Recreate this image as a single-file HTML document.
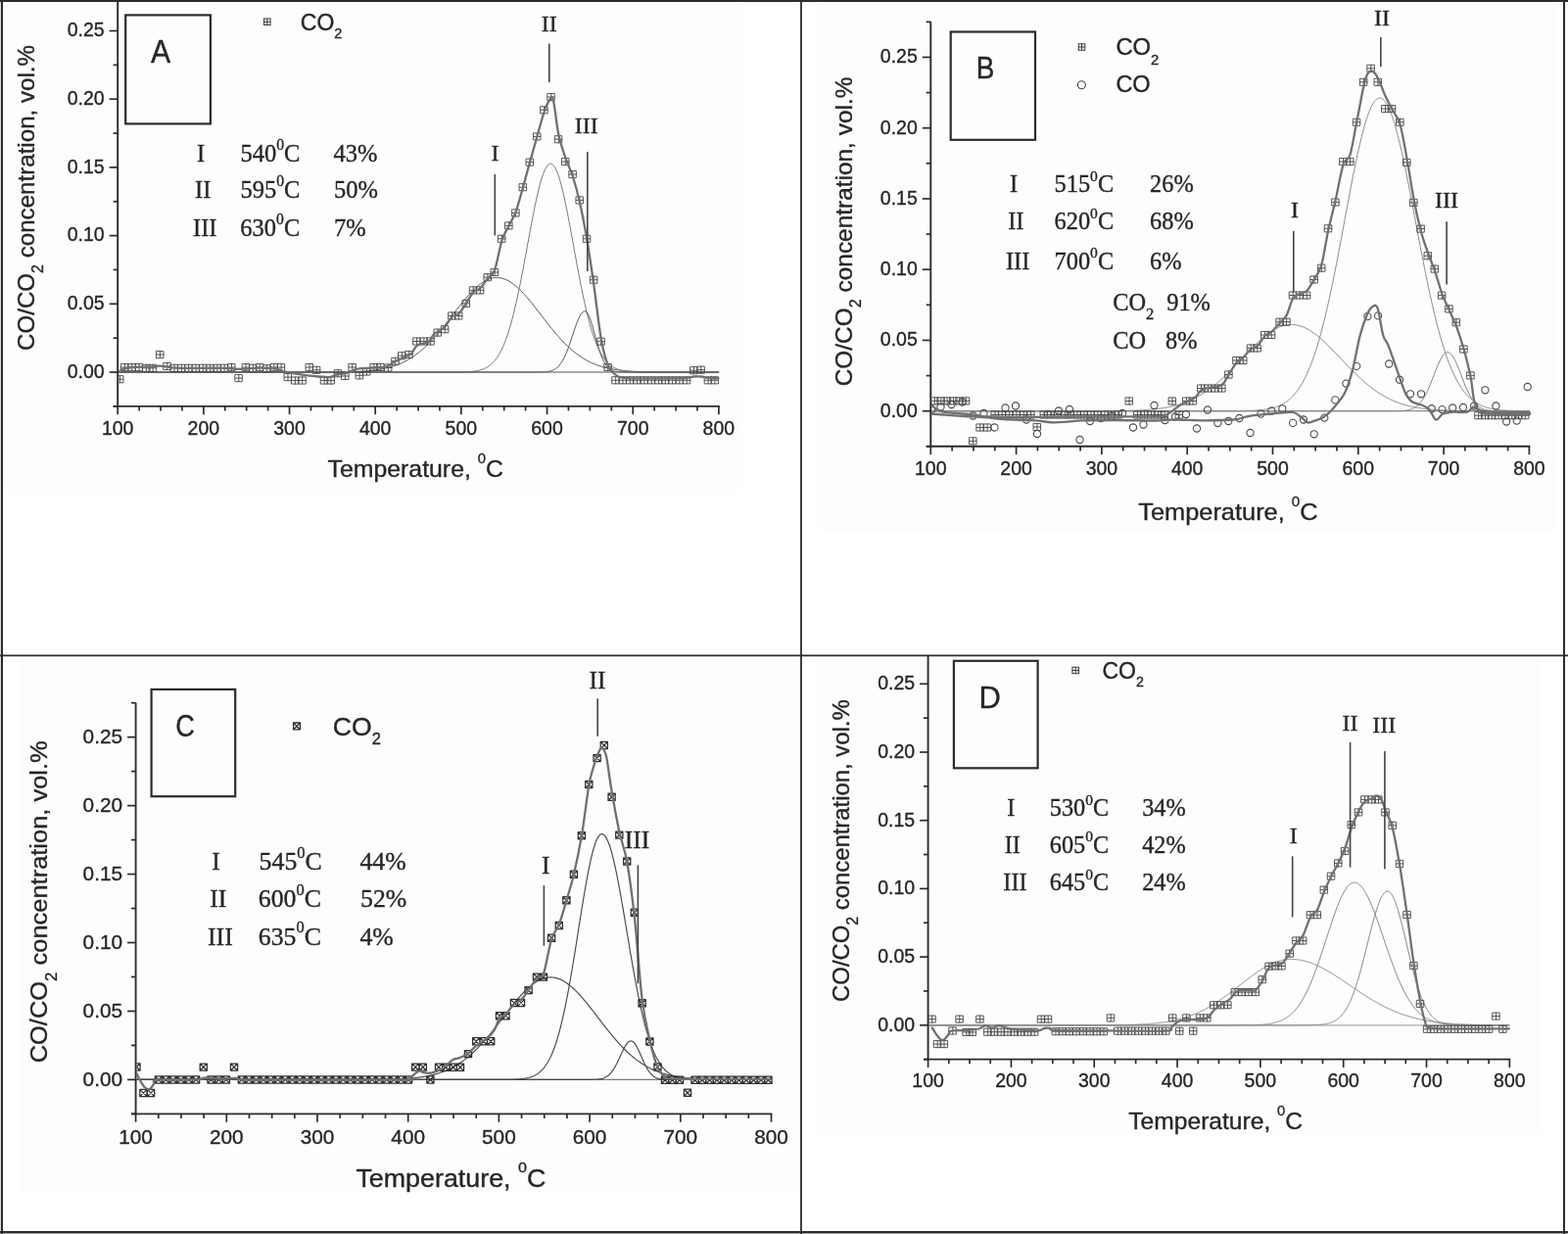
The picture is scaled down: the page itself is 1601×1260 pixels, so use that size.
<!DOCTYPE html>
<html><head><meta charset="utf-8"><title>Figure</title>
<style>html,body{margin:0;padding:0;background:#fff;}svg{display:block;}text{stroke:#262626;stroke-width:0.35px;}</style></head>
<body><svg width="1601" height="1260" viewBox="0 0 1601 1260">
<rect x="0" y="0" width="1601" height="1260" fill="#fff"/>
<rect x="0" y="0" width="1" height="1260" fill="#ddd"/><rect x="0" y="1259" width="1601" height="1" fill="#aaa"/>
<g fill="#fdfdfd"><rect x="3" y="2" width="755" height="499"/><rect x="835" y="2" width="753" height="540"/><rect x="20" y="670" width="790" height="547"/><rect x="835" y="670" width="738" height="488"/></g>
<clipPath id="clipA"><rect x="121.20" y="0.00" width="615.69" height="413.85"/></clipPath>
<g clip-path="url(#clipA)" fill="none" stroke-linejoin="round" stroke-linecap="round">
<line x1="120.20" y1="380.00" x2="733.89" y2="380.00" stroke="#8c8c8c" stroke-width="1.3"/>
<path d="M121.20,380.00 L122.20,380.00 L123.20,380.00 L124.20,380.00 L125.20,380.00 L126.20,380.00 L127.20,380.00 L128.20,380.00 L129.20,380.00 L130.20,380.00 L131.20,380.00 L132.20,380.00 L133.20,380.00 L134.20,380.00 L135.20,380.00 L136.20,380.00 L137.20,380.00 L138.20,380.00 L139.20,380.00 L140.20,380.00 L141.20,380.00 L142.20,380.00 L143.20,380.00 L144.20,380.00 L145.20,380.00 L146.20,380.00 L147.20,380.00 L148.20,380.00 L149.20,380.00 L150.20,380.00 L151.20,380.00 L152.20,380.00 L153.20,380.00 L154.20,380.00 L155.20,380.00 L156.20,380.00 L157.20,380.00 L158.20,380.00 L159.20,380.00 L160.20,380.00 L161.20,380.00 L162.20,380.00 L163.20,380.00 L164.20,380.00 L165.20,380.00 L166.20,380.00 L167.20,380.00 L168.20,380.00 L169.20,380.00 L170.20,380.00 L171.20,380.00 L172.20,380.00 L173.20,380.00 L174.20,380.00 L175.20,380.00 L176.20,380.00 L177.20,380.00 L178.20,380.00 L179.20,380.00 L180.20,380.00 L181.20,380.00 L182.20,380.00 L183.20,380.00 L184.20,380.00 L185.20,380.00 L186.20,380.00 L187.20,380.00 L188.20,380.00 L189.20,380.00 L190.20,380.00 L191.20,380.00 L192.20,380.00 L193.20,380.00 L194.20,380.00 L195.20,380.00 L196.20,380.00 L197.20,380.00 L198.20,380.00 L199.20,380.00 L200.20,380.00 L201.20,380.00 L202.20,380.00 L203.20,380.00 L204.20,380.00 L205.20,380.00 L206.20,380.00 L207.20,380.00 L208.20,380.00 L209.20,380.00 L210.20,380.00 L211.20,380.00 L212.20,380.00 L213.20,380.00 L214.20,380.00 L215.20,380.00 L216.20,380.00 L217.20,380.00 L218.20,380.00 L219.20,380.00 L220.20,380.00 L221.20,380.00 L222.20,380.00 L223.20,380.00 L224.20,380.00 L225.20,380.00 L226.20,380.00 L227.20,380.00 L228.20,380.00 L229.20,380.00 L230.20,380.00 L231.20,380.00 L232.20,380.00 L233.20,380.00 L234.20,380.00 L235.20,380.00 L236.20,380.00 L237.20,380.00 L238.20,380.00 L239.20,380.00 L240.20,380.00 L241.20,380.00 L242.20,380.00 L243.20,380.00 L244.20,380.00 L245.20,380.00 L246.20,380.00 L247.20,380.00 L248.20,380.00 L249.20,380.00 L250.20,380.00 L251.20,380.00 L252.20,380.00 L253.20,380.00 L254.20,380.00 L255.20,380.00 L256.20,380.00 L257.20,380.00 L258.20,380.00 L259.20,380.00 L260.20,380.00 L261.20,380.00 L262.20,380.00 L263.20,380.00 L264.20,380.00 L265.20,380.00 L266.20,380.00 L267.20,380.00 L268.20,380.00 L269.20,380.00 L270.20,380.00 L271.20,380.00 L272.20,380.00 L273.20,380.00 L274.20,380.00 L275.20,380.00 L276.20,380.00 L277.20,380.00 L278.20,380.00 L279.20,380.00 L280.20,380.00 L281.20,380.00 L282.20,380.00 L283.20,380.00 L284.20,380.00 L285.20,380.00 L286.20,380.00 L287.20,380.00 L288.20,380.00 L289.20,380.00 L290.20,380.00 L291.20,380.00 L292.20,380.00 L293.20,380.00 L294.20,380.00 L295.20,380.00 L296.20,380.00 L297.20,380.00 L298.20,380.00 L299.20,380.00 L300.20,380.00 L301.20,380.00 L302.20,380.00 L303.20,380.00 L304.20,380.00 L305.20,380.00 L306.20,380.00 L307.20,380.00 L308.20,379.99 L309.20,379.99 L310.20,379.99 L311.20,379.99 L312.20,379.99 L313.20,379.99 L314.20,379.99 L315.20,379.99 L316.20,379.99 L317.20,379.99 L318.20,379.99 L319.20,379.98 L320.20,379.98 L321.20,379.98 L322.20,379.98 L323.20,379.98 L324.20,379.98 L325.20,379.97 L326.20,379.97 L327.20,379.97 L328.20,379.96 L329.20,379.96 L330.20,379.96 L331.20,379.95 L332.20,379.95 L333.20,379.95 L334.20,379.94 L335.20,379.94 L336.20,379.93 L337.20,379.92 L338.20,379.92 L339.20,379.91 L340.20,379.90 L341.20,379.89 L342.20,379.88 L343.20,379.88 L344.20,379.86 L345.20,379.85 L346.20,379.84 L347.20,379.83 L348.20,379.81 L349.20,379.80 L350.20,379.78 L351.20,379.76 L352.20,379.75 L353.20,379.73 L354.20,379.70 L355.20,379.68 L356.20,379.66 L357.20,379.63 L358.20,379.60 L359.20,379.57 L360.20,379.54 L361.20,379.50 L362.20,379.47 L363.20,379.43 L364.20,379.39 L365.20,379.34 L366.20,379.29 L367.20,379.24 L368.20,379.19 L369.20,379.13 L370.20,379.07 L371.20,379.00 L372.20,378.94 L373.20,378.86 L374.20,378.78 L375.20,378.70 L376.20,378.61 L377.20,378.52 L378.20,378.42 L379.20,378.32 L380.20,378.21 L381.20,378.10 L382.20,377.98 L383.20,377.85 L384.20,377.71 L385.20,377.57 L386.20,377.42 L387.20,377.26 L388.20,377.09 L389.20,376.92 L390.20,376.73 L391.20,376.54 L392.20,376.34 L393.20,376.12 L394.20,375.90 L395.20,375.66 L396.20,375.42 L397.20,375.16 L398.20,374.89 L399.20,374.61 L400.20,374.32 L401.20,374.01 L402.20,373.69 L403.20,373.36 L404.20,373.01 L405.20,372.64 L406.20,372.26 L407.20,371.87 L408.20,371.46 L409.20,371.03 L410.20,370.59 L411.20,370.13 L412.20,369.66 L413.20,369.16 L414.20,368.65 L415.20,368.12 L416.20,367.57 L417.20,367.00 L418.20,366.41 L419.20,365.80 L420.20,365.17 L421.20,364.53 L422.20,363.86 L423.20,363.17 L424.20,362.46 L425.20,361.73 L426.20,360.98 L427.20,360.21 L428.20,359.41 L429.20,358.60 L430.20,357.76 L431.20,356.91 L432.20,356.03 L433.20,355.13 L434.20,354.21 L435.20,353.26 L436.20,352.30 L437.20,351.32 L438.20,350.32 L439.20,349.29 L440.20,348.25 L441.20,347.19 L442.20,346.11 L443.20,345.01 L444.20,343.90 L445.20,342.76 L446.20,341.61 L447.20,340.45 L448.20,339.26 L449.20,338.07 L450.20,336.86 L451.20,335.63 L452.20,334.40 L453.20,333.15 L454.20,331.90 L455.20,330.63 L456.20,329.36 L457.20,328.08 L458.20,326.79 L459.20,325.50 L460.20,324.20 L461.20,322.90 L462.20,321.60 L463.20,320.30 L464.20,319.00 L465.20,317.70 L466.20,316.41 L467.20,315.12 L468.20,313.84 L469.20,312.57 L470.20,311.30 L471.20,310.05 L472.20,308.81 L473.20,307.58 L474.20,306.37 L475.20,305.18 L476.20,304.00 L477.20,302.84 L478.20,301.71 L479.20,300.59 L480.20,299.50 L481.20,298.44 L482.20,297.40 L483.20,296.39 L484.20,295.41 L485.20,294.46 L486.20,293.55 L487.20,292.66 L488.20,291.81 L489.20,291.00 L490.20,290.22 L491.20,289.48 L492.20,288.78 L493.20,288.12 L494.20,287.50 L495.20,286.93 L496.20,286.39 L497.20,285.90 L498.20,285.45 L499.20,285.05 L500.20,284.69 L501.20,284.38 L502.20,284.12 L503.20,283.90 L504.20,283.73 L505.20,283.61 L506.20,283.53 L507.20,283.50 L508.20,283.52 L509.20,283.59 L510.20,283.70 L511.20,283.86 L512.20,284.07 L513.20,284.33 L514.20,284.63 L515.20,284.98 L516.20,285.37 L517.20,285.81 L518.20,286.29 L519.20,286.82 L520.20,287.38 L521.20,288.00 L522.20,288.65 L523.20,289.34 L524.20,290.07 L525.20,290.84 L526.20,291.65 L527.20,292.49 L528.20,293.37 L529.20,294.28 L530.20,295.22 L531.20,296.19 L532.20,297.20 L533.20,298.23 L534.20,299.29 L535.20,300.37 L536.20,301.48 L537.20,302.61 L538.20,303.77 L539.20,304.94 L540.20,306.13 L541.20,307.34 L542.20,308.56 L543.20,309.80 L544.20,311.05 L545.20,312.31 L546.20,313.59 L547.20,314.87 L548.20,316.15 L549.20,317.44 L550.20,318.74 L551.20,320.04 L552.20,321.34 L553.20,322.64 L554.20,323.94 L555.20,325.24 L556.20,326.53 L557.20,327.82 L558.20,329.10 L559.20,330.38 L560.20,331.64 L561.20,332.90 L562.20,334.15 L563.20,335.39 L564.20,336.61 L565.20,337.83 L566.20,339.03 L567.20,340.21 L568.20,341.38 L569.20,342.53 L570.20,343.67 L571.20,344.79 L572.20,345.89 L573.20,346.98 L574.20,348.04 L575.20,349.09 L576.20,350.11 L577.20,351.12 L578.20,352.11 L579.20,353.07 L580.20,354.02 L581.20,354.94 L582.20,355.85 L583.20,356.73 L584.20,357.59 L585.20,358.43 L586.20,359.25 L587.20,360.05 L588.20,360.83 L589.20,361.58 L590.20,362.32 L591.20,363.03 L592.20,363.72 L593.20,364.39 L594.20,365.05 L595.20,365.68 L596.20,366.29 L597.20,366.88 L598.20,367.45 L599.20,368.01 L600.20,368.54 L601.20,369.06 L602.20,369.56 L603.20,370.04 L604.20,370.50 L605.20,370.95 L606.20,371.38 L607.20,371.79 L608.20,372.19 L609.20,372.57 L610.20,372.94 L611.20,373.29 L612.20,373.62 L613.20,373.95 L614.20,374.26 L615.20,374.55 L616.20,374.84 L617.20,375.11 L618.20,375.37 L619.20,375.62 L620.20,375.85 L621.20,376.08 L622.20,376.29 L623.20,376.50 L624.20,376.70 L625.20,376.88 L626.20,377.06 L627.20,377.23 L628.20,377.39 L629.20,377.54 L630.20,377.68 L631.20,377.82 L632.20,377.95 L633.20,378.07 L634.20,378.19 L635.20,378.30 L636.20,378.40 L637.20,378.50 L638.20,378.60 L639.20,378.68 L640.20,378.77 L641.20,378.85 L642.20,378.92 L643.20,378.99 L644.20,379.06 L645.20,379.12 L646.20,379.18 L647.20,379.23 L648.20,379.28 L649.20,379.33 L650.20,379.38 L651.20,379.42 L652.20,379.46 L653.20,379.50 L654.20,379.53 L655.20,379.56 L656.20,379.60 L657.20,379.62 L658.20,379.65 L659.20,379.68 L660.20,379.70 L661.20,379.72 L662.20,379.74 L663.20,379.76 L664.20,379.78 L665.20,379.80 L666.20,379.81 L667.20,379.83 L668.20,379.84 L669.20,379.85 L670.20,379.86 L671.20,379.87 L672.20,379.88 L673.20,379.89 L674.20,379.90 L675.20,379.91 L676.20,379.92 L677.20,379.92 L678.20,379.93 L679.20,379.93 L680.20,379.94 L681.20,379.94 L682.20,379.95 L683.20,379.95 L684.20,379.96 L685.20,379.96 L686.20,379.96 L687.20,379.97 L688.20,379.97 L689.20,379.97 L690.20,379.98 L691.20,379.98 L692.20,379.98 L693.20,379.98 L694.20,379.98 L695.20,379.98 L696.20,379.99 L697.20,379.99 L698.20,379.99 L699.20,379.99 L700.20,379.99 L701.20,379.99 L702.20,379.99 L703.20,379.99 L704.20,379.99 L705.20,379.99 L706.20,379.99 L707.20,379.99 L708.20,380.00 L709.20,380.00 L710.20,380.00 L711.20,380.00 L712.20,380.00 L713.20,380.00 L714.20,380.00 L715.20,380.00 L716.20,380.00 L717.20,380.00 L718.20,380.00 L719.20,380.00 L720.20,380.00 L721.20,380.00 L722.20,380.00 L723.20,380.00 L724.20,380.00 L725.20,380.00 L726.20,380.00 L727.20,380.00 L728.20,380.00 L729.20,380.00 L730.20,380.00 L731.20,380.00 L732.20,380.00 L733.20,380.00" stroke="#505050" stroke-width="1.0"/>
<path d="M121.20,380.00 L122.20,380.00 L123.20,380.00 L124.20,380.00 L125.20,380.00 L126.20,380.00 L127.20,380.00 L128.20,380.00 L129.20,380.00 L130.20,380.00 L131.20,380.00 L132.20,380.00 L133.20,380.00 L134.20,380.00 L135.20,380.00 L136.20,380.00 L137.20,380.00 L138.20,380.00 L139.20,380.00 L140.20,380.00 L141.20,380.00 L142.20,380.00 L143.20,380.00 L144.20,380.00 L145.20,380.00 L146.20,380.00 L147.20,380.00 L148.20,380.00 L149.20,380.00 L150.20,380.00 L151.20,380.00 L152.20,380.00 L153.20,380.00 L154.20,380.00 L155.20,380.00 L156.20,380.00 L157.20,380.00 L158.20,380.00 L159.20,380.00 L160.20,380.00 L161.20,380.00 L162.20,380.00 L163.20,380.00 L164.20,380.00 L165.20,380.00 L166.20,380.00 L167.20,380.00 L168.20,380.00 L169.20,380.00 L170.20,380.00 L171.20,380.00 L172.20,380.00 L173.20,380.00 L174.20,380.00 L175.20,380.00 L176.20,380.00 L177.20,380.00 L178.20,380.00 L179.20,380.00 L180.20,380.00 L181.20,380.00 L182.20,380.00 L183.20,380.00 L184.20,380.00 L185.20,380.00 L186.20,380.00 L187.20,380.00 L188.20,380.00 L189.20,380.00 L190.20,380.00 L191.20,380.00 L192.20,380.00 L193.20,380.00 L194.20,380.00 L195.20,380.00 L196.20,380.00 L197.20,380.00 L198.20,380.00 L199.20,380.00 L200.20,380.00 L201.20,380.00 L202.20,380.00 L203.20,380.00 L204.20,380.00 L205.20,380.00 L206.20,380.00 L207.20,380.00 L208.20,380.00 L209.20,380.00 L210.20,380.00 L211.20,380.00 L212.20,380.00 L213.20,380.00 L214.20,380.00 L215.20,380.00 L216.20,380.00 L217.20,380.00 L218.20,380.00 L219.20,380.00 L220.20,380.00 L221.20,380.00 L222.20,380.00 L223.20,380.00 L224.20,380.00 L225.20,380.00 L226.20,380.00 L227.20,380.00 L228.20,380.00 L229.20,380.00 L230.20,380.00 L231.20,380.00 L232.20,380.00 L233.20,380.00 L234.20,380.00 L235.20,380.00 L236.20,380.00 L237.20,380.00 L238.20,380.00 L239.20,380.00 L240.20,380.00 L241.20,380.00 L242.20,380.00 L243.20,380.00 L244.20,380.00 L245.20,380.00 L246.20,380.00 L247.20,380.00 L248.20,380.00 L249.20,380.00 L250.20,380.00 L251.20,380.00 L252.20,380.00 L253.20,380.00 L254.20,380.00 L255.20,380.00 L256.20,380.00 L257.20,380.00 L258.20,380.00 L259.20,380.00 L260.20,380.00 L261.20,380.00 L262.20,380.00 L263.20,380.00 L264.20,380.00 L265.20,380.00 L266.20,380.00 L267.20,380.00 L268.20,380.00 L269.20,380.00 L270.20,380.00 L271.20,380.00 L272.20,380.00 L273.20,380.00 L274.20,380.00 L275.20,380.00 L276.20,380.00 L277.20,380.00 L278.20,380.00 L279.20,380.00 L280.20,380.00 L281.20,380.00 L282.20,380.00 L283.20,380.00 L284.20,380.00 L285.20,380.00 L286.20,380.00 L287.20,380.00 L288.20,380.00 L289.20,380.00 L290.20,380.00 L291.20,380.00 L292.20,380.00 L293.20,380.00 L294.20,380.00 L295.20,380.00 L296.20,380.00 L297.20,380.00 L298.20,380.00 L299.20,380.00 L300.20,380.00 L301.20,380.00 L302.20,380.00 L303.20,380.00 L304.20,380.00 L305.20,380.00 L306.20,380.00 L307.20,380.00 L308.20,380.00 L309.20,380.00 L310.20,380.00 L311.20,380.00 L312.20,380.00 L313.20,380.00 L314.20,380.00 L315.20,380.00 L316.20,380.00 L317.20,380.00 L318.20,380.00 L319.20,380.00 L320.20,380.00 L321.20,380.00 L322.20,380.00 L323.20,380.00 L324.20,380.00 L325.20,380.00 L326.20,380.00 L327.20,380.00 L328.20,380.00 L329.20,380.00 L330.20,380.00 L331.20,380.00 L332.20,380.00 L333.20,380.00 L334.20,380.00 L335.20,380.00 L336.20,380.00 L337.20,380.00 L338.20,380.00 L339.20,380.00 L340.20,380.00 L341.20,380.00 L342.20,380.00 L343.20,380.00 L344.20,380.00 L345.20,380.00 L346.20,380.00 L347.20,380.00 L348.20,380.00 L349.20,380.00 L350.20,380.00 L351.20,380.00 L352.20,380.00 L353.20,380.00 L354.20,380.00 L355.20,380.00 L356.20,380.00 L357.20,380.00 L358.20,380.00 L359.20,380.00 L360.20,380.00 L361.20,380.00 L362.20,380.00 L363.20,380.00 L364.20,380.00 L365.20,380.00 L366.20,380.00 L367.20,380.00 L368.20,380.00 L369.20,380.00 L370.20,380.00 L371.20,380.00 L372.20,380.00 L373.20,380.00 L374.20,380.00 L375.20,380.00 L376.20,380.00 L377.20,380.00 L378.20,380.00 L379.20,380.00 L380.20,380.00 L381.20,380.00 L382.20,380.00 L383.20,380.00 L384.20,380.00 L385.20,380.00 L386.20,380.00 L387.20,380.00 L388.20,380.00 L389.20,380.00 L390.20,380.00 L391.20,380.00 L392.20,380.00 L393.20,380.00 L394.20,380.00 L395.20,380.00 L396.20,380.00 L397.20,380.00 L398.20,380.00 L399.20,380.00 L400.20,380.00 L401.20,380.00 L402.20,380.00 L403.20,380.00 L404.20,380.00 L405.20,380.00 L406.20,380.00 L407.20,380.00 L408.20,380.00 L409.20,380.00 L410.20,380.00 L411.20,380.00 L412.20,380.00 L413.20,380.00 L414.20,380.00 L415.20,380.00 L416.20,380.00 L417.20,380.00 L418.20,380.00 L419.20,380.00 L420.20,380.00 L421.20,380.00 L422.20,380.00 L423.20,380.00 L424.20,380.00 L425.20,380.00 L426.20,380.00 L427.20,380.00 L428.20,380.00 L429.20,380.00 L430.20,380.00 L431.20,380.00 L432.20,380.00 L433.20,380.00 L434.20,380.00 L435.20,380.00 L436.20,380.00 L437.20,380.00 L438.20,380.00 L439.20,380.00 L440.20,380.00 L441.20,380.00 L442.20,380.00 L443.20,380.00 L444.20,380.00 L445.20,380.00 L446.20,380.00 L447.20,380.00 L448.20,380.00 L449.20,380.00 L450.20,380.00 L451.20,380.00 L452.20,380.00 L453.20,379.99 L454.20,379.99 L455.20,379.99 L456.20,379.99 L457.20,379.99 L458.20,379.99 L459.20,379.98 L460.20,379.98 L461.20,379.98 L462.20,379.97 L463.20,379.97 L464.20,379.96 L465.20,379.95 L466.20,379.94 L467.20,379.93 L468.20,379.92 L469.20,379.90 L470.20,379.89 L471.20,379.87 L472.20,379.84 L473.20,379.82 L474.20,379.78 L475.20,379.75 L476.20,379.71 L477.20,379.66 L478.20,379.60 L479.20,379.54 L480.20,379.46 L481.20,379.38 L482.20,379.29 L483.20,379.18 L484.20,379.05 L485.20,378.91 L486.20,378.75 L487.20,378.58 L488.20,378.37 L489.20,378.15 L490.20,377.89 L491.20,377.60 L492.20,377.28 L493.20,376.93 L494.20,376.53 L495.20,376.08 L496.20,375.59 L497.20,375.05 L498.20,374.45 L499.20,373.78 L500.20,373.05 L501.20,372.24 L502.20,371.36 L503.20,370.40 L504.20,369.34 L505.20,368.19 L506.20,366.94 L507.20,365.59 L508.20,364.12 L509.20,362.53 L510.20,360.82 L511.20,358.98 L512.20,357.00 L513.20,354.88 L514.20,352.62 L515.20,350.20 L516.20,347.63 L517.20,344.90 L518.20,342.01 L519.20,338.95 L520.20,335.72 L521.20,332.32 L522.20,328.76 L523.20,325.03 L524.20,321.13 L525.20,317.06 L526.20,312.83 L527.20,308.45 L528.20,303.92 L529.20,299.24 L530.20,294.43 L531.20,289.50 L532.20,284.45 L533.20,279.30 L534.20,274.05 L535.20,268.74 L536.20,263.36 L537.20,257.95 L538.20,252.50 L539.20,247.06 L540.20,241.62 L541.20,236.22 L542.20,230.88 L543.20,225.61 L544.20,220.44 L545.20,215.39 L546.20,210.49 L547.20,205.74 L548.20,201.19 L549.20,196.84 L550.20,192.71 L551.20,188.84 L552.20,185.23 L553.20,181.91 L554.20,178.89 L555.20,176.19 L556.20,173.81 L557.20,171.79 L558.20,170.11 L559.20,168.80 L560.20,167.86 L561.20,167.29 L562.20,167.10 L563.20,167.29 L564.20,167.88 L565.20,168.84 L566.20,170.19 L567.20,171.91 L568.20,173.98 L569.20,176.42 L570.20,179.19 L571.20,182.28 L572.20,185.68 L573.20,189.37 L574.20,193.33 L575.20,197.55 L576.20,201.99 L577.20,206.64 L578.20,211.48 L579.20,216.48 L580.20,221.63 L581.20,226.89 L582.20,232.24 L583.20,237.67 L584.20,243.15 L585.20,248.66 L586.20,254.18 L587.20,259.69 L588.20,265.16 L589.20,270.59 L590.20,275.95 L591.20,281.22 L592.20,286.40 L593.20,291.47 L594.20,296.42 L595.20,301.24 L596.20,305.91 L597.20,310.44 L598.20,314.80 L599.20,319.01 L600.20,323.05 L601.20,326.91 L602.20,330.61 L603.20,334.13 L604.20,337.48 L605.20,340.65 L606.20,343.66 L607.20,346.49 L608.20,349.17 L609.20,351.68 L610.20,354.03 L611.20,356.23 L612.20,358.29 L613.20,360.20 L614.20,361.98 L615.20,363.62 L616.20,365.15 L617.20,366.56 L618.20,367.85 L619.20,369.04 L620.20,370.13 L621.20,371.13 L622.20,372.05 L623.20,372.88 L624.20,373.64 L625.20,374.32 L626.20,374.94 L627.20,375.51 L628.20,376.01 L629.20,376.47 L630.20,376.88 L631.20,377.25 L632.20,377.57 L633.20,377.87 L634.20,378.13 L635.20,378.36 L636.20,378.57 L637.20,378.75 L638.20,378.91 L639.20,379.05 L640.20,379.18 L641.20,379.29 L642.20,379.38 L643.20,379.47 L644.20,379.54 L645.20,379.61 L646.20,379.66 L647.20,379.71 L648.20,379.75 L649.20,379.79 L650.20,379.82 L651.20,379.85 L652.20,379.87 L653.20,379.89 L654.20,379.91 L655.20,379.92 L656.20,379.93 L657.20,379.94 L658.20,379.95 L659.20,379.96 L660.20,379.97 L661.20,379.97 L662.20,379.98 L663.20,379.98 L664.20,379.98 L665.20,379.99 L666.20,379.99 L667.20,379.99 L668.20,379.99 L669.20,379.99 L670.20,379.99 L671.20,380.00 L672.20,380.00 L673.20,380.00 L674.20,380.00 L675.20,380.00 L676.20,380.00 L677.20,380.00 L678.20,380.00 L679.20,380.00 L680.20,380.00 L681.20,380.00 L682.20,380.00 L683.20,380.00 L684.20,380.00 L685.20,380.00 L686.20,380.00 L687.20,380.00 L688.20,380.00 L689.20,380.00 L690.20,380.00 L691.20,380.00 L692.20,380.00 L693.20,380.00 L694.20,380.00 L695.20,380.00 L696.20,380.00 L697.20,380.00 L698.20,380.00 L699.20,380.00 L700.20,380.00 L701.20,380.00 L702.20,380.00 L703.20,380.00 L704.20,380.00 L705.20,380.00 L706.20,380.00 L707.20,380.00 L708.20,380.00 L709.20,380.00 L710.20,380.00 L711.20,380.00 L712.20,380.00 L713.20,380.00 L714.20,380.00 L715.20,380.00 L716.20,380.00 L717.20,380.00 L718.20,380.00 L719.20,380.00 L720.20,380.00 L721.20,380.00 L722.20,380.00 L723.20,380.00 L724.20,380.00 L725.20,380.00 L726.20,380.00 L727.20,380.00 L728.20,380.00 L729.20,380.00 L730.20,380.00 L731.20,380.00 L732.20,380.00 L733.20,380.00" stroke="#777" stroke-width="1.0"/>
<path d="M121.20,380.00 L122.20,380.00 L123.20,380.00 L124.20,380.00 L125.20,380.00 L126.20,380.00 L127.20,380.00 L128.20,380.00 L129.20,380.00 L130.20,380.00 L131.20,380.00 L132.20,380.00 L133.20,380.00 L134.20,380.00 L135.20,380.00 L136.20,380.00 L137.20,380.00 L138.20,380.00 L139.20,380.00 L140.20,380.00 L141.20,380.00 L142.20,380.00 L143.20,380.00 L144.20,380.00 L145.20,380.00 L146.20,380.00 L147.20,380.00 L148.20,380.00 L149.20,380.00 L150.20,380.00 L151.20,380.00 L152.20,380.00 L153.20,380.00 L154.20,380.00 L155.20,380.00 L156.20,380.00 L157.20,380.00 L158.20,380.00 L159.20,380.00 L160.20,380.00 L161.20,380.00 L162.20,380.00 L163.20,380.00 L164.20,380.00 L165.20,380.00 L166.20,380.00 L167.20,380.00 L168.20,380.00 L169.20,380.00 L170.20,380.00 L171.20,380.00 L172.20,380.00 L173.20,380.00 L174.20,380.00 L175.20,380.00 L176.20,380.00 L177.20,380.00 L178.20,380.00 L179.20,380.00 L180.20,380.00 L181.20,380.00 L182.20,380.00 L183.20,380.00 L184.20,380.00 L185.20,380.00 L186.20,380.00 L187.20,380.00 L188.20,380.00 L189.20,380.00 L190.20,380.00 L191.20,380.00 L192.20,380.00 L193.20,380.00 L194.20,380.00 L195.20,380.00 L196.20,380.00 L197.20,380.00 L198.20,380.00 L199.20,380.00 L200.20,380.00 L201.20,380.00 L202.20,380.00 L203.20,380.00 L204.20,380.00 L205.20,380.00 L206.20,380.00 L207.20,380.00 L208.20,380.00 L209.20,380.00 L210.20,380.00 L211.20,380.00 L212.20,380.00 L213.20,380.00 L214.20,380.00 L215.20,380.00 L216.20,380.00 L217.20,380.00 L218.20,380.00 L219.20,380.00 L220.20,380.00 L221.20,380.00 L222.20,380.00 L223.20,380.00 L224.20,380.00 L225.20,380.00 L226.20,380.00 L227.20,380.00 L228.20,380.00 L229.20,380.00 L230.20,380.00 L231.20,380.00 L232.20,380.00 L233.20,380.00 L234.20,380.00 L235.20,380.00 L236.20,380.00 L237.20,380.00 L238.20,380.00 L239.20,380.00 L240.20,380.00 L241.20,380.00 L242.20,380.00 L243.20,380.00 L244.20,380.00 L245.20,380.00 L246.20,380.00 L247.20,380.00 L248.20,380.00 L249.20,380.00 L250.20,380.00 L251.20,380.00 L252.20,380.00 L253.20,380.00 L254.20,380.00 L255.20,380.00 L256.20,380.00 L257.20,380.00 L258.20,380.00 L259.20,380.00 L260.20,380.00 L261.20,380.00 L262.20,380.00 L263.20,380.00 L264.20,380.00 L265.20,380.00 L266.20,380.00 L267.20,380.00 L268.20,380.00 L269.20,380.00 L270.20,380.00 L271.20,380.00 L272.20,380.00 L273.20,380.00 L274.20,380.00 L275.20,380.00 L276.20,380.00 L277.20,380.00 L278.20,380.00 L279.20,380.00 L280.20,380.00 L281.20,380.00 L282.20,380.00 L283.20,380.00 L284.20,380.00 L285.20,380.00 L286.20,380.00 L287.20,380.00 L288.20,380.00 L289.20,380.00 L290.20,380.00 L291.20,380.00 L292.20,380.00 L293.20,380.00 L294.20,380.00 L295.20,380.00 L296.20,380.00 L297.20,380.00 L298.20,380.00 L299.20,380.00 L300.20,380.00 L301.20,380.00 L302.20,380.00 L303.20,380.00 L304.20,380.00 L305.20,380.00 L306.20,380.00 L307.20,380.00 L308.20,380.00 L309.20,380.00 L310.20,380.00 L311.20,380.00 L312.20,380.00 L313.20,380.00 L314.20,380.00 L315.20,380.00 L316.20,380.00 L317.20,380.00 L318.20,380.00 L319.20,380.00 L320.20,380.00 L321.20,380.00 L322.20,380.00 L323.20,380.00 L324.20,380.00 L325.20,380.00 L326.20,380.00 L327.20,380.00 L328.20,380.00 L329.20,380.00 L330.20,380.00 L331.20,380.00 L332.20,380.00 L333.20,380.00 L334.20,380.00 L335.20,380.00 L336.20,380.00 L337.20,380.00 L338.20,380.00 L339.20,380.00 L340.20,380.00 L341.20,380.00 L342.20,380.00 L343.20,380.00 L344.20,380.00 L345.20,380.00 L346.20,380.00 L347.20,380.00 L348.20,380.00 L349.20,380.00 L350.20,380.00 L351.20,380.00 L352.20,380.00 L353.20,380.00 L354.20,380.00 L355.20,380.00 L356.20,380.00 L357.20,380.00 L358.20,380.00 L359.20,380.00 L360.20,380.00 L361.20,380.00 L362.20,380.00 L363.20,380.00 L364.20,380.00 L365.20,380.00 L366.20,380.00 L367.20,380.00 L368.20,380.00 L369.20,380.00 L370.20,380.00 L371.20,380.00 L372.20,380.00 L373.20,380.00 L374.20,380.00 L375.20,380.00 L376.20,380.00 L377.20,380.00 L378.20,380.00 L379.20,380.00 L380.20,380.00 L381.20,380.00 L382.20,380.00 L383.20,380.00 L384.20,380.00 L385.20,380.00 L386.20,380.00 L387.20,380.00 L388.20,380.00 L389.20,380.00 L390.20,380.00 L391.20,380.00 L392.20,380.00 L393.20,380.00 L394.20,380.00 L395.20,380.00 L396.20,380.00 L397.20,380.00 L398.20,380.00 L399.20,380.00 L400.20,380.00 L401.20,380.00 L402.20,380.00 L403.20,380.00 L404.20,380.00 L405.20,380.00 L406.20,380.00 L407.20,380.00 L408.20,380.00 L409.20,380.00 L410.20,380.00 L411.20,380.00 L412.20,380.00 L413.20,380.00 L414.20,380.00 L415.20,380.00 L416.20,380.00 L417.20,380.00 L418.20,380.00 L419.20,380.00 L420.20,380.00 L421.20,380.00 L422.20,380.00 L423.20,380.00 L424.20,380.00 L425.20,380.00 L426.20,380.00 L427.20,380.00 L428.20,380.00 L429.20,380.00 L430.20,380.00 L431.20,380.00 L432.20,380.00 L433.20,380.00 L434.20,380.00 L435.20,380.00 L436.20,380.00 L437.20,380.00 L438.20,380.00 L439.20,380.00 L440.20,380.00 L441.20,380.00 L442.20,380.00 L443.20,380.00 L444.20,380.00 L445.20,380.00 L446.20,380.00 L447.20,380.00 L448.20,380.00 L449.20,380.00 L450.20,380.00 L451.20,380.00 L452.20,380.00 L453.20,380.00 L454.20,380.00 L455.20,380.00 L456.20,380.00 L457.20,380.00 L458.20,380.00 L459.20,380.00 L460.20,380.00 L461.20,380.00 L462.20,380.00 L463.20,380.00 L464.20,380.00 L465.20,380.00 L466.20,380.00 L467.20,380.00 L468.20,380.00 L469.20,380.00 L470.20,380.00 L471.20,380.00 L472.20,380.00 L473.20,380.00 L474.20,380.00 L475.20,380.00 L476.20,380.00 L477.20,380.00 L478.20,380.00 L479.20,380.00 L480.20,380.00 L481.20,380.00 L482.20,380.00 L483.20,380.00 L484.20,380.00 L485.20,380.00 L486.20,380.00 L487.20,380.00 L488.20,380.00 L489.20,380.00 L490.20,380.00 L491.20,380.00 L492.20,380.00 L493.20,380.00 L494.20,380.00 L495.20,380.00 L496.20,380.00 L497.20,380.00 L498.20,380.00 L499.20,380.00 L500.20,380.00 L501.20,380.00 L502.20,380.00 L503.20,380.00 L504.20,380.00 L505.20,380.00 L506.20,380.00 L507.20,380.00 L508.20,380.00 L509.20,380.00 L510.20,380.00 L511.20,380.00 L512.20,380.00 L513.20,380.00 L514.20,380.00 L515.20,380.00 L516.20,380.00 L517.20,380.00 L518.20,380.00 L519.20,380.00 L520.20,380.00 L521.20,380.00 L522.20,380.00 L523.20,380.00 L524.20,380.00 L525.20,380.00 L526.20,380.00 L527.20,380.00 L528.20,380.00 L529.20,380.00 L530.20,380.00 L531.20,380.00 L532.20,380.00 L533.20,380.00 L534.20,380.00 L535.20,380.00 L536.20,380.00 L537.20,380.00 L538.20,380.00 L539.20,380.00 L540.20,380.00 L541.20,380.00 L542.20,380.00 L543.20,380.00 L544.20,379.99 L545.20,379.99 L546.20,379.99 L547.20,379.98 L548.20,379.97 L549.20,379.96 L550.20,379.95 L551.20,379.93 L552.20,379.91 L553.20,379.88 L554.20,379.84 L555.20,379.79 L556.20,379.73 L557.20,379.65 L558.20,379.55 L559.20,379.42 L560.20,379.26 L561.20,379.06 L562.20,378.82 L563.20,378.52 L564.20,378.16 L565.20,377.73 L566.20,377.21 L567.20,376.60 L568.20,375.89 L569.20,375.05 L570.20,374.09 L571.20,372.98 L572.20,371.72 L573.20,370.29 L574.20,368.70 L575.20,366.92 L576.20,364.97 L577.20,362.84 L578.20,360.53 L579.20,358.06 L580.20,355.43 L581.20,352.66 L582.20,349.78 L583.20,346.82 L584.20,343.79 L585.20,340.75 L586.20,337.73 L587.20,334.78 L588.20,331.92 L589.20,329.22 L590.20,326.72 L591.20,324.46 L592.20,322.47 L593.20,320.80 L594.20,319.48 L595.20,318.53 L596.20,317.96 L597.20,317.80 L598.20,318.15 L599.20,319.06 L600.20,320.50 L601.20,322.45 L602.20,324.85 L603.20,327.63 L604.20,330.73 L605.20,334.07 L606.20,337.58 L607.20,341.19 L608.20,344.81 L609.20,348.39 L610.20,351.86 L611.20,355.19 L612.20,358.32 L613.20,361.23 L614.20,363.90 L615.20,366.32 L616.20,368.48 L617.20,370.39 L618.20,372.06 L619.20,373.50 L620.20,374.72 L621.20,375.76 L622.20,376.62 L623.20,377.33 L624.20,377.91 L625.20,378.38 L626.20,378.76 L627.20,379.06 L628.20,379.29 L629.20,379.47 L630.20,379.61 L631.20,379.71 L632.20,379.79 L633.20,379.85 L634.20,379.89 L635.20,379.92 L636.20,379.95 L637.20,379.96 L638.20,379.97 L639.20,379.98 L640.20,379.99 L641.20,379.99 L642.20,379.99 L643.20,380.00 L644.20,380.00 L645.20,380.00 L646.20,380.00 L647.20,380.00 L648.20,380.00 L649.20,380.00 L650.20,380.00 L651.20,380.00 L652.20,380.00 L653.20,380.00 L654.20,380.00 L655.20,380.00 L656.20,380.00 L657.20,380.00 L658.20,380.00 L659.20,380.00 L660.20,380.00 L661.20,380.00 L662.20,380.00 L663.20,380.00 L664.20,380.00 L665.20,380.00 L666.20,380.00 L667.20,380.00 L668.20,380.00 L669.20,380.00 L670.20,380.00 L671.20,380.00 L672.20,380.00 L673.20,380.00 L674.20,380.00 L675.20,380.00 L676.20,380.00 L677.20,380.00 L678.20,380.00 L679.20,380.00 L680.20,380.00 L681.20,380.00 L682.20,380.00 L683.20,380.00 L684.20,380.00 L685.20,380.00 L686.20,380.00 L687.20,380.00 L688.20,380.00 L689.20,380.00 L690.20,380.00 L691.20,380.00 L692.20,380.00 L693.20,380.00 L694.20,380.00 L695.20,380.00 L696.20,380.00 L697.20,380.00 L698.20,380.00 L699.20,380.00 L700.20,380.00 L701.20,380.00 L702.20,380.00 L703.20,380.00 L704.20,380.00 L705.20,380.00 L706.20,380.00 L707.20,380.00 L708.20,380.00 L709.20,380.00 L710.20,380.00 L711.20,380.00 L712.20,380.00 L713.20,380.00 L714.20,380.00 L715.20,380.00 L716.20,380.00 L717.20,380.00 L718.20,380.00 L719.20,380.00 L720.20,380.00 L721.20,380.00 L722.20,380.00 L723.20,380.00 L724.20,380.00 L725.20,380.00 L726.20,380.00 L727.20,380.00 L728.20,380.00 L729.20,380.00 L730.20,380.00 L731.20,380.00 L732.20,380.00 L733.20,380.00" stroke="#555" stroke-width="1.0"/>
<path d="M118.85,383.65h7.1v7.1h-7.1z M122.40,383.65v7.1 M118.85,387.20h7.1M123.85,371.55h7.1v7.1h-7.1z M127.40,371.55v7.1 M123.85,375.10h7.1M131.15,371.55h7.1v7.1h-7.1z M134.70,371.55v7.1 M131.15,375.10h7.1M138.45,371.55h7.1v7.1h-7.1z M142.00,371.55v7.1 M138.45,375.10h7.1M145.85,372.25h7.1v7.1h-7.1z M149.40,372.25v7.1 M145.85,375.80h7.1M152.55,372.25h7.1v7.1h-7.1z M156.10,372.25v7.1 M152.55,375.80h7.1M159.85,358.55h7.1v7.1h-7.1z M163.40,358.55v7.1 M159.85,362.10h7.1M167.15,370.45h7.1v7.1h-7.1z M170.70,370.45v7.1 M167.15,374.00h7.1M174.45,372.25h7.1v7.1h-7.1z M178.00,372.25v7.1 M174.45,375.80h7.1M181.75,372.25h7.1v7.1h-7.1z M185.30,372.25v7.1 M181.75,375.80h7.1M189.05,372.25h7.1v7.1h-7.1z M192.60,372.25v7.1 M189.05,375.80h7.1M196.45,372.25h7.1v7.1h-7.1z M200.00,372.25v7.1 M196.45,375.80h7.1M203.75,372.25h7.1v7.1h-7.1z M207.30,372.25v7.1 M203.75,375.80h7.1M211.05,372.25h7.1v7.1h-7.1z M214.60,372.25v7.1 M211.05,375.80h7.1M218.35,372.25h7.1v7.1h-7.1z M221.90,372.25v7.1 M218.35,375.80h7.1M225.65,372.25h7.1v7.1h-7.1z M229.20,372.25v7.1 M225.65,375.80h7.1M232.95,371.55h7.1v7.1h-7.1z M236.50,371.55v7.1 M232.95,375.10h7.1M240.25,382.55h7.1v7.1h-7.1z M243.80,382.55v7.1 M240.25,386.10h7.1M247.55,371.55h7.1v7.1h-7.1z M251.10,371.55v7.1 M247.55,375.10h7.1M254.85,372.25h7.1v7.1h-7.1z M258.40,372.25v7.1 M254.85,375.80h7.1M261.65,371.55h7.1v7.1h-7.1z M265.20,371.55v7.1 M261.65,375.10h7.1M268.95,372.65h7.1v7.1h-7.1z M272.50,372.65v7.1 M268.95,376.20h7.1M276.25,371.55h7.1v7.1h-7.1z M279.80,371.55v7.1 M276.25,375.10h7.1M283.55,371.55h7.1v7.1h-7.1z M287.10,371.55v7.1 M283.55,375.10h7.1M290.45,381.55h7.1v7.1h-7.1z M294.00,381.55v7.1 M290.45,385.10h7.1M297.85,384.95h7.1v7.1h-7.1z M301.40,384.95v7.1 M297.85,388.50h7.1M305.15,384.95h7.1v7.1h-7.1z M308.70,384.95v7.1 M305.15,388.50h7.1M312.45,371.45h7.1v7.1h-7.1z M316.00,371.45v7.1 M312.45,375.00h7.1M319.75,374.25h7.1v7.1h-7.1z M323.30,374.25v7.1 M319.75,377.80h7.1M327.65,384.95h7.1v7.1h-7.1z M331.20,384.95v7.1 M327.65,388.50h7.1M334.35,384.95h7.1v7.1h-7.1z M337.90,384.95v7.1 M334.35,388.50h7.1M341.65,377.65h7.1v7.1h-7.1z M345.20,377.65v7.1 M341.65,381.20h7.1M348.95,380.45h7.1v7.1h-7.1z M352.50,380.45v7.1 M348.95,384.00h7.1M356.25,371.45h7.1v7.1h-7.1z M359.80,371.45v7.1 M356.25,375.00h7.1M363.55,379.85h7.1v7.1h-7.1z M367.10,379.85v7.1 M363.55,383.40h7.1M370.85,375.95h7.1v7.1h-7.1z M374.40,375.95v7.1 M370.85,379.50h7.1M378.25,371.45h7.1v7.1h-7.1z M381.80,371.45v7.1 M378.25,375.00h7.1M384.95,371.45h7.1v7.1h-7.1z M388.50,371.45v7.1 M384.95,375.00h7.1M392.85,371.95h7.1v7.1h-7.1z M396.40,371.95v7.1 M392.85,375.50h7.1M400.15,365.25h7.1v7.1h-7.1z M403.70,365.25v7.1 M400.15,368.80h7.1M406.85,359.65h7.1v7.1h-7.1z M410.40,359.65v7.1 M406.85,363.20h7.1M414.15,358.45h7.1v7.1h-7.1z M417.70,358.45v7.1 M414.15,362.00h7.1M422.05,344.95h7.1v7.1h-7.1z M425.60,344.95v7.1 M422.05,348.50h7.1M429.35,344.95h7.1v7.1h-7.1z M432.90,344.95v7.1 M429.35,348.50h7.1M436.15,344.95h7.1v7.1h-7.1z M439.70,344.95v7.1 M436.15,348.50h7.1M443.45,336.05h7.1v7.1h-7.1z M447.00,336.05v7.1 M443.45,339.60h7.1M450.75,332.65h7.1v7.1h-7.1z M454.30,332.65v7.1 M450.75,336.20h7.1M458.05,318.95h7.1v7.1h-7.1z M461.60,318.95v7.1 M458.05,322.50h7.1M464.85,318.95h7.1v7.1h-7.1z M468.40,318.95v7.1 M464.85,322.50h7.1M472.45,306.25h7.1v7.1h-7.1z M476.00,306.25v7.1 M472.45,309.80h7.1M479.65,292.85h7.1v7.1h-7.1z M483.20,292.85v7.1 M479.65,296.40h7.1M486.75,292.85h7.1v7.1h-7.1z M490.30,292.85v7.1 M486.75,296.40h7.1M494.35,279.65h7.1v7.1h-7.1z M497.90,279.65v7.1 M494.35,283.20h7.1M501.45,274.45h7.1v7.1h-7.1z M505.00,274.45v7.1 M501.45,278.00h7.1M508.85,240.25h7.1v7.1h-7.1z M512.40,240.25v7.1 M508.85,243.80h7.1M515.95,226.85h7.1v7.1h-7.1z M519.50,226.85v7.1 M515.95,230.40h7.1M523.05,213.85h7.1v7.1h-7.1z M526.60,213.85v7.1 M523.05,217.40h7.1M530.45,187.65h7.1v7.1h-7.1z M534.00,187.65v7.1 M530.45,191.20h7.1M537.45,162.05h7.1v7.1h-7.1z M541.00,162.05v7.1 M537.45,165.60h7.1M544.85,135.85h7.1v7.1h-7.1z M548.40,135.85v7.1 M544.85,139.40h7.1M552.05,108.75h7.1v7.1h-7.1z M555.60,108.75v7.1 M552.05,112.30h7.1M559.15,95.45h7.1v7.1h-7.1z M562.70,95.45v7.1 M559.15,99.00h7.1M566.75,138.65h7.1v7.1h-7.1z M570.30,138.65v7.1 M566.75,142.20h7.1M573.85,161.55h7.1v7.1h-7.1z M577.40,161.55v7.1 M573.85,165.10h7.1M581.25,174.45h7.1v7.1h-7.1z M584.80,174.45v7.1 M581.25,178.00h7.1M588.35,200.85h7.1v7.1h-7.1z M591.90,200.85v7.1 M588.35,204.40h7.1M595.65,240.25h7.1v7.1h-7.1z M599.20,240.25v7.1 M595.65,243.80h7.1M602.75,282.15h7.1v7.1h-7.1z M606.30,282.15v7.1 M602.75,285.70h7.1M610.15,345.15h7.1v7.1h-7.1z M613.70,345.15v7.1 M610.15,348.70h7.1M617.25,371.45h7.1v7.1h-7.1z M620.80,371.45v7.1 M617.25,375.00h7.1M625.15,384.75h7.1v7.1h-7.1z M628.70,384.75v7.1 M625.15,388.30h7.1M632.45,384.75h7.1v7.1h-7.1z M636.00,384.75v7.1 M632.45,388.30h7.1M639.75,384.75h7.1v7.1h-7.1z M643.30,384.75v7.1 M639.75,388.30h7.1M647.05,384.75h7.1v7.1h-7.1z M650.60,384.75v7.1 M647.05,388.30h7.1M654.35,384.75h7.1v7.1h-7.1z M657.90,384.75v7.1 M654.35,388.30h7.1M661.65,384.75h7.1v7.1h-7.1z M665.20,384.75v7.1 M661.65,388.30h7.1M668.95,384.75h7.1v7.1h-7.1z M672.50,384.75v7.1 M668.95,388.30h7.1M675.75,384.75h7.1v7.1h-7.1z M679.30,384.75v7.1 M675.75,388.30h7.1M683.05,384.75h7.1v7.1h-7.1z M686.60,384.75v7.1 M683.05,388.30h7.1M690.35,384.75h7.1v7.1h-7.1z M693.90,384.75v7.1 M690.35,388.30h7.1M697.65,384.75h7.1v7.1h-7.1z M701.20,384.75v7.1 M697.65,388.30h7.1M704.95,374.65h7.1v7.1h-7.1z M708.50,374.65v7.1 M704.95,378.20h7.1M712.25,374.15h7.1v7.1h-7.1z M715.80,374.15v7.1 M712.25,377.70h7.1M719.55,384.75h7.1v7.1h-7.1z M723.10,384.75v7.1 M719.55,388.30h7.1M726.35,384.75h7.1v7.1h-7.1z M729.90,384.75v7.1 M726.35,388.30h7.1" stroke="#444" stroke-width="0.9"/>
<path d="M120.70,380.00 C121.33,379.58 123.28,378.13 124.50,377.50 C125.72,376.87 126.25,376.62 128.00,376.20 C129.75,375.78 132.17,375.27 135.00,375.00 C137.83,374.73 141.50,374.72 145.00,374.60 C148.50,374.48 153.00,374.45 156.00,374.30 C159.00,374.15 160.67,373.68 163.00,373.70 C165.33,373.72 167.17,374.08 170.00,374.40 C172.83,374.72 175.00,375.37 180.00,375.60 C185.00,375.83 191.67,375.77 200.00,375.80 C208.33,375.83 223.33,375.63 230.00,375.80 C236.67,375.97 236.67,376.67 240.00,376.80 C243.33,376.93 245.83,376.80 250.00,376.60 C254.17,376.40 260.00,375.70 265.00,375.60 C270.00,375.50 275.67,375.35 280.00,376.00 C284.33,376.65 287.25,378.55 291.00,379.50 C294.75,380.45 298.72,381.05 302.50,381.70 C306.28,382.35 309.95,382.93 313.70,383.40 C317.45,383.87 321.25,384.22 325.00,384.50 C328.75,384.78 333.20,385.38 336.20,385.10 C339.20,384.82 340.18,383.45 343.00,382.80 C345.82,382.15 349.73,382.13 353.10,381.20 C356.47,380.27 360.38,378.05 363.20,377.20 C366.02,376.35 367.00,376.38 370.00,376.10 C373.00,375.82 377.47,375.68 381.20,375.50 C384.93,375.32 389.60,375.47 392.40,375.00 C395.20,374.53 396.12,373.73 398.00,372.70 C399.88,371.67 400.87,370.30 403.70,368.80 C406.53,367.30 412.20,365.10 415.00,363.70 C417.80,362.30 418.63,362.27 420.50,360.40 C422.37,358.53 423.38,354.38 426.20,352.50 C429.02,350.62 434.60,350.98 437.40,349.10 C440.20,347.22 441.13,343.07 443.00,341.20 C444.87,339.33 446.72,339.18 448.60,337.90 C450.48,336.62 452.13,335.90 454.30,333.50 C456.47,331.10 459.25,325.67 461.60,323.50 C463.95,321.33 466.00,322.78 468.40,320.50 C470.80,318.22 473.53,313.48 476.00,309.80 C478.47,306.12 480.82,300.97 483.20,298.40 C485.58,295.83 487.85,296.77 490.30,294.40 C492.75,292.03 495.45,287.27 497.90,284.20 C500.35,281.13 502.58,282.40 505.00,276.00 C507.42,269.60 509.98,253.40 512.40,245.80 C514.82,238.20 517.13,235.30 519.50,230.40 C521.87,225.50 524.18,222.93 526.60,216.40 C529.02,209.87 531.60,199.67 534.00,191.20 C536.40,182.73 538.60,174.23 541.00,165.60 C543.40,156.97 545.97,147.95 548.40,139.40 C550.83,130.85 553.42,120.62 555.60,114.30 C557.78,107.98 559.93,103.47 561.50,101.50 C563.07,99.53 563.53,96.55 565.00,102.50 C566.47,108.45 568.23,127.43 570.30,137.20 C572.37,146.97 574.98,153.97 577.40,161.10 C579.82,168.23 582.38,172.45 584.80,180.00 C587.22,187.55 589.50,195.77 591.90,206.40 C594.30,217.03 596.80,229.75 599.20,243.80 C601.60,257.85 603.88,273.72 606.30,290.70 C608.72,307.68 611.28,331.98 613.70,345.70 C616.12,359.42 618.58,367.03 620.80,373.00 C623.02,378.97 624.80,379.42 627.00,381.50 C629.20,383.58 631.00,384.70 634.00,385.50 C637.00,386.30 639.00,386.17 645.00,386.30 C651.00,386.43 660.83,386.35 670.00,386.30 C679.17,386.25 693.67,386.30 700.00,386.00 C706.33,385.70 705.33,384.75 708.00,384.50 C710.67,384.25 713.50,384.25 716.00,384.50 C718.50,384.75 720.08,385.70 723.00,386.00 C725.92,386.30 731.75,386.25 733.50,386.30" stroke="#707070" stroke-width="2.3"/>
</g>
<clipPath id="clipB"><rect x="951.30" y="22.30" width="613.10" height="432.52"/></clipPath>
<g clip-path="url(#clipB)" fill="none" stroke-linejoin="round" stroke-linecap="round">
<line x1="950.30" y1="419.70" x2="1561.40" y2="419.70" stroke="#8c8c8c" stroke-width="1.3"/>
<path d="M951.30,419.70 L952.30,419.70 L953.30,419.70 L954.30,419.70 L955.30,419.70 L956.30,419.70 L957.30,419.70 L958.30,419.70 L959.30,419.70 L960.30,419.70 L961.30,419.70 L962.30,419.70 L963.30,419.70 L964.30,419.70 L965.30,419.70 L966.30,419.70 L967.30,419.70 L968.30,419.70 L969.30,419.70 L970.30,419.70 L971.30,419.70 L972.30,419.70 L973.30,419.70 L974.30,419.70 L975.30,419.70 L976.30,419.70 L977.30,419.70 L978.30,419.70 L979.30,419.70 L980.30,419.70 L981.30,419.70 L982.30,419.70 L983.30,419.70 L984.30,419.70 L985.30,419.70 L986.30,419.70 L987.30,419.70 L988.30,419.70 L989.30,419.70 L990.30,419.70 L991.30,419.70 L992.30,419.70 L993.30,419.70 L994.30,419.70 L995.30,419.70 L996.30,419.70 L997.30,419.70 L998.30,419.70 L999.30,419.70 L1000.30,419.70 L1001.30,419.70 L1002.30,419.70 L1003.30,419.70 L1004.30,419.70 L1005.30,419.70 L1006.30,419.70 L1007.30,419.70 L1008.30,419.70 L1009.30,419.70 L1010.30,419.70 L1011.30,419.70 L1012.30,419.70 L1013.30,419.70 L1014.30,419.70 L1015.30,419.70 L1016.30,419.70 L1017.30,419.70 L1018.30,419.70 L1019.30,419.70 L1020.30,419.70 L1021.30,419.70 L1022.30,419.70 L1023.30,419.70 L1024.30,419.70 L1025.30,419.70 L1026.30,419.70 L1027.30,419.70 L1028.30,419.70 L1029.30,419.70 L1030.30,419.70 L1031.30,419.70 L1032.30,419.70 L1033.30,419.70 L1034.30,419.70 L1035.30,419.70 L1036.30,419.70 L1037.30,419.70 L1038.30,419.70 L1039.30,419.70 L1040.30,419.70 L1041.30,419.70 L1042.30,419.70 L1043.30,419.70 L1044.30,419.70 L1045.30,419.70 L1046.30,419.70 L1047.30,419.70 L1048.30,419.70 L1049.30,419.70 L1050.30,419.70 L1051.30,419.70 L1052.30,419.70 L1053.30,419.70 L1054.30,419.70 L1055.30,419.70 L1056.30,419.70 L1057.30,419.70 L1058.30,419.70 L1059.30,419.70 L1060.30,419.70 L1061.30,419.70 L1062.30,419.70 L1063.30,419.70 L1064.30,419.70 L1065.30,419.70 L1066.30,419.70 L1067.30,419.70 L1068.30,419.70 L1069.30,419.70 L1070.30,419.70 L1071.30,419.70 L1072.30,419.70 L1073.30,419.70 L1074.30,419.70 L1075.30,419.70 L1076.30,419.70 L1077.30,419.70 L1078.30,419.70 L1079.30,419.70 L1080.30,419.70 L1081.30,419.70 L1082.30,419.70 L1083.30,419.70 L1084.30,419.70 L1085.30,419.70 L1086.30,419.70 L1087.30,419.70 L1088.30,419.70 L1089.30,419.70 L1090.30,419.70 L1091.30,419.70 L1092.30,419.70 L1093.30,419.70 L1094.30,419.70 L1095.30,419.69 L1096.30,419.69 L1097.30,419.69 L1098.30,419.69 L1099.30,419.69 L1100.30,419.69 L1101.30,419.69 L1102.30,419.69 L1103.30,419.69 L1104.30,419.69 L1105.30,419.69 L1106.30,419.69 L1107.30,419.69 L1108.30,419.68 L1109.30,419.68 L1110.30,419.68 L1111.30,419.68 L1112.30,419.68 L1113.30,419.68 L1114.30,419.68 L1115.30,419.67 L1116.30,419.67 L1117.30,419.67 L1118.30,419.67 L1119.30,419.66 L1120.30,419.66 L1121.30,419.66 L1122.30,419.65 L1123.30,419.65 L1124.30,419.65 L1125.30,419.64 L1126.30,419.64 L1127.30,419.63 L1128.30,419.63 L1129.30,419.62 L1130.30,419.61 L1131.30,419.61 L1132.30,419.60 L1133.30,419.59 L1134.30,419.59 L1135.30,419.58 L1136.30,419.57 L1137.30,419.56 L1138.30,419.55 L1139.30,419.54 L1140.30,419.53 L1141.30,419.51 L1142.30,419.50 L1143.30,419.49 L1144.30,419.47 L1145.30,419.45 L1146.30,419.44 L1147.30,419.42 L1148.30,419.40 L1149.30,419.38 L1150.30,419.36 L1151.30,419.33 L1152.30,419.31 L1153.30,419.28 L1154.30,419.25 L1155.30,419.22 L1156.30,419.19 L1157.30,419.16 L1158.30,419.12 L1159.30,419.09 L1160.30,419.05 L1161.30,419.01 L1162.30,418.96 L1163.30,418.91 L1164.30,418.87 L1165.30,418.81 L1166.30,418.76 L1167.30,418.70 L1168.30,418.64 L1169.30,418.58 L1170.30,418.51 L1171.30,418.44 L1172.30,418.36 L1173.30,418.28 L1174.30,418.20 L1175.30,418.12 L1176.30,418.02 L1177.30,417.93 L1178.30,417.83 L1179.30,417.72 L1180.30,417.61 L1181.30,417.50 L1182.30,417.37 L1183.30,417.25 L1184.30,417.11 L1185.30,416.98 L1186.30,416.83 L1187.30,416.68 L1188.30,416.52 L1189.30,416.35 L1190.30,416.18 L1191.30,416.00 L1192.30,415.81 L1193.30,415.61 L1194.30,415.41 L1195.30,415.20 L1196.30,414.97 L1197.30,414.74 L1198.30,414.50 L1199.30,414.25 L1200.30,413.99 L1201.30,413.72 L1202.30,413.44 L1203.30,413.15 L1204.30,412.85 L1205.30,412.54 L1206.30,412.22 L1207.30,411.88 L1208.30,411.54 L1209.30,411.18 L1210.30,410.81 L1211.30,410.42 L1212.30,410.03 L1213.30,409.62 L1214.30,409.19 L1215.30,408.76 L1216.30,408.31 L1217.30,407.84 L1218.30,407.37 L1219.30,406.88 L1220.30,406.37 L1221.30,405.85 L1222.30,405.31 L1223.30,404.76 L1224.30,404.20 L1225.30,403.62 L1226.30,403.02 L1227.30,402.41 L1228.30,401.79 L1229.30,401.14 L1230.30,400.49 L1231.30,399.82 L1232.30,399.13 L1233.30,398.42 L1234.30,397.71 L1235.30,396.97 L1236.30,396.22 L1237.30,395.46 L1238.30,394.68 L1239.30,393.89 L1240.30,393.08 L1241.30,392.25 L1242.30,391.41 L1243.30,390.56 L1244.30,389.70 L1245.30,388.82 L1246.30,387.92 L1247.30,387.02 L1248.30,386.10 L1249.30,385.17 L1250.30,384.23 L1251.30,383.27 L1252.30,382.31 L1253.30,381.33 L1254.30,380.34 L1255.30,379.35 L1256.30,378.34 L1257.30,377.33 L1258.30,376.31 L1259.30,375.28 L1260.30,374.25 L1261.30,373.21 L1262.30,372.16 L1263.30,371.11 L1264.30,370.06 L1265.30,369.00 L1266.30,367.95 L1267.30,366.89 L1268.30,365.83 L1269.30,364.76 L1270.30,363.71 L1271.30,362.65 L1272.30,361.59 L1273.30,360.54 L1274.30,359.50 L1275.30,358.46 L1276.30,357.42 L1277.30,356.40 L1278.30,355.38 L1279.30,354.37 L1280.30,353.37 L1281.30,352.38 L1282.30,351.41 L1283.30,350.44 L1284.30,349.49 L1285.30,348.56 L1286.30,347.64 L1287.30,346.74 L1288.30,345.86 L1289.30,344.99 L1290.30,344.15 L1291.30,343.32 L1292.30,342.52 L1293.30,341.74 L1294.30,340.98 L1295.30,340.24 L1296.30,339.53 L1297.30,338.85 L1298.30,338.19 L1299.30,337.56 L1300.30,336.95 L1301.30,336.38 L1302.30,335.83 L1303.30,335.31 L1304.30,334.82 L1305.30,334.37 L1306.30,333.94 L1307.30,333.55 L1308.30,333.18 L1309.30,332.85 L1310.30,332.56 L1311.30,332.29 L1312.30,332.06 L1313.30,331.87 L1314.30,331.70 L1315.30,331.58 L1316.30,331.48 L1317.30,331.42 L1318.30,331.40 L1319.30,331.41 L1320.30,331.46 L1321.30,331.54 L1322.30,331.65 L1323.30,331.80 L1324.30,331.98 L1325.30,332.20 L1326.30,332.45 L1327.30,332.73 L1328.30,333.05 L1329.30,333.40 L1330.30,333.78 L1331.30,334.19 L1332.30,334.64 L1333.30,335.11 L1334.30,335.62 L1335.30,336.15 L1336.30,336.72 L1337.30,337.31 L1338.30,337.93 L1339.30,338.58 L1340.30,339.26 L1341.30,339.96 L1342.30,340.68 L1343.30,341.43 L1344.30,342.20 L1345.30,343.00 L1346.30,343.82 L1347.30,344.65 L1348.30,345.51 L1349.30,346.39 L1350.30,347.28 L1351.30,348.19 L1352.30,349.12 L1353.30,350.06 L1354.30,351.02 L1355.30,351.99 L1356.30,352.97 L1357.30,353.97 L1358.30,354.97 L1359.30,355.99 L1360.30,357.01 L1361.30,358.04 L1362.30,359.08 L1363.30,360.12 L1364.30,361.17 L1365.30,362.23 L1366.30,363.28 L1367.30,364.34 L1368.30,365.40 L1369.30,366.46 L1370.30,367.52 L1371.30,368.58 L1372.30,369.64 L1373.30,370.69 L1374.30,371.74 L1375.30,372.79 L1376.30,373.83 L1377.30,374.87 L1378.30,375.90 L1379.30,376.92 L1380.30,377.94 L1381.30,378.95 L1382.30,379.95 L1383.30,380.94 L1384.30,381.92 L1385.30,382.89 L1386.30,383.84 L1387.30,384.79 L1388.30,385.73 L1389.30,386.65 L1390.30,387.56 L1391.30,388.46 L1392.30,389.35 L1393.30,390.22 L1394.30,391.08 L1395.30,391.92 L1396.30,392.75 L1397.30,393.56 L1398.30,394.36 L1399.30,395.15 L1400.30,395.92 L1401.30,396.67 L1402.30,397.41 L1403.30,398.14 L1404.30,398.85 L1405.30,399.54 L1406.30,400.22 L1407.30,400.88 L1408.30,401.53 L1409.30,402.16 L1410.30,402.78 L1411.30,403.38 L1412.30,403.97 L1413.30,404.54 L1414.30,405.09 L1415.30,405.64 L1416.30,406.16 L1417.30,406.67 L1418.30,407.17 L1419.30,407.65 L1420.30,408.12 L1421.30,408.58 L1422.30,409.02 L1423.30,409.45 L1424.30,409.86 L1425.30,410.26 L1426.30,410.65 L1427.30,411.03 L1428.30,411.39 L1429.30,411.75 L1430.30,412.08 L1431.30,412.41 L1432.30,412.73 L1433.30,413.04 L1434.30,413.33 L1435.30,413.61 L1436.30,413.89 L1437.30,414.15 L1438.30,414.40 L1439.30,414.65 L1440.30,414.88 L1441.30,415.11 L1442.30,415.33 L1443.30,415.53 L1444.30,415.73 L1445.30,415.92 L1446.30,416.11 L1447.30,416.28 L1448.30,416.45 L1449.30,416.62 L1450.30,416.77 L1451.30,416.92 L1452.30,417.06 L1453.30,417.20 L1454.30,417.32 L1455.30,417.45 L1456.30,417.57 L1457.30,417.68 L1458.30,417.79 L1459.30,417.89 L1460.30,417.99 L1461.30,418.08 L1462.30,418.17 L1463.30,418.25 L1464.30,418.33 L1465.30,418.41 L1466.30,418.48 L1467.30,418.55 L1468.30,418.62 L1469.30,418.68 L1470.30,418.74 L1471.30,418.79 L1472.30,418.85 L1473.30,418.90 L1474.30,418.94 L1475.30,418.99 L1476.30,419.03 L1477.30,419.07 L1478.30,419.11 L1479.30,419.14 L1480.30,419.18 L1481.30,419.21 L1482.30,419.24 L1483.30,419.27 L1484.30,419.30 L1485.30,419.32 L1486.30,419.35 L1487.30,419.37 L1488.30,419.39 L1489.30,419.41 L1490.30,419.43 L1491.30,419.45 L1492.30,419.46 L1493.30,419.48 L1494.30,419.49 L1495.30,419.51 L1496.30,419.52 L1497.30,419.53 L1498.30,419.54 L1499.30,419.55 L1500.30,419.56 L1501.30,419.57 L1502.30,419.58 L1503.30,419.59 L1504.30,419.60 L1505.30,419.61 L1506.30,419.61 L1507.30,419.62 L1508.30,419.62 L1509.30,419.63 L1510.30,419.63 L1511.30,419.64 L1512.30,419.64 L1513.30,419.65 L1514.30,419.65 L1515.30,419.66 L1516.30,419.66 L1517.30,419.66 L1518.30,419.66 L1519.30,419.67 L1520.30,419.67 L1521.30,419.67 L1522.30,419.67 L1523.30,419.68 L1524.30,419.68 L1525.30,419.68 L1526.30,419.68 L1527.30,419.68 L1528.30,419.68 L1529.30,419.69 L1530.30,419.69 L1531.30,419.69 L1532.30,419.69 L1533.30,419.69 L1534.30,419.69 L1535.30,419.69 L1536.30,419.69 L1537.30,419.69 L1538.30,419.69 L1539.30,419.69 L1540.30,419.69 L1541.30,419.69 L1542.30,419.70 L1543.30,419.70 L1544.30,419.70 L1545.30,419.70 L1546.30,419.70 L1547.30,419.70 L1548.30,419.70 L1549.30,419.70 L1550.30,419.70 L1551.30,419.70 L1552.30,419.70 L1553.30,419.70 L1554.30,419.70 L1555.30,419.70 L1556.30,419.70 L1557.30,419.70 L1558.30,419.70 L1559.30,419.70 L1560.30,419.70 L1561.30,419.70" stroke="#808080" stroke-width="1.0"/>
<path d="M951.30,419.70 L952.30,419.70 L953.30,419.70 L954.30,419.70 L955.30,419.70 L956.30,419.70 L957.30,419.70 L958.30,419.70 L959.30,419.70 L960.30,419.70 L961.30,419.70 L962.30,419.70 L963.30,419.70 L964.30,419.70 L965.30,419.70 L966.30,419.70 L967.30,419.70 L968.30,419.70 L969.30,419.70 L970.30,419.70 L971.30,419.70 L972.30,419.70 L973.30,419.70 L974.30,419.70 L975.30,419.70 L976.30,419.70 L977.30,419.70 L978.30,419.70 L979.30,419.70 L980.30,419.70 L981.30,419.70 L982.30,419.70 L983.30,419.70 L984.30,419.70 L985.30,419.70 L986.30,419.70 L987.30,419.70 L988.30,419.70 L989.30,419.70 L990.30,419.70 L991.30,419.70 L992.30,419.70 L993.30,419.70 L994.30,419.70 L995.30,419.70 L996.30,419.70 L997.30,419.70 L998.30,419.70 L999.30,419.70 L1000.30,419.70 L1001.30,419.70 L1002.30,419.70 L1003.30,419.70 L1004.30,419.70 L1005.30,419.70 L1006.30,419.70 L1007.30,419.70 L1008.30,419.70 L1009.30,419.70 L1010.30,419.70 L1011.30,419.70 L1012.30,419.70 L1013.30,419.70 L1014.30,419.70 L1015.30,419.70 L1016.30,419.70 L1017.30,419.70 L1018.30,419.70 L1019.30,419.70 L1020.30,419.70 L1021.30,419.70 L1022.30,419.70 L1023.30,419.70 L1024.30,419.70 L1025.30,419.70 L1026.30,419.70 L1027.30,419.70 L1028.30,419.70 L1029.30,419.70 L1030.30,419.70 L1031.30,419.70 L1032.30,419.70 L1033.30,419.70 L1034.30,419.70 L1035.30,419.70 L1036.30,419.70 L1037.30,419.70 L1038.30,419.70 L1039.30,419.70 L1040.30,419.70 L1041.30,419.70 L1042.30,419.70 L1043.30,419.70 L1044.30,419.70 L1045.30,419.70 L1046.30,419.70 L1047.30,419.70 L1048.30,419.70 L1049.30,419.70 L1050.30,419.70 L1051.30,419.70 L1052.30,419.70 L1053.30,419.70 L1054.30,419.70 L1055.30,419.70 L1056.30,419.70 L1057.30,419.70 L1058.30,419.70 L1059.30,419.70 L1060.30,419.70 L1061.30,419.70 L1062.30,419.70 L1063.30,419.70 L1064.30,419.70 L1065.30,419.70 L1066.30,419.70 L1067.30,419.70 L1068.30,419.70 L1069.30,419.70 L1070.30,419.70 L1071.30,419.70 L1072.30,419.70 L1073.30,419.70 L1074.30,419.70 L1075.30,419.70 L1076.30,419.70 L1077.30,419.70 L1078.30,419.70 L1079.30,419.70 L1080.30,419.70 L1081.30,419.70 L1082.30,419.70 L1083.30,419.70 L1084.30,419.70 L1085.30,419.70 L1086.30,419.70 L1087.30,419.70 L1088.30,419.70 L1089.30,419.70 L1090.30,419.70 L1091.30,419.70 L1092.30,419.70 L1093.30,419.70 L1094.30,419.70 L1095.30,419.70 L1096.30,419.70 L1097.30,419.70 L1098.30,419.70 L1099.30,419.70 L1100.30,419.70 L1101.30,419.70 L1102.30,419.70 L1103.30,419.70 L1104.30,419.70 L1105.30,419.70 L1106.30,419.70 L1107.30,419.70 L1108.30,419.70 L1109.30,419.70 L1110.30,419.70 L1111.30,419.70 L1112.30,419.70 L1113.30,419.70 L1114.30,419.70 L1115.30,419.70 L1116.30,419.70 L1117.30,419.70 L1118.30,419.70 L1119.30,419.70 L1120.30,419.70 L1121.30,419.70 L1122.30,419.70 L1123.30,419.70 L1124.30,419.70 L1125.30,419.70 L1126.30,419.70 L1127.30,419.70 L1128.30,419.70 L1129.30,419.70 L1130.30,419.70 L1131.30,419.70 L1132.30,419.70 L1133.30,419.70 L1134.30,419.70 L1135.30,419.70 L1136.30,419.70 L1137.30,419.70 L1138.30,419.70 L1139.30,419.70 L1140.30,419.70 L1141.30,419.70 L1142.30,419.70 L1143.30,419.70 L1144.30,419.70 L1145.30,419.70 L1146.30,419.70 L1147.30,419.70 L1148.30,419.70 L1149.30,419.70 L1150.30,419.70 L1151.30,419.70 L1152.30,419.70 L1153.30,419.70 L1154.30,419.70 L1155.30,419.70 L1156.30,419.70 L1157.30,419.70 L1158.30,419.70 L1159.30,419.70 L1160.30,419.70 L1161.30,419.70 L1162.30,419.70 L1163.30,419.70 L1164.30,419.70 L1165.30,419.70 L1166.30,419.70 L1167.30,419.70 L1168.30,419.70 L1169.30,419.70 L1170.30,419.70 L1171.30,419.70 L1172.30,419.70 L1173.30,419.70 L1174.30,419.70 L1175.30,419.70 L1176.30,419.70 L1177.30,419.70 L1178.30,419.70 L1179.30,419.70 L1180.30,419.70 L1181.30,419.70 L1182.30,419.70 L1183.30,419.70 L1184.30,419.70 L1185.30,419.70 L1186.30,419.70 L1187.30,419.70 L1188.30,419.70 L1189.30,419.70 L1190.30,419.70 L1191.30,419.70 L1192.30,419.70 L1193.30,419.70 L1194.30,419.70 L1195.30,419.70 L1196.30,419.70 L1197.30,419.70 L1198.30,419.70 L1199.30,419.70 L1200.30,419.70 L1201.30,419.70 L1202.30,419.70 L1203.30,419.70 L1204.30,419.70 L1205.30,419.70 L1206.30,419.70 L1207.30,419.70 L1208.30,419.70 L1209.30,419.70 L1210.30,419.70 L1211.30,419.70 L1212.30,419.70 L1213.30,419.70 L1214.30,419.70 L1215.30,419.70 L1216.30,419.70 L1217.30,419.70 L1218.30,419.70 L1219.30,419.70 L1220.30,419.70 L1221.30,419.70 L1222.30,419.70 L1223.30,419.70 L1224.30,419.70 L1225.30,419.70 L1226.30,419.70 L1227.30,419.70 L1228.30,419.70 L1229.30,419.70 L1230.30,419.70 L1231.30,419.70 L1232.30,419.70 L1233.30,419.70 L1234.30,419.70 L1235.30,419.70 L1236.30,419.70 L1237.30,419.70 L1238.30,419.70 L1239.30,419.70 L1240.30,419.69 L1241.30,419.69 L1242.30,419.69 L1243.30,419.69 L1244.30,419.69 L1245.30,419.69 L1246.30,419.69 L1247.30,419.69 L1248.30,419.68 L1249.30,419.68 L1250.30,419.68 L1251.30,419.68 L1252.30,419.67 L1253.30,419.67 L1254.30,419.67 L1255.30,419.66 L1256.30,419.66 L1257.30,419.65 L1258.30,419.65 L1259.30,419.64 L1260.30,419.64 L1261.30,419.63 L1262.30,419.62 L1263.30,419.61 L1264.30,419.60 L1265.30,419.59 L1266.30,419.57 L1267.30,419.56 L1268.30,419.54 L1269.30,419.52 L1270.30,419.50 L1271.30,419.48 L1272.30,419.46 L1273.30,419.43 L1274.30,419.40 L1275.30,419.37 L1276.30,419.33 L1277.30,419.30 L1278.30,419.25 L1279.30,419.20 L1280.30,419.15 L1281.30,419.10 L1282.30,419.03 L1283.30,418.97 L1284.30,418.89 L1285.30,418.81 L1286.30,418.72 L1287.30,418.63 L1288.30,418.52 L1289.30,418.41 L1290.30,418.28 L1291.30,418.15 L1292.30,418.00 L1293.30,417.84 L1294.30,417.67 L1295.30,417.48 L1296.30,417.28 L1297.30,417.06 L1298.30,416.82 L1299.30,416.57 L1300.30,416.29 L1301.30,416.00 L1302.30,415.68 L1303.30,415.34 L1304.30,414.97 L1305.30,414.57 L1306.30,414.15 L1307.30,413.69 L1308.30,413.21 L1309.30,412.69 L1310.30,412.13 L1311.30,411.54 L1312.30,410.90 L1313.30,410.22 L1314.30,409.50 L1315.30,408.74 L1316.30,407.92 L1317.30,407.05 L1318.30,406.13 L1319.30,405.16 L1320.30,404.12 L1321.30,403.03 L1322.30,401.87 L1323.30,400.65 L1324.30,399.36 L1325.30,398.00 L1326.30,396.56 L1327.30,395.05 L1328.30,393.46 L1329.30,391.79 L1330.30,390.03 L1331.30,388.19 L1332.30,386.27 L1333.30,384.25 L1334.30,382.13 L1335.30,379.93 L1336.30,377.62 L1337.30,375.22 L1338.30,372.71 L1339.30,370.11 L1340.30,367.39 L1341.30,364.58 L1342.30,361.65 L1343.30,358.62 L1344.30,355.48 L1345.30,352.23 L1346.30,348.87 L1347.30,345.39 L1348.30,341.81 L1349.30,338.12 L1350.30,334.32 L1351.30,330.42 L1352.30,326.40 L1353.30,322.28 L1354.30,318.06 L1355.30,313.73 L1356.30,309.31 L1357.30,304.79 L1358.30,300.18 L1359.30,295.48 L1360.30,290.69 L1361.30,285.82 L1362.30,280.88 L1363.30,275.86 L1364.30,270.78 L1365.30,265.64 L1366.30,260.44 L1367.30,255.20 L1368.30,249.91 L1369.30,244.59 L1370.30,239.24 L1371.30,233.87 L1372.30,228.49 L1373.30,223.10 L1374.30,217.72 L1375.30,212.35 L1376.30,207.00 L1377.30,201.68 L1378.30,196.41 L1379.30,191.18 L1380.30,186.01 L1381.30,180.90 L1382.30,175.87 L1383.30,170.93 L1384.30,166.09 L1385.30,161.35 L1386.30,156.72 L1387.30,152.22 L1388.30,147.85 L1389.30,143.62 L1390.30,139.55 L1391.30,135.63 L1392.30,131.88 L1393.30,128.30 L1394.30,124.91 L1395.30,121.71 L1396.30,118.70 L1397.30,115.90 L1398.30,113.31 L1399.30,110.94 L1400.30,108.79 L1401.30,106.86 L1402.30,105.17 L1403.30,103.71 L1404.30,102.49 L1405.30,101.51 L1406.30,100.77 L1407.30,100.28 L1408.30,100.03 L1409.30,100.03 L1410.30,100.27 L1411.30,100.75 L1412.30,101.47 L1413.30,102.42 L1414.30,103.61 L1415.30,105.03 L1416.30,106.68 L1417.30,108.55 L1418.30,110.65 L1419.30,112.96 L1420.30,115.48 L1421.30,118.21 L1422.30,121.14 L1423.30,124.26 L1424.30,127.56 L1425.30,131.05 L1426.30,134.71 L1427.30,138.54 L1428.30,142.52 L1429.30,146.65 L1430.30,150.92 L1431.30,155.32 L1432.30,159.85 L1433.30,164.49 L1434.30,169.23 L1435.30,174.07 L1436.30,179.00 L1437.30,184.00 L1438.30,189.08 L1439.30,194.21 L1440.30,199.40 L1441.30,204.63 L1442.30,209.89 L1443.30,215.18 L1444.30,220.48 L1445.30,225.79 L1446.30,231.10 L1447.30,236.41 L1448.30,241.69 L1449.30,246.96 L1450.30,252.19 L1451.30,257.39 L1452.30,262.55 L1453.30,267.65 L1454.30,272.70 L1455.30,277.69 L1456.30,282.61 L1457.30,287.47 L1458.30,292.24 L1459.30,296.94 L1460.30,301.55 L1461.30,306.07 L1462.30,310.50 L1463.30,314.84 L1464.30,319.08 L1465.30,323.22 L1466.30,327.26 L1467.30,331.20 L1468.30,335.03 L1469.30,338.76 L1470.30,342.39 L1471.30,345.90 L1472.30,349.31 L1473.30,352.61 L1474.30,355.81 L1475.30,358.89 L1476.30,361.88 L1477.30,364.75 L1478.30,367.53 L1479.30,370.20 L1480.30,372.77 L1481.30,375.24 L1482.30,377.61 L1483.30,379.88 L1484.30,382.06 L1485.30,384.15 L1486.30,386.14 L1487.30,388.05 L1488.30,389.87 L1489.30,391.61 L1490.30,393.27 L1491.30,394.85 L1492.30,396.35 L1493.30,397.78 L1494.30,399.13 L1495.30,400.42 L1496.30,401.64 L1497.30,402.79 L1498.30,403.88 L1499.30,404.92 L1500.30,405.89 L1501.30,406.81 L1502.30,407.68 L1503.30,408.50 L1504.30,409.27 L1505.30,410.00 L1506.30,410.68 L1507.30,411.32 L1508.30,411.92 L1509.30,412.48 L1510.30,413.01 L1511.30,413.50 L1512.30,413.96 L1513.30,414.39 L1514.30,414.80 L1515.30,415.17 L1516.30,415.52 L1517.30,415.85 L1518.30,416.15 L1519.30,416.43 L1520.30,416.69 L1521.30,416.93 L1522.30,417.16 L1523.30,417.37 L1524.30,417.56 L1525.30,417.74 L1526.30,417.90 L1527.30,418.06 L1528.30,418.20 L1529.30,418.33 L1530.30,418.45 L1531.30,418.55 L1532.30,418.66 L1533.30,418.75 L1534.30,418.83 L1535.30,418.91 L1536.30,418.98 L1537.30,419.05 L1538.30,419.11 L1539.30,419.16 L1540.30,419.21 L1541.30,419.26 L1542.30,419.30 L1543.30,419.34 L1544.30,419.37 L1545.30,419.41 L1546.30,419.44 L1547.30,419.46 L1548.30,419.48 L1549.30,419.51 L1550.30,419.53 L1551.30,419.54 L1552.30,419.56 L1553.30,419.57 L1554.30,419.59 L1555.30,419.60 L1556.30,419.61 L1557.30,419.62 L1558.30,419.63 L1559.30,419.63 L1560.30,419.64 L1561.30,419.65" stroke="#8a8a8a" stroke-width="1.0"/>
<path d="M951.30,419.70 L952.30,419.70 L953.30,419.70 L954.30,419.70 L955.30,419.70 L956.30,419.70 L957.30,419.70 L958.30,419.70 L959.30,419.70 L960.30,419.70 L961.30,419.70 L962.30,419.70 L963.30,419.70 L964.30,419.70 L965.30,419.70 L966.30,419.70 L967.30,419.70 L968.30,419.70 L969.30,419.70 L970.30,419.70 L971.30,419.70 L972.30,419.70 L973.30,419.70 L974.30,419.70 L975.30,419.70 L976.30,419.70 L977.30,419.70 L978.30,419.70 L979.30,419.70 L980.30,419.70 L981.30,419.70 L982.30,419.70 L983.30,419.70 L984.30,419.70 L985.30,419.70 L986.30,419.70 L987.30,419.70 L988.30,419.70 L989.30,419.70 L990.30,419.70 L991.30,419.70 L992.30,419.70 L993.30,419.70 L994.30,419.70 L995.30,419.70 L996.30,419.70 L997.30,419.70 L998.30,419.70 L999.30,419.70 L1000.30,419.70 L1001.30,419.70 L1002.30,419.70 L1003.30,419.70 L1004.30,419.70 L1005.30,419.70 L1006.30,419.70 L1007.30,419.70 L1008.30,419.70 L1009.30,419.70 L1010.30,419.70 L1011.30,419.70 L1012.30,419.70 L1013.30,419.70 L1014.30,419.70 L1015.30,419.70 L1016.30,419.70 L1017.30,419.70 L1018.30,419.70 L1019.30,419.70 L1020.30,419.70 L1021.30,419.70 L1022.30,419.70 L1023.30,419.70 L1024.30,419.70 L1025.30,419.70 L1026.30,419.70 L1027.30,419.70 L1028.30,419.70 L1029.30,419.70 L1030.30,419.70 L1031.30,419.70 L1032.30,419.70 L1033.30,419.70 L1034.30,419.70 L1035.30,419.70 L1036.30,419.70 L1037.30,419.70 L1038.30,419.70 L1039.30,419.70 L1040.30,419.70 L1041.30,419.70 L1042.30,419.70 L1043.30,419.70 L1044.30,419.70 L1045.30,419.70 L1046.30,419.70 L1047.30,419.70 L1048.30,419.70 L1049.30,419.70 L1050.30,419.70 L1051.30,419.70 L1052.30,419.70 L1053.30,419.70 L1054.30,419.70 L1055.30,419.70 L1056.30,419.70 L1057.30,419.70 L1058.30,419.70 L1059.30,419.70 L1060.30,419.70 L1061.30,419.70 L1062.30,419.70 L1063.30,419.70 L1064.30,419.70 L1065.30,419.70 L1066.30,419.70 L1067.30,419.70 L1068.30,419.70 L1069.30,419.70 L1070.30,419.70 L1071.30,419.70 L1072.30,419.70 L1073.30,419.70 L1074.30,419.70 L1075.30,419.70 L1076.30,419.70 L1077.30,419.70 L1078.30,419.70 L1079.30,419.70 L1080.30,419.70 L1081.30,419.70 L1082.30,419.70 L1083.30,419.70 L1084.30,419.70 L1085.30,419.70 L1086.30,419.70 L1087.30,419.70 L1088.30,419.70 L1089.30,419.70 L1090.30,419.70 L1091.30,419.70 L1092.30,419.70 L1093.30,419.70 L1094.30,419.70 L1095.30,419.70 L1096.30,419.70 L1097.30,419.70 L1098.30,419.70 L1099.30,419.70 L1100.30,419.70 L1101.30,419.70 L1102.30,419.70 L1103.30,419.70 L1104.30,419.70 L1105.30,419.70 L1106.30,419.70 L1107.30,419.70 L1108.30,419.70 L1109.30,419.70 L1110.30,419.70 L1111.30,419.70 L1112.30,419.70 L1113.30,419.70 L1114.30,419.70 L1115.30,419.70 L1116.30,419.70 L1117.30,419.70 L1118.30,419.70 L1119.30,419.70 L1120.30,419.70 L1121.30,419.70 L1122.30,419.70 L1123.30,419.70 L1124.30,419.70 L1125.30,419.70 L1126.30,419.70 L1127.30,419.70 L1128.30,419.70 L1129.30,419.70 L1130.30,419.70 L1131.30,419.70 L1132.30,419.70 L1133.30,419.70 L1134.30,419.70 L1135.30,419.70 L1136.30,419.70 L1137.30,419.70 L1138.30,419.70 L1139.30,419.70 L1140.30,419.70 L1141.30,419.70 L1142.30,419.70 L1143.30,419.70 L1144.30,419.70 L1145.30,419.70 L1146.30,419.70 L1147.30,419.70 L1148.30,419.70 L1149.30,419.70 L1150.30,419.70 L1151.30,419.70 L1152.30,419.70 L1153.30,419.70 L1154.30,419.70 L1155.30,419.70 L1156.30,419.70 L1157.30,419.70 L1158.30,419.70 L1159.30,419.70 L1160.30,419.70 L1161.30,419.70 L1162.30,419.70 L1163.30,419.70 L1164.30,419.70 L1165.30,419.70 L1166.30,419.70 L1167.30,419.70 L1168.30,419.70 L1169.30,419.70 L1170.30,419.70 L1171.30,419.70 L1172.30,419.70 L1173.30,419.70 L1174.30,419.70 L1175.30,419.70 L1176.30,419.70 L1177.30,419.70 L1178.30,419.70 L1179.30,419.70 L1180.30,419.70 L1181.30,419.70 L1182.30,419.70 L1183.30,419.70 L1184.30,419.70 L1185.30,419.70 L1186.30,419.70 L1187.30,419.70 L1188.30,419.70 L1189.30,419.70 L1190.30,419.70 L1191.30,419.70 L1192.30,419.70 L1193.30,419.70 L1194.30,419.70 L1195.30,419.70 L1196.30,419.70 L1197.30,419.70 L1198.30,419.70 L1199.30,419.70 L1200.30,419.70 L1201.30,419.70 L1202.30,419.70 L1203.30,419.70 L1204.30,419.70 L1205.30,419.70 L1206.30,419.70 L1207.30,419.70 L1208.30,419.70 L1209.30,419.70 L1210.30,419.70 L1211.30,419.70 L1212.30,419.70 L1213.30,419.70 L1214.30,419.70 L1215.30,419.70 L1216.30,419.70 L1217.30,419.70 L1218.30,419.70 L1219.30,419.70 L1220.30,419.70 L1221.30,419.70 L1222.30,419.70 L1223.30,419.70 L1224.30,419.70 L1225.30,419.70 L1226.30,419.70 L1227.30,419.70 L1228.30,419.70 L1229.30,419.70 L1230.30,419.70 L1231.30,419.70 L1232.30,419.70 L1233.30,419.70 L1234.30,419.70 L1235.30,419.70 L1236.30,419.70 L1237.30,419.70 L1238.30,419.70 L1239.30,419.70 L1240.30,419.70 L1241.30,419.70 L1242.30,419.70 L1243.30,419.70 L1244.30,419.70 L1245.30,419.70 L1246.30,419.70 L1247.30,419.70 L1248.30,419.70 L1249.30,419.70 L1250.30,419.70 L1251.30,419.70 L1252.30,419.70 L1253.30,419.70 L1254.30,419.70 L1255.30,419.70 L1256.30,419.70 L1257.30,419.70 L1258.30,419.70 L1259.30,419.70 L1260.30,419.70 L1261.30,419.70 L1262.30,419.70 L1263.30,419.70 L1264.30,419.70 L1265.30,419.70 L1266.30,419.70 L1267.30,419.70 L1268.30,419.70 L1269.30,419.70 L1270.30,419.70 L1271.30,419.70 L1272.30,419.70 L1273.30,419.70 L1274.30,419.70 L1275.30,419.70 L1276.30,419.70 L1277.30,419.70 L1278.30,419.70 L1279.30,419.70 L1280.30,419.70 L1281.30,419.70 L1282.30,419.70 L1283.30,419.70 L1284.30,419.70 L1285.30,419.70 L1286.30,419.70 L1287.30,419.70 L1288.30,419.70 L1289.30,419.70 L1290.30,419.70 L1291.30,419.70 L1292.30,419.70 L1293.30,419.70 L1294.30,419.70 L1295.30,419.70 L1296.30,419.70 L1297.30,419.70 L1298.30,419.70 L1299.30,419.70 L1300.30,419.70 L1301.30,419.70 L1302.30,419.70 L1303.30,419.70 L1304.30,419.70 L1305.30,419.70 L1306.30,419.70 L1307.30,419.70 L1308.30,419.70 L1309.30,419.70 L1310.30,419.70 L1311.30,419.70 L1312.30,419.70 L1313.30,419.70 L1314.30,419.70 L1315.30,419.70 L1316.30,419.70 L1317.30,419.70 L1318.30,419.70 L1319.30,419.70 L1320.30,419.70 L1321.30,419.70 L1322.30,419.70 L1323.30,419.70 L1324.30,419.70 L1325.30,419.70 L1326.30,419.70 L1327.30,419.70 L1328.30,419.70 L1329.30,419.70 L1330.30,419.70 L1331.30,419.70 L1332.30,419.70 L1333.30,419.70 L1334.30,419.70 L1335.30,419.70 L1336.30,419.70 L1337.30,419.70 L1338.30,419.70 L1339.30,419.70 L1340.30,419.70 L1341.30,419.70 L1342.30,419.70 L1343.30,419.70 L1344.30,419.70 L1345.30,419.70 L1346.30,419.70 L1347.30,419.70 L1348.30,419.70 L1349.30,419.70 L1350.30,419.70 L1351.30,419.70 L1352.30,419.70 L1353.30,419.70 L1354.30,419.70 L1355.30,419.70 L1356.30,419.70 L1357.30,419.70 L1358.30,419.70 L1359.30,419.70 L1360.30,419.70 L1361.30,419.70 L1362.30,419.70 L1363.30,419.70 L1364.30,419.70 L1365.30,419.70 L1366.30,419.70 L1367.30,419.70 L1368.30,419.70 L1369.30,419.70 L1370.30,419.70 L1371.30,419.70 L1372.30,419.70 L1373.30,419.70 L1374.30,419.70 L1375.30,419.70 L1376.30,419.70 L1377.30,419.70 L1378.30,419.70 L1379.30,419.70 L1380.30,419.70 L1381.30,419.70 L1382.30,419.70 L1383.30,419.70 L1384.30,419.70 L1385.30,419.70 L1386.30,419.70 L1387.30,419.70 L1388.30,419.70 L1389.30,419.70 L1390.30,419.70 L1391.30,419.70 L1392.30,419.70 L1393.30,419.70 L1394.30,419.70 L1395.30,419.70 L1396.30,419.70 L1397.30,419.70 L1398.30,419.70 L1399.30,419.70 L1400.30,419.70 L1401.30,419.70 L1402.30,419.70 L1403.30,419.70 L1404.30,419.70 L1405.30,419.70 L1406.30,419.70 L1407.30,419.70 L1408.30,419.70 L1409.30,419.70 L1410.30,419.70 L1411.30,419.70 L1412.30,419.70 L1413.30,419.70 L1414.30,419.70 L1415.30,419.70 L1416.30,419.70 L1417.30,419.70 L1418.30,419.69 L1419.30,419.69 L1420.30,419.69 L1421.30,419.68 L1422.30,419.68 L1423.30,419.67 L1424.30,419.66 L1425.30,419.65 L1426.30,419.63 L1427.30,419.61 L1428.30,419.59 L1429.30,419.56 L1430.30,419.52 L1431.30,419.47 L1432.30,419.41 L1433.30,419.33 L1434.30,419.24 L1435.30,419.13 L1436.30,418.99 L1437.30,418.82 L1438.30,418.62 L1439.30,418.38 L1440.30,418.10 L1441.30,417.77 L1442.30,417.37 L1443.30,416.91 L1444.30,416.38 L1445.30,415.77 L1446.30,415.07 L1447.30,414.27 L1448.30,413.37 L1449.30,412.35 L1450.30,411.21 L1451.30,409.95 L1452.30,408.55 L1453.30,407.02 L1454.30,405.36 L1455.30,403.56 L1456.30,401.62 L1457.30,399.56 L1458.30,397.37 L1459.30,395.07 L1460.30,392.67 L1461.30,390.20 L1462.30,387.65 L1463.30,385.07 L1464.30,382.47 L1465.30,379.87 L1466.30,377.31 L1467.30,374.82 L1468.30,372.42 L1469.30,370.15 L1470.30,368.04 L1471.30,366.10 L1472.30,364.38 L1473.30,362.89 L1474.30,361.66 L1475.30,360.71 L1476.30,360.04 L1477.30,359.68 L1478.30,359.61 L1479.30,359.86 L1480.30,360.41 L1481.30,361.25 L1482.30,362.37 L1483.30,363.76 L1484.30,365.39 L1485.30,367.24 L1486.30,369.29 L1487.30,371.50 L1488.30,373.85 L1489.30,376.31 L1490.30,378.84 L1491.30,381.43 L1492.30,384.03 L1493.30,386.62 L1494.30,389.18 L1495.30,391.69 L1496.30,394.12 L1497.30,396.46 L1498.30,398.70 L1499.30,400.81 L1500.30,402.80 L1501.30,404.65 L1502.30,406.37 L1503.30,407.96 L1504.30,409.41 L1505.30,410.72 L1506.30,411.91 L1507.30,412.97 L1508.30,413.92 L1509.30,414.76 L1510.30,415.50 L1511.30,416.15 L1512.30,416.71 L1513.30,417.20 L1514.30,417.62 L1515.30,417.97 L1516.30,418.28 L1517.30,418.53 L1518.30,418.75 L1519.30,418.93 L1520.30,419.07 L1521.30,419.20 L1522.30,419.30 L1523.30,419.38 L1524.30,419.45 L1525.30,419.50 L1526.30,419.54 L1527.30,419.58 L1528.30,419.61 L1529.30,419.63 L1530.30,419.64 L1531.30,419.66 L1532.30,419.67 L1533.30,419.68 L1534.30,419.68 L1535.30,419.69 L1536.30,419.69 L1537.30,419.69 L1538.30,419.69 L1539.30,419.70 L1540.30,419.70 L1541.30,419.70 L1542.30,419.70 L1543.30,419.70 L1544.30,419.70 L1545.30,419.70 L1546.30,419.70 L1547.30,419.70 L1548.30,419.70 L1549.30,419.70 L1550.30,419.70 L1551.30,419.70 L1552.30,419.70 L1553.30,419.70 L1554.30,419.70 L1555.30,419.70 L1556.30,419.70 L1557.30,419.70 L1558.30,419.70 L1559.30,419.70 L1560.30,419.70 L1561.30,419.70" stroke="#808080" stroke-width="1.0"/>
<path d="M950.85,405.85h7.1v7.1h-7.1z M954.40,405.85v7.1 M950.85,409.40h7.1M957.25,405.85h7.1v7.1h-7.1z M960.80,405.85v7.1 M957.25,409.40h7.1M963.55,405.85h7.1v7.1h-7.1z M967.10,405.85v7.1 M963.55,409.40h7.1M969.95,405.85h7.1v7.1h-7.1z M973.50,405.85v7.1 M969.95,409.40h7.1M976.25,405.85h7.1v7.1h-7.1z M979.80,405.85v7.1 M976.25,409.40h7.1M982.65,405.85h7.1v7.1h-7.1z M986.20,405.85v7.1 M982.65,409.40h7.1M989.95,446.75h7.1v7.1h-7.1z M993.50,446.75v7.1 M989.95,450.30h7.1M997.25,432.95h7.1v7.1h-7.1z M1000.80,432.95v7.1 M997.25,436.50h7.1M1004.55,432.95h7.1v7.1h-7.1z M1008.10,432.95v7.1 M1004.55,436.50h7.1M1012.45,419.95h7.1v7.1h-7.1z M1016.00,419.95v7.1 M1012.45,423.50h7.1M1019.75,419.95h7.1v7.1h-7.1z M1023.30,419.95v7.1 M1019.75,423.50h7.1M1027.05,419.95h7.1v7.1h-7.1z M1030.60,419.95v7.1 M1027.05,423.50h7.1M1034.35,419.95h7.1v7.1h-7.1z M1037.90,419.95v7.1 M1034.35,423.50h7.1M1041.65,419.95h7.1v7.1h-7.1z M1045.20,419.95v7.1 M1041.65,423.50h7.1M1048.95,419.95h7.1v7.1h-7.1z M1052.50,419.95v7.1 M1048.95,423.50h7.1M1055.45,432.45h7.1v7.1h-7.1z M1059.00,432.45v7.1 M1055.45,436.00h7.1M1062.45,419.95h7.1v7.1h-7.1z M1066.00,419.95v7.1 M1062.45,423.50h7.1M1069.45,419.95h7.1v7.1h-7.1z M1073.00,419.95v7.1 M1069.45,423.50h7.1M1076.45,419.95h7.1v7.1h-7.1z M1080.00,419.95v7.1 M1076.45,423.50h7.1M1083.45,419.95h7.1v7.1h-7.1z M1087.00,419.95v7.1 M1083.45,423.50h7.1M1089.45,419.95h7.1v7.1h-7.1z M1093.00,419.95v7.1 M1089.45,423.50h7.1M1096.45,419.95h7.1v7.1h-7.1z M1100.00,419.95v7.1 M1096.45,423.50h7.1M1103.45,419.95h7.1v7.1h-7.1z M1107.00,419.95v7.1 M1103.45,423.50h7.1M1110.45,419.95h7.1v7.1h-7.1z M1114.00,419.95v7.1 M1110.45,423.50h7.1M1117.45,419.95h7.1v7.1h-7.1z M1121.00,419.95v7.1 M1117.45,423.50h7.1M1124.45,419.95h7.1v7.1h-7.1z M1128.00,419.95v7.1 M1124.45,423.50h7.1M1131.45,419.95h7.1v7.1h-7.1z M1135.00,419.95v7.1 M1131.45,423.50h7.1M1138.45,419.95h7.1v7.1h-7.1z M1142.00,419.95v7.1 M1138.45,423.50h7.1M1149.45,405.95h7.1v7.1h-7.1z M1153.00,405.95v7.1 M1149.45,409.50h7.1M1157.95,419.95h7.1v7.1h-7.1z M1161.50,419.95v7.1 M1157.95,423.50h7.1M1164.95,419.95h7.1v7.1h-7.1z M1168.50,419.95v7.1 M1164.95,423.50h7.1M1171.95,419.95h7.1v7.1h-7.1z M1175.50,419.95v7.1 M1171.95,423.50h7.1M1178.95,419.95h7.1v7.1h-7.1z M1182.50,419.95v7.1 M1178.95,423.50h7.1M1185.45,419.95h7.1v7.1h-7.1z M1189.00,419.95v7.1 M1185.45,423.50h7.1M1193.45,405.95h7.1v7.1h-7.1z M1197.00,405.95v7.1 M1193.45,409.50h7.1M1200.45,419.95h7.1v7.1h-7.1z M1204.00,419.95v7.1 M1200.45,423.50h7.1M1207.95,405.95h7.1v7.1h-7.1z M1211.50,405.95v7.1 M1207.95,409.50h7.1M1214.45,405.95h7.1v7.1h-7.1z M1218.00,405.95v7.1 M1214.45,409.50h7.1M1222.95,392.95h7.1v7.1h-7.1z M1226.50,392.95v7.1 M1222.95,396.50h7.1M1229.95,392.95h7.1v7.1h-7.1z M1233.50,392.95v7.1 M1229.95,396.50h7.1M1236.95,392.95h7.1v7.1h-7.1z M1240.50,392.95v7.1 M1236.95,396.50h7.1M1243.95,392.95h7.1v7.1h-7.1z M1247.50,392.95v7.1 M1243.95,396.50h7.1M1251.05,378.95h7.1v7.1h-7.1z M1254.60,378.95v7.1 M1251.05,382.50h7.1M1259.05,364.45h7.1v7.1h-7.1z M1262.60,364.45v7.1 M1259.05,368.00h7.1M1265.85,364.45h7.1v7.1h-7.1z M1269.40,364.45v7.1 M1265.85,368.00h7.1M1273.65,351.95h7.1v7.1h-7.1z M1277.20,351.95v7.1 M1273.65,355.50h7.1M1280.25,351.95h7.1v7.1h-7.1z M1283.80,351.95v7.1 M1280.25,355.50h7.1M1287.95,338.45h7.1v7.1h-7.1z M1291.50,338.45v7.1 M1287.95,342.00h7.1M1294.65,338.45h7.1v7.1h-7.1z M1298.20,338.45v7.1 M1294.65,342.00h7.1M1303.25,325.15h7.1v7.1h-7.1z M1306.80,325.15v7.1 M1303.25,328.70h7.1M1310.05,325.15h7.1v7.1h-7.1z M1313.60,325.15v7.1 M1310.05,328.70h7.1M1316.55,297.95h7.1v7.1h-7.1z M1320.10,297.95v7.1 M1316.55,301.50h7.1M1323.65,297.95h7.1v7.1h-7.1z M1327.20,297.95v7.1 M1323.65,301.50h7.1M1330.75,297.95h7.1v7.1h-7.1z M1334.30,297.95v7.1 M1330.75,301.50h7.1M1338.25,281.95h7.1v7.1h-7.1z M1341.80,281.95v7.1 M1338.25,285.50h7.1M1345.85,270.15h7.1v7.1h-7.1z M1349.40,270.15v7.1 M1345.85,273.70h7.1M1352.65,229.75h7.1v7.1h-7.1z M1356.20,229.75v7.1 M1352.65,233.30h7.1M1360.05,202.95h7.1v7.1h-7.1z M1363.60,202.95v7.1 M1360.05,206.50h7.1M1367.95,161.55h7.1v7.1h-7.1z M1371.50,161.55v7.1 M1367.95,165.10h7.1M1374.95,161.55h7.1v7.1h-7.1z M1378.50,161.55v7.1 M1374.95,165.10h7.1M1381.65,121.25h7.1v7.1h-7.1z M1385.20,121.25v7.1 M1381.65,124.80h7.1M1388.85,80.25h7.1v7.1h-7.1z M1392.40,80.25v7.1 M1388.85,83.80h7.1M1396.25,66.25h7.1v7.1h-7.1z M1399.80,66.25v7.1 M1396.25,69.80h7.1M1403.45,80.25h7.1v7.1h-7.1z M1407.00,80.25v7.1 M1403.45,83.80h7.1M1410.95,107.55h7.1v7.1h-7.1z M1414.50,107.55v7.1 M1410.95,111.10h7.1M1417.65,107.55h7.1v7.1h-7.1z M1421.20,107.55v7.1 M1417.65,111.10h7.1M1425.95,121.25h7.1v7.1h-7.1z M1429.50,121.25v7.1 M1425.95,124.80h7.1M1432.95,162.35h7.1v7.1h-7.1z M1436.50,162.35v7.1 M1432.95,165.90h7.1M1439.95,203.35h7.1v7.1h-7.1z M1443.50,203.35v7.1 M1439.95,206.90h7.1M1447.25,230.05h7.1v7.1h-7.1z M1450.80,230.05v7.1 M1447.25,233.60h7.1M1454.45,257.65h7.1v7.1h-7.1z M1458.00,257.65v7.1 M1454.45,261.20h7.1M1461.45,271.05h7.1v7.1h-7.1z M1465.00,271.05v7.1 M1461.45,274.60h7.1M1468.75,298.05h7.1v7.1h-7.1z M1472.30,298.05v7.1 M1468.75,301.60h7.1M1476.05,311.85h7.1v7.1h-7.1z M1479.60,311.85v7.1 M1476.05,315.40h7.1M1483.45,325.65h7.1v7.1h-7.1z M1487.00,325.65v7.1 M1483.45,329.20h7.1M1491.05,352.95h7.1v7.1h-7.1z M1494.60,352.95v7.1 M1491.05,356.50h7.1M1498.05,379.85h7.1v7.1h-7.1z M1501.60,379.85v7.1 M1498.05,383.40h7.1M1506.15,420.65h7.1v7.1h-7.1z M1509.70,420.65v7.1 M1506.15,424.20h7.1M1512.95,420.65h7.1v7.1h-7.1z M1516.50,420.65v7.1 M1512.95,424.20h7.1M1519.75,420.65h7.1v7.1h-7.1z M1523.30,420.65v7.1 M1519.75,424.20h7.1M1526.55,420.65h7.1v7.1h-7.1z M1530.10,420.65v7.1 M1526.55,424.20h7.1M1533.45,420.65h7.1v7.1h-7.1z M1537.00,420.65v7.1 M1533.45,424.20h7.1M1540.25,420.65h7.1v7.1h-7.1z M1543.80,420.65v7.1 M1540.25,424.20h7.1M1547.05,420.65h7.1v7.1h-7.1z M1550.60,420.65v7.1 M1547.05,424.20h7.1M1553.85,420.65h7.1v7.1h-7.1z M1557.40,420.65v7.1 M1553.85,424.20h7.1" stroke="#444" stroke-width="0.9"/>
<circle cx="951.00" cy="418.50" r="3.6" stroke="#4a4a4a" stroke-width="1.1"/>
<circle cx="960.50" cy="415.50" r="3.6" stroke="#4a4a4a" stroke-width="1.1"/>
<circle cx="971.50" cy="413.00" r="3.6" stroke="#4a4a4a" stroke-width="1.1"/>
<circle cx="982.50" cy="410.50" r="3.6" stroke="#4a4a4a" stroke-width="1.1"/>
<circle cx="993.50" cy="424.50" r="3.6" stroke="#4a4a4a" stroke-width="1.1"/>
<circle cx="1004.50" cy="422.00" r="3.6" stroke="#4a4a4a" stroke-width="1.1"/>
<circle cx="1015.50" cy="436.50" r="3.6" stroke="#4a4a4a" stroke-width="1.1"/>
<circle cx="1026.50" cy="416.50" r="3.6" stroke="#4a4a4a" stroke-width="1.1"/>
<circle cx="1037.00" cy="414.50" r="3.6" stroke="#4a4a4a" stroke-width="1.1"/>
<circle cx="1048.00" cy="428.50" r="3.6" stroke="#4a4a4a" stroke-width="1.1"/>
<circle cx="1059.00" cy="443.00" r="3.6" stroke="#4a4a4a" stroke-width="1.1"/>
<circle cx="1070.00" cy="423.00" r="3.6" stroke="#4a4a4a" stroke-width="1.1"/>
<circle cx="1081.00" cy="419.50" r="3.6" stroke="#4a4a4a" stroke-width="1.1"/>
<circle cx="1092.00" cy="418.00" r="3.6" stroke="#4a4a4a" stroke-width="1.1"/>
<circle cx="1102.50" cy="449.00" r="3.6" stroke="#4a4a4a" stroke-width="1.1"/>
<circle cx="1113.00" cy="430.00" r="3.6" stroke="#4a4a4a" stroke-width="1.1"/>
<circle cx="1124.00" cy="427.00" r="3.6" stroke="#4a4a4a" stroke-width="1.1"/>
<circle cx="1135.00" cy="425.00" r="3.6" stroke="#4a4a4a" stroke-width="1.1"/>
<circle cx="1146.00" cy="422.00" r="3.6" stroke="#4a4a4a" stroke-width="1.1"/>
<circle cx="1157.00" cy="436.50" r="3.6" stroke="#4a4a4a" stroke-width="1.1"/>
<circle cx="1167.50" cy="433.50" r="3.6" stroke="#4a4a4a" stroke-width="1.1"/>
<circle cx="1178.50" cy="414.00" r="3.6" stroke="#4a4a4a" stroke-width="1.1"/>
<circle cx="1189.50" cy="429.00" r="3.6" stroke="#4a4a4a" stroke-width="1.1"/>
<circle cx="1200.00" cy="425.50" r="3.6" stroke="#4a4a4a" stroke-width="1.1"/>
<circle cx="1211.00" cy="423.00" r="3.6" stroke="#4a4a4a" stroke-width="1.1"/>
<circle cx="1222.00" cy="437.50" r="3.6" stroke="#4a4a4a" stroke-width="1.1"/>
<circle cx="1233.00" cy="418.50" r="3.6" stroke="#4a4a4a" stroke-width="1.1"/>
<circle cx="1243.40" cy="432.00" r="3.6" stroke="#4a4a4a" stroke-width="1.1"/>
<circle cx="1254.30" cy="430.00" r="3.6" stroke="#4a4a4a" stroke-width="1.1"/>
<circle cx="1265.40" cy="427.00" r="3.6" stroke="#4a4a4a" stroke-width="1.1"/>
<circle cx="1276.50" cy="442.00" r="3.6" stroke="#4a4a4a" stroke-width="1.1"/>
<circle cx="1287.40" cy="422.60" r="3.6" stroke="#4a4a4a" stroke-width="1.1"/>
<circle cx="1298.30" cy="419.50" r="3.6" stroke="#4a4a4a" stroke-width="1.1"/>
<circle cx="1309.30" cy="417.30" r="3.6" stroke="#4a4a4a" stroke-width="1.1"/>
<circle cx="1320.20" cy="431.90" r="3.6" stroke="#4a4a4a" stroke-width="1.1"/>
<circle cx="1331.00" cy="428.50" r="3.6" stroke="#4a4a4a" stroke-width="1.1"/>
<circle cx="1341.70" cy="443.30" r="3.6" stroke="#4a4a4a" stroke-width="1.1"/>
<circle cx="1352.30" cy="426.60" r="3.6" stroke="#4a4a4a" stroke-width="1.1"/>
<circle cx="1363.30" cy="408.40" r="3.6" stroke="#4a4a4a" stroke-width="1.1"/>
<circle cx="1374.40" cy="391.60" r="3.6" stroke="#4a4a4a" stroke-width="1.1"/>
<circle cx="1385.20" cy="373.90" r="3.6" stroke="#4a4a4a" stroke-width="1.1"/>
<circle cx="1396.40" cy="323.10" r="3.6" stroke="#4a4a4a" stroke-width="1.1"/>
<circle cx="1407.10" cy="322.40" r="3.6" stroke="#4a4a4a" stroke-width="1.1"/>
<circle cx="1418.20" cy="371.50" r="3.6" stroke="#4a4a4a" stroke-width="1.1"/>
<circle cx="1429.00" cy="387.70" r="3.6" stroke="#4a4a4a" stroke-width="1.1"/>
<circle cx="1440.00" cy="402.30" r="3.6" stroke="#4a4a4a" stroke-width="1.1"/>
<circle cx="1451.10" cy="402.30" r="3.6" stroke="#4a4a4a" stroke-width="1.1"/>
<circle cx="1461.80" cy="417.20" r="3.6" stroke="#4a4a4a" stroke-width="1.1"/>
<circle cx="1472.50" cy="418.10" r="3.6" stroke="#4a4a4a" stroke-width="1.1"/>
<circle cx="1483.20" cy="416.50" r="3.6" stroke="#4a4a4a" stroke-width="1.1"/>
<circle cx="1494.00" cy="416.00" r="3.6" stroke="#4a4a4a" stroke-width="1.1"/>
<circle cx="1505.10" cy="414.50" r="3.6" stroke="#4a4a4a" stroke-width="1.1"/>
<circle cx="1516.40" cy="398.30" r="3.6" stroke="#4a4a4a" stroke-width="1.1"/>
<circle cx="1527.40" cy="414.50" r="3.6" stroke="#4a4a4a" stroke-width="1.1"/>
<circle cx="1538.20" cy="430.50" r="3.6" stroke="#4a4a4a" stroke-width="1.1"/>
<circle cx="1548.70" cy="429.60" r="3.6" stroke="#4a4a4a" stroke-width="1.1"/>
<circle cx="1559.70" cy="395.00" r="3.6" stroke="#4a4a4a" stroke-width="1.1"/>
<path d="M950.50,412.00 C951.25,412.83 953.08,415.62 955.00,417.00 C956.92,418.38 958.67,419.48 962.00,420.30 C965.33,421.12 970.33,421.43 975.00,421.90 C979.67,422.37 985.83,422.67 990.00,423.10 C994.17,423.53 996.67,424.10 1000.00,424.50 C1003.33,424.90 1005.00,425.28 1010.00,425.50 C1015.00,425.72 1021.67,425.75 1030.00,425.80 C1038.33,425.85 1048.33,425.85 1060.00,425.80 C1071.67,425.75 1085.00,425.58 1100.00,425.50 C1115.00,425.42 1135.83,425.38 1150.00,425.30 C1164.17,425.22 1177.50,425.72 1185.00,425.00 C1192.50,424.28 1192.00,422.67 1195.00,421.00 C1198.00,419.33 1200.50,416.67 1203.00,415.00 C1205.50,413.33 1207.17,412.50 1210.00,411.00 C1212.83,409.50 1217.33,408.00 1220.00,406.00 C1222.67,404.00 1223.67,400.67 1226.00,399.00 C1228.33,397.33 1230.42,397.00 1234.00,396.00 C1237.58,395.00 1244.07,395.25 1247.50,393.00 C1250.93,390.75 1252.08,386.33 1254.60,382.50 C1257.12,378.67 1260.13,372.92 1262.60,370.00 C1265.07,367.08 1266.97,367.25 1269.40,365.00 C1271.83,362.75 1274.80,358.42 1277.20,356.50 C1279.60,354.58 1281.42,355.75 1283.80,353.50 C1286.18,351.25 1289.10,345.42 1291.50,343.00 C1293.90,340.58 1295.65,341.22 1298.20,339.00 C1300.75,336.78 1304.23,332.53 1306.80,329.70 C1309.37,326.87 1311.38,326.12 1313.60,322.00 C1315.82,317.88 1317.83,308.67 1320.10,305.00 C1322.37,301.33 1324.83,301.33 1327.20,300.00 C1329.57,298.67 1331.87,299.42 1334.30,297.00 C1336.73,294.58 1339.28,290.00 1341.80,285.50 C1344.32,281.00 1347.00,278.37 1349.40,270.00 C1351.80,261.63 1353.83,246.22 1356.20,235.30 C1358.57,224.38 1361.05,215.70 1363.60,204.50 C1366.15,193.30 1369.02,175.85 1371.50,168.10 C1373.98,160.35 1376.22,165.22 1378.50,158.00 C1380.78,150.78 1382.88,136.47 1385.20,124.80 C1387.52,113.13 1390.60,96.13 1392.40,88.00 C1394.20,79.87 1394.73,78.58 1396.00,76.00 C1397.27,73.42 1398.67,72.67 1400.00,72.50 C1401.33,72.33 1402.67,73.42 1404.00,75.00 C1405.33,76.58 1406.25,78.17 1408.00,82.00 C1409.75,85.83 1412.30,93.17 1414.50,98.00 C1416.70,102.83 1418.70,106.17 1421.20,111.00 C1423.70,115.83 1426.95,118.50 1429.50,127.00 C1432.05,135.50 1434.17,149.33 1436.50,162.00 C1438.83,174.67 1441.12,190.67 1443.50,203.00 C1445.88,215.33 1448.38,226.83 1450.80,236.00 C1453.22,245.17 1455.63,251.23 1458.00,258.00 C1460.37,264.77 1462.62,269.67 1465.00,276.60 C1467.38,283.53 1469.87,292.97 1472.30,299.60 C1474.73,306.23 1477.15,310.80 1479.60,316.40 C1482.05,322.00 1484.50,326.52 1487.00,333.20 C1489.50,339.88 1492.17,347.87 1494.60,356.50 C1497.03,365.13 1499.87,376.42 1501.60,385.00 C1503.33,393.58 1503.60,402.17 1505.00,408.00 C1506.40,413.83 1507.50,417.58 1510.00,420.00 C1512.50,422.42 1511.33,422.00 1520.00,422.50 C1528.67,423.00 1555.00,422.92 1562.00,423.00" stroke="#707070" stroke-width="2.3"/>
<path d="M951.00,422.50 C953.33,422.68 959.33,423.18 965.00,423.60 C970.67,424.02 978.33,424.57 985.00,425.00 C991.67,425.43 998.33,425.68 1005.00,426.20 C1011.67,426.72 1018.33,427.63 1025.00,428.10 C1031.67,428.57 1039.50,428.78 1045.00,429.00 C1050.50,429.22 1053.00,429.02 1058.00,429.40 C1063.00,429.78 1069.67,431.10 1075.00,431.30 C1080.33,431.50 1085.00,430.92 1090.00,430.60 C1095.00,430.28 1096.67,429.67 1105.00,429.40 C1113.33,429.13 1127.50,428.98 1140.00,429.00 C1152.50,429.02 1170.00,429.58 1180.00,429.50 C1190.00,429.42 1191.67,428.53 1200.00,428.50 C1208.33,428.47 1220.00,429.30 1230.00,429.30 C1240.00,429.30 1252.43,429.25 1260.00,428.50 C1267.57,427.75 1270.32,425.68 1275.40,424.80 C1280.48,423.92 1285.48,423.72 1290.50,423.20 C1295.52,422.68 1300.48,422.07 1305.50,421.70 C1310.52,421.33 1316.57,420.12 1320.60,421.00 C1324.63,421.88 1327.18,425.25 1329.70,427.00 C1332.22,428.75 1333.45,431.12 1335.70,431.50 C1337.95,431.88 1340.68,430.17 1343.20,429.30 C1345.72,428.43 1348.28,427.82 1350.80,426.30 C1353.32,424.78 1355.78,422.72 1358.30,420.20 C1360.82,417.68 1363.38,414.47 1365.90,411.20 C1368.42,407.93 1370.88,406.13 1373.40,400.60 C1375.92,395.07 1378.48,387.55 1381.00,378.00 C1383.52,368.45 1386.00,352.85 1388.50,343.30 C1391.00,333.75 1393.87,325.72 1396.00,320.70 C1398.13,315.68 1399.53,314.20 1401.30,313.20 C1403.07,312.20 1404.78,309.87 1406.60,314.70 C1408.42,319.53 1410.38,335.87 1412.20,342.20 C1414.02,348.53 1414.87,346.02 1417.50,352.70 C1420.13,359.38 1425.08,374.17 1428.00,382.30 C1430.92,390.43 1432.68,396.83 1435.00,401.50 C1437.32,406.17 1439.00,408.25 1441.90,410.30 C1444.80,412.35 1449.50,412.50 1452.40,413.80 C1455.30,415.10 1456.98,415.63 1459.30,418.10 C1461.62,420.57 1463.97,427.87 1466.30,428.60 C1468.63,429.33 1470.38,423.82 1473.30,422.50 C1476.22,421.18 1479.73,421.00 1483.80,420.70 C1487.87,420.40 1494.22,421.57 1497.70,420.70 C1501.18,419.83 1502.32,415.78 1504.70,415.50 C1507.08,415.22 1507.78,418.08 1512.00,419.00 C1516.22,419.92 1521.67,420.58 1530.00,421.00 C1538.33,421.42 1556.67,421.42 1562.00,421.50" stroke="#707070" stroke-width="2.3"/>
</g>
<clipPath id="clipC"><rect x="139.60" y="717.60" width="650.90" height="418.77"/></clipPath>
<g clip-path="url(#clipC)" fill="none" stroke-linejoin="round" stroke-linecap="round">
<line x1="138.60" y1="1102.40" x2="787.50" y2="1102.40" stroke="#777" stroke-width="1.3"/>
<path d="M139.60,1102.40 L140.60,1102.40 L141.60,1102.40 L142.60,1102.40 L143.60,1102.40 L144.60,1102.40 L145.60,1102.40 L146.60,1102.40 L147.60,1102.40 L148.60,1102.40 L149.60,1102.40 L150.60,1102.40 L151.60,1102.40 L152.60,1102.40 L153.60,1102.40 L154.60,1102.40 L155.60,1102.40 L156.60,1102.40 L157.60,1102.40 L158.60,1102.40 L159.60,1102.40 L160.60,1102.40 L161.60,1102.40 L162.60,1102.40 L163.60,1102.40 L164.60,1102.40 L165.60,1102.40 L166.60,1102.40 L167.60,1102.40 L168.60,1102.40 L169.60,1102.40 L170.60,1102.40 L171.60,1102.40 L172.60,1102.40 L173.60,1102.40 L174.60,1102.40 L175.60,1102.40 L176.60,1102.40 L177.60,1102.40 L178.60,1102.40 L179.60,1102.40 L180.60,1102.40 L181.60,1102.40 L182.60,1102.40 L183.60,1102.40 L184.60,1102.40 L185.60,1102.40 L186.60,1102.40 L187.60,1102.40 L188.60,1102.40 L189.60,1102.40 L190.60,1102.40 L191.60,1102.40 L192.60,1102.40 L193.60,1102.40 L194.60,1102.40 L195.60,1102.40 L196.60,1102.40 L197.60,1102.40 L198.60,1102.40 L199.60,1102.40 L200.60,1102.40 L201.60,1102.40 L202.60,1102.40 L203.60,1102.40 L204.60,1102.40 L205.60,1102.40 L206.60,1102.40 L207.60,1102.40 L208.60,1102.40 L209.60,1102.40 L210.60,1102.40 L211.60,1102.40 L212.60,1102.40 L213.60,1102.40 L214.60,1102.40 L215.60,1102.40 L216.60,1102.40 L217.60,1102.40 L218.60,1102.40 L219.60,1102.40 L220.60,1102.40 L221.60,1102.40 L222.60,1102.40 L223.60,1102.40 L224.60,1102.40 L225.60,1102.40 L226.60,1102.40 L227.60,1102.40 L228.60,1102.40 L229.60,1102.40 L230.60,1102.40 L231.60,1102.40 L232.60,1102.40 L233.60,1102.40 L234.60,1102.40 L235.60,1102.40 L236.60,1102.40 L237.60,1102.40 L238.60,1102.40 L239.60,1102.40 L240.60,1102.40 L241.60,1102.40 L242.60,1102.40 L243.60,1102.40 L244.60,1102.40 L245.60,1102.40 L246.60,1102.40 L247.60,1102.40 L248.60,1102.40 L249.60,1102.40 L250.60,1102.40 L251.60,1102.40 L252.60,1102.40 L253.60,1102.40 L254.60,1102.40 L255.60,1102.40 L256.60,1102.40 L257.60,1102.40 L258.60,1102.40 L259.60,1102.40 L260.60,1102.40 L261.60,1102.40 L262.60,1102.40 L263.60,1102.40 L264.60,1102.40 L265.60,1102.40 L266.60,1102.40 L267.60,1102.40 L268.60,1102.40 L269.60,1102.40 L270.60,1102.40 L271.60,1102.40 L272.60,1102.40 L273.60,1102.40 L274.60,1102.40 L275.60,1102.40 L276.60,1102.40 L277.60,1102.40 L278.60,1102.40 L279.60,1102.40 L280.60,1102.40 L281.60,1102.40 L282.60,1102.40 L283.60,1102.40 L284.60,1102.40 L285.60,1102.40 L286.60,1102.40 L287.60,1102.40 L288.60,1102.40 L289.60,1102.40 L290.60,1102.40 L291.60,1102.40 L292.60,1102.40 L293.60,1102.40 L294.60,1102.40 L295.60,1102.40 L296.60,1102.40 L297.60,1102.40 L298.60,1102.40 L299.60,1102.40 L300.60,1102.40 L301.60,1102.40 L302.60,1102.40 L303.60,1102.40 L304.60,1102.40 L305.60,1102.40 L306.60,1102.40 L307.60,1102.40 L308.60,1102.40 L309.60,1102.40 L310.60,1102.40 L311.60,1102.40 L312.60,1102.40 L313.60,1102.40 L314.60,1102.40 L315.60,1102.40 L316.60,1102.40 L317.60,1102.40 L318.60,1102.40 L319.60,1102.40 L320.60,1102.40 L321.60,1102.40 L322.60,1102.40 L323.60,1102.40 L324.60,1102.40 L325.60,1102.40 L326.60,1102.40 L327.60,1102.40 L328.60,1102.40 L329.60,1102.40 L330.60,1102.40 L331.60,1102.40 L332.60,1102.40 L333.60,1102.40 L334.60,1102.40 L335.60,1102.40 L336.60,1102.40 L337.60,1102.40 L338.60,1102.40 L339.60,1102.40 L340.60,1102.40 L341.60,1102.40 L342.60,1102.40 L343.60,1102.40 L344.60,1102.40 L345.60,1102.40 L346.60,1102.39 L347.60,1102.39 L348.60,1102.39 L349.60,1102.39 L350.60,1102.39 L351.60,1102.39 L352.60,1102.39 L353.60,1102.39 L354.60,1102.39 L355.60,1102.39 L356.60,1102.39 L357.60,1102.39 L358.60,1102.38 L359.60,1102.38 L360.60,1102.38 L361.60,1102.38 L362.60,1102.38 L363.60,1102.38 L364.60,1102.37 L365.60,1102.37 L366.60,1102.37 L367.60,1102.37 L368.60,1102.36 L369.60,1102.36 L370.60,1102.36 L371.60,1102.35 L372.60,1102.35 L373.60,1102.35 L374.60,1102.34 L375.60,1102.34 L376.60,1102.33 L377.60,1102.32 L378.60,1102.32 L379.60,1102.31 L380.60,1102.30 L381.60,1102.30 L382.60,1102.29 L383.60,1102.28 L384.60,1102.27 L385.60,1102.26 L386.60,1102.25 L387.60,1102.24 L388.60,1102.23 L389.60,1102.21 L390.60,1102.20 L391.60,1102.18 L392.60,1102.17 L393.60,1102.15 L394.60,1102.13 L395.60,1102.11 L396.60,1102.09 L397.60,1102.07 L398.60,1102.04 L399.60,1102.02 L400.60,1101.99 L401.60,1101.96 L402.60,1101.93 L403.60,1101.90 L404.60,1101.86 L405.60,1101.83 L406.60,1101.79 L407.60,1101.75 L408.60,1101.70 L409.60,1101.65 L410.60,1101.61 L411.60,1101.55 L412.60,1101.50 L413.60,1101.44 L414.60,1101.38 L415.60,1101.31 L416.60,1101.24 L417.60,1101.17 L418.60,1101.09 L419.60,1101.01 L420.60,1100.92 L421.60,1100.83 L422.60,1100.73 L423.60,1100.63 L424.60,1100.52 L425.60,1100.41 L426.60,1100.29 L427.60,1100.17 L428.60,1100.03 L429.60,1099.90 L430.60,1099.75 L431.60,1099.60 L432.60,1099.44 L433.60,1099.28 L434.60,1099.10 L435.60,1098.92 L436.60,1098.73 L437.60,1098.53 L438.60,1098.32 L439.60,1098.10 L440.60,1097.87 L441.60,1097.63 L442.60,1097.38 L443.60,1097.12 L444.60,1096.85 L445.60,1096.56 L446.60,1096.27 L447.60,1095.96 L448.60,1095.64 L449.60,1095.31 L450.60,1094.96 L451.60,1094.60 L452.60,1094.23 L453.60,1093.84 L454.60,1093.44 L455.60,1093.02 L456.60,1092.59 L457.60,1092.14 L458.60,1091.68 L459.60,1091.20 L460.60,1090.70 L461.60,1090.19 L462.60,1089.66 L463.60,1089.11 L464.60,1088.55 L465.60,1087.96 L466.60,1087.36 L467.60,1086.74 L468.60,1086.10 L469.60,1085.45 L470.60,1084.77 L471.60,1084.08 L472.60,1083.36 L473.60,1082.63 L474.60,1081.87 L475.60,1081.10 L476.60,1080.31 L477.60,1079.49 L478.60,1078.66 L479.60,1077.81 L480.60,1076.94 L481.60,1076.04 L482.60,1075.13 L483.60,1074.20 L484.60,1073.25 L485.60,1072.28 L486.60,1071.29 L487.60,1070.28 L488.60,1069.26 L489.60,1068.21 L490.60,1067.15 L491.60,1066.07 L492.60,1064.97 L493.60,1063.86 L494.60,1062.73 L495.60,1061.58 L496.60,1060.42 L497.60,1059.24 L498.60,1058.05 L499.60,1056.85 L500.60,1055.63 L501.60,1054.40 L502.60,1053.16 L503.60,1051.91 L504.60,1050.65 L505.60,1049.38 L506.60,1048.10 L507.60,1046.82 L508.60,1045.53 L509.60,1044.23 L510.60,1042.93 L511.60,1041.63 L512.60,1040.32 L513.60,1039.02 L514.60,1037.71 L515.60,1036.41 L516.60,1035.10 L517.60,1033.80 L518.60,1032.51 L519.60,1031.22 L520.60,1029.94 L521.60,1028.66 L522.60,1027.40 L523.60,1026.14 L524.60,1024.90 L525.60,1023.67 L526.60,1022.46 L527.60,1021.26 L528.60,1020.08 L529.60,1018.91 L530.60,1017.77 L531.60,1016.65 L532.60,1015.55 L533.60,1014.47 L534.60,1013.42 L535.60,1012.39 L536.60,1011.39 L537.60,1010.42 L538.60,1009.47 L539.60,1008.56 L540.60,1007.68 L541.60,1006.83 L542.60,1006.01 L543.60,1005.23 L544.60,1004.49 L545.60,1003.78 L546.60,1003.10 L547.60,1002.47 L548.60,1001.87 L549.60,1001.31 L550.60,1000.80 L551.60,1000.32 L552.60,999.89 L553.60,999.49 L554.60,999.14 L555.60,998.83 L556.60,998.57 L557.60,998.35 L558.60,998.17 L559.60,998.04 L560.60,997.95 L561.60,997.91 L562.60,997.91 L563.60,997.95 L564.60,998.04 L565.60,998.17 L566.60,998.35 L567.60,998.57 L568.60,998.83 L569.60,999.14 L570.60,999.49 L571.60,999.89 L572.60,1000.32 L573.60,1000.80 L574.60,1001.31 L575.60,1001.87 L576.60,1002.47 L577.60,1003.10 L578.60,1003.78 L579.60,1004.49 L580.60,1005.23 L581.60,1006.01 L582.60,1006.83 L583.60,1007.68 L584.60,1008.56 L585.60,1009.47 L586.60,1010.42 L587.60,1011.39 L588.60,1012.39 L589.60,1013.42 L590.60,1014.47 L591.60,1015.55 L592.60,1016.65 L593.60,1017.77 L594.60,1018.91 L595.60,1020.08 L596.60,1021.26 L597.60,1022.46 L598.60,1023.67 L599.60,1024.90 L600.60,1026.14 L601.60,1027.40 L602.60,1028.66 L603.60,1029.94 L604.60,1031.22 L605.60,1032.51 L606.60,1033.80 L607.60,1035.10 L608.60,1036.41 L609.60,1037.71 L610.60,1039.02 L611.60,1040.32 L612.60,1041.63 L613.60,1042.93 L614.60,1044.23 L615.60,1045.53 L616.60,1046.82 L617.60,1048.10 L618.60,1049.38 L619.60,1050.65 L620.60,1051.91 L621.60,1053.16 L622.60,1054.40 L623.60,1055.63 L624.60,1056.85 L625.60,1058.05 L626.60,1059.24 L627.60,1060.42 L628.60,1061.58 L629.60,1062.73 L630.60,1063.86 L631.60,1064.97 L632.60,1066.07 L633.60,1067.15 L634.60,1068.21 L635.60,1069.26 L636.60,1070.28 L637.60,1071.29 L638.60,1072.28 L639.60,1073.25 L640.60,1074.20 L641.60,1075.13 L642.60,1076.04 L643.60,1076.94 L644.60,1077.81 L645.60,1078.66 L646.60,1079.49 L647.60,1080.31 L648.60,1081.10 L649.60,1081.87 L650.60,1082.63 L651.60,1083.36 L652.60,1084.08 L653.60,1084.77 L654.60,1085.45 L655.60,1086.10 L656.60,1086.74 L657.60,1087.36 L658.60,1087.96 L659.60,1088.55 L660.60,1089.11 L661.60,1089.66 L662.60,1090.19 L663.60,1090.70 L664.60,1091.20 L665.60,1091.68 L666.60,1092.14 L667.60,1092.59 L668.60,1093.02 L669.60,1093.44 L670.60,1093.84 L671.60,1094.23 L672.60,1094.60 L673.60,1094.96 L674.60,1095.31 L675.60,1095.64 L676.60,1095.96 L677.60,1096.27 L678.60,1096.56 L679.60,1096.85 L680.60,1097.12 L681.60,1097.38 L682.60,1097.63 L683.60,1097.87 L684.60,1098.10 L685.60,1098.32 L686.60,1098.53 L687.60,1098.73 L688.60,1098.92 L689.60,1099.10 L690.60,1099.28 L691.60,1099.44 L692.60,1099.60 L693.60,1099.75 L694.60,1099.90 L695.60,1100.03 L696.60,1100.17 L697.60,1100.29 L698.60,1100.41 L699.60,1100.52 L700.60,1100.63 L701.60,1100.73 L702.60,1100.83 L703.60,1100.92 L704.60,1101.01 L705.60,1101.09 L706.60,1101.17 L707.60,1101.24 L708.60,1101.31 L709.60,1101.38 L710.60,1101.44 L711.60,1101.50 L712.60,1101.55 L713.60,1101.61 L714.60,1101.65 L715.60,1101.70 L716.60,1101.75 L717.60,1101.79 L718.60,1101.83 L719.60,1101.86 L720.60,1101.90 L721.60,1101.93 L722.60,1101.96 L723.60,1101.99 L724.60,1102.02 L725.60,1102.04 L726.60,1102.07 L727.60,1102.09 L728.60,1102.11 L729.60,1102.13 L730.60,1102.15 L731.60,1102.17 L732.60,1102.18 L733.60,1102.20 L734.60,1102.21 L735.60,1102.23 L736.60,1102.24 L737.60,1102.25 L738.60,1102.26 L739.60,1102.27 L740.60,1102.28 L741.60,1102.29 L742.60,1102.30 L743.60,1102.30 L744.60,1102.31 L745.60,1102.32 L746.60,1102.32 L747.60,1102.33 L748.60,1102.34 L749.60,1102.34 L750.60,1102.35 L751.60,1102.35 L752.60,1102.35 L753.60,1102.36 L754.60,1102.36 L755.60,1102.36 L756.60,1102.37 L757.60,1102.37 L758.60,1102.37 L759.60,1102.37 L760.60,1102.38 L761.60,1102.38 L762.60,1102.38 L763.60,1102.38 L764.60,1102.38 L765.60,1102.38 L766.60,1102.39 L767.60,1102.39 L768.60,1102.39 L769.60,1102.39 L770.60,1102.39 L771.60,1102.39 L772.60,1102.39 L773.60,1102.39 L774.60,1102.39 L775.60,1102.39 L776.60,1102.39 L777.60,1102.39 L778.60,1102.40 L779.60,1102.40 L780.60,1102.40 L781.60,1102.40 L782.60,1102.40 L783.60,1102.40 L784.60,1102.40 L785.60,1102.40 L786.60,1102.40" stroke="#474747" stroke-width="1.15"/>
<path d="M139.60,1102.40 L140.60,1102.40 L141.60,1102.40 L142.60,1102.40 L143.60,1102.40 L144.60,1102.40 L145.60,1102.40 L146.60,1102.40 L147.60,1102.40 L148.60,1102.40 L149.60,1102.40 L150.60,1102.40 L151.60,1102.40 L152.60,1102.40 L153.60,1102.40 L154.60,1102.40 L155.60,1102.40 L156.60,1102.40 L157.60,1102.40 L158.60,1102.40 L159.60,1102.40 L160.60,1102.40 L161.60,1102.40 L162.60,1102.40 L163.60,1102.40 L164.60,1102.40 L165.60,1102.40 L166.60,1102.40 L167.60,1102.40 L168.60,1102.40 L169.60,1102.40 L170.60,1102.40 L171.60,1102.40 L172.60,1102.40 L173.60,1102.40 L174.60,1102.40 L175.60,1102.40 L176.60,1102.40 L177.60,1102.40 L178.60,1102.40 L179.60,1102.40 L180.60,1102.40 L181.60,1102.40 L182.60,1102.40 L183.60,1102.40 L184.60,1102.40 L185.60,1102.40 L186.60,1102.40 L187.60,1102.40 L188.60,1102.40 L189.60,1102.40 L190.60,1102.40 L191.60,1102.40 L192.60,1102.40 L193.60,1102.40 L194.60,1102.40 L195.60,1102.40 L196.60,1102.40 L197.60,1102.40 L198.60,1102.40 L199.60,1102.40 L200.60,1102.40 L201.60,1102.40 L202.60,1102.40 L203.60,1102.40 L204.60,1102.40 L205.60,1102.40 L206.60,1102.40 L207.60,1102.40 L208.60,1102.40 L209.60,1102.40 L210.60,1102.40 L211.60,1102.40 L212.60,1102.40 L213.60,1102.40 L214.60,1102.40 L215.60,1102.40 L216.60,1102.40 L217.60,1102.40 L218.60,1102.40 L219.60,1102.40 L220.60,1102.40 L221.60,1102.40 L222.60,1102.40 L223.60,1102.40 L224.60,1102.40 L225.60,1102.40 L226.60,1102.40 L227.60,1102.40 L228.60,1102.40 L229.60,1102.40 L230.60,1102.40 L231.60,1102.40 L232.60,1102.40 L233.60,1102.40 L234.60,1102.40 L235.60,1102.40 L236.60,1102.40 L237.60,1102.40 L238.60,1102.40 L239.60,1102.40 L240.60,1102.40 L241.60,1102.40 L242.60,1102.40 L243.60,1102.40 L244.60,1102.40 L245.60,1102.40 L246.60,1102.40 L247.60,1102.40 L248.60,1102.40 L249.60,1102.40 L250.60,1102.40 L251.60,1102.40 L252.60,1102.40 L253.60,1102.40 L254.60,1102.40 L255.60,1102.40 L256.60,1102.40 L257.60,1102.40 L258.60,1102.40 L259.60,1102.40 L260.60,1102.40 L261.60,1102.40 L262.60,1102.40 L263.60,1102.40 L264.60,1102.40 L265.60,1102.40 L266.60,1102.40 L267.60,1102.40 L268.60,1102.40 L269.60,1102.40 L270.60,1102.40 L271.60,1102.40 L272.60,1102.40 L273.60,1102.40 L274.60,1102.40 L275.60,1102.40 L276.60,1102.40 L277.60,1102.40 L278.60,1102.40 L279.60,1102.40 L280.60,1102.40 L281.60,1102.40 L282.60,1102.40 L283.60,1102.40 L284.60,1102.40 L285.60,1102.40 L286.60,1102.40 L287.60,1102.40 L288.60,1102.40 L289.60,1102.40 L290.60,1102.40 L291.60,1102.40 L292.60,1102.40 L293.60,1102.40 L294.60,1102.40 L295.60,1102.40 L296.60,1102.40 L297.60,1102.40 L298.60,1102.40 L299.60,1102.40 L300.60,1102.40 L301.60,1102.40 L302.60,1102.40 L303.60,1102.40 L304.60,1102.40 L305.60,1102.40 L306.60,1102.40 L307.60,1102.40 L308.60,1102.40 L309.60,1102.40 L310.60,1102.40 L311.60,1102.40 L312.60,1102.40 L313.60,1102.40 L314.60,1102.40 L315.60,1102.40 L316.60,1102.40 L317.60,1102.40 L318.60,1102.40 L319.60,1102.40 L320.60,1102.40 L321.60,1102.40 L322.60,1102.40 L323.60,1102.40 L324.60,1102.40 L325.60,1102.40 L326.60,1102.40 L327.60,1102.40 L328.60,1102.40 L329.60,1102.40 L330.60,1102.40 L331.60,1102.40 L332.60,1102.40 L333.60,1102.40 L334.60,1102.40 L335.60,1102.40 L336.60,1102.40 L337.60,1102.40 L338.60,1102.40 L339.60,1102.40 L340.60,1102.40 L341.60,1102.40 L342.60,1102.40 L343.60,1102.40 L344.60,1102.40 L345.60,1102.40 L346.60,1102.40 L347.60,1102.40 L348.60,1102.40 L349.60,1102.40 L350.60,1102.40 L351.60,1102.40 L352.60,1102.40 L353.60,1102.40 L354.60,1102.40 L355.60,1102.40 L356.60,1102.40 L357.60,1102.40 L358.60,1102.40 L359.60,1102.40 L360.60,1102.40 L361.60,1102.40 L362.60,1102.40 L363.60,1102.40 L364.60,1102.40 L365.60,1102.40 L366.60,1102.40 L367.60,1102.40 L368.60,1102.40 L369.60,1102.40 L370.60,1102.40 L371.60,1102.40 L372.60,1102.40 L373.60,1102.40 L374.60,1102.40 L375.60,1102.40 L376.60,1102.40 L377.60,1102.40 L378.60,1102.40 L379.60,1102.40 L380.60,1102.40 L381.60,1102.40 L382.60,1102.40 L383.60,1102.40 L384.60,1102.40 L385.60,1102.40 L386.60,1102.40 L387.60,1102.40 L388.60,1102.40 L389.60,1102.40 L390.60,1102.40 L391.60,1102.40 L392.60,1102.40 L393.60,1102.40 L394.60,1102.40 L395.60,1102.40 L396.60,1102.40 L397.60,1102.40 L398.60,1102.40 L399.60,1102.40 L400.60,1102.40 L401.60,1102.40 L402.60,1102.40 L403.60,1102.40 L404.60,1102.40 L405.60,1102.40 L406.60,1102.40 L407.60,1102.40 L408.60,1102.40 L409.60,1102.40 L410.60,1102.40 L411.60,1102.40 L412.60,1102.40 L413.60,1102.40 L414.60,1102.40 L415.60,1102.40 L416.60,1102.40 L417.60,1102.40 L418.60,1102.40 L419.60,1102.40 L420.60,1102.40 L421.60,1102.40 L422.60,1102.40 L423.60,1102.40 L424.60,1102.40 L425.60,1102.40 L426.60,1102.40 L427.60,1102.40 L428.60,1102.40 L429.60,1102.40 L430.60,1102.40 L431.60,1102.40 L432.60,1102.40 L433.60,1102.40 L434.60,1102.40 L435.60,1102.40 L436.60,1102.40 L437.60,1102.40 L438.60,1102.40 L439.60,1102.40 L440.60,1102.40 L441.60,1102.40 L442.60,1102.40 L443.60,1102.40 L444.60,1102.40 L445.60,1102.40 L446.60,1102.40 L447.60,1102.40 L448.60,1102.40 L449.60,1102.40 L450.60,1102.40 L451.60,1102.40 L452.60,1102.40 L453.60,1102.40 L454.60,1102.40 L455.60,1102.40 L456.60,1102.40 L457.60,1102.40 L458.60,1102.40 L459.60,1102.40 L460.60,1102.40 L461.60,1102.40 L462.60,1102.40 L463.60,1102.40 L464.60,1102.40 L465.60,1102.40 L466.60,1102.40 L467.60,1102.40 L468.60,1102.40 L469.60,1102.40 L470.60,1102.40 L471.60,1102.40 L472.60,1102.40 L473.60,1102.40 L474.60,1102.40 L475.60,1102.40 L476.60,1102.40 L477.60,1102.40 L478.60,1102.40 L479.60,1102.40 L480.60,1102.40 L481.60,1102.40 L482.60,1102.40 L483.60,1102.40 L484.60,1102.40 L485.60,1102.40 L486.60,1102.40 L487.60,1102.40 L488.60,1102.40 L489.60,1102.40 L490.60,1102.40 L491.60,1102.40 L492.60,1102.40 L493.60,1102.40 L494.60,1102.40 L495.60,1102.40 L496.60,1102.40 L497.60,1102.40 L498.60,1102.40 L499.60,1102.40 L500.60,1102.40 L501.60,1102.40 L502.60,1102.40 L503.60,1102.39 L504.60,1102.39 L505.60,1102.39 L506.60,1102.39 L507.60,1102.39 L508.60,1102.39 L509.60,1102.38 L510.60,1102.38 L511.60,1102.37 L512.60,1102.37 L513.60,1102.36 L514.60,1102.36 L515.60,1102.35 L516.60,1102.34 L517.60,1102.33 L518.60,1102.31 L519.60,1102.30 L520.60,1102.28 L521.60,1102.26 L522.60,1102.24 L523.60,1102.21 L524.60,1102.17 L525.60,1102.14 L526.60,1102.09 L527.60,1102.04 L528.60,1101.99 L529.60,1101.92 L530.60,1101.84 L531.60,1101.76 L532.60,1101.66 L533.60,1101.54 L534.60,1101.42 L535.60,1101.27 L536.60,1101.11 L537.60,1100.92 L538.60,1100.71 L539.60,1100.48 L540.60,1100.21 L541.60,1099.91 L542.60,1099.58 L543.60,1099.21 L544.60,1098.79 L545.60,1098.33 L546.60,1097.82 L547.60,1097.25 L548.60,1096.62 L549.60,1095.92 L550.60,1095.16 L551.60,1094.31 L552.60,1093.39 L553.60,1092.37 L554.60,1091.27 L555.60,1090.06 L556.60,1088.74 L557.60,1087.31 L558.60,1085.75 L559.60,1084.07 L560.60,1082.26 L561.60,1080.30 L562.60,1078.20 L563.60,1075.94 L564.60,1073.52 L565.60,1070.93 L566.60,1068.17 L567.60,1065.24 L568.60,1062.12 L569.60,1058.82 L570.60,1055.33 L571.60,1051.64 L572.60,1047.76 L573.60,1043.69 L574.60,1039.43 L575.60,1034.97 L576.60,1030.32 L577.60,1025.48 L578.60,1020.47 L579.60,1015.27 L580.60,1009.91 L581.60,1004.39 L582.60,998.72 L583.60,992.91 L584.60,986.98 L585.60,980.93 L586.60,974.79 L587.60,968.58 L588.60,962.30 L589.60,955.98 L590.60,949.65 L591.60,943.31 L592.60,937.01 L593.60,930.75 L594.60,924.56 L595.60,918.47 L596.60,912.50 L597.60,906.67 L598.60,901.02 L599.60,895.56 L600.60,890.33 L601.60,885.33 L602.60,880.61 L603.60,876.18 L604.60,872.06 L605.60,868.27 L606.60,864.83 L607.60,861.75 L608.60,859.07 L609.60,856.77 L610.60,854.89 L611.60,853.42 L612.60,852.38 L613.60,851.78 L614.60,851.60 L615.60,851.84 L616.60,852.46 L617.60,853.46 L618.60,854.85 L619.60,856.60 L620.60,858.73 L621.60,861.21 L622.60,864.03 L623.60,867.19 L624.60,870.66 L625.60,874.44 L626.60,878.50 L627.60,882.83 L628.60,887.41 L629.60,892.22 L630.60,897.24 L631.60,902.46 L632.60,907.84 L633.60,913.37 L634.60,919.02 L635.60,924.79 L636.60,930.63 L637.60,936.55 L638.60,942.50 L639.60,948.49 L640.60,954.47 L641.60,960.45 L642.60,966.39 L643.60,972.29 L644.60,978.13 L645.60,983.88 L646.60,989.55 L647.60,995.11 L648.60,1000.55 L649.60,1005.87 L650.60,1011.05 L651.60,1016.09 L652.60,1020.98 L653.60,1025.71 L654.60,1030.27 L655.60,1034.67 L656.60,1038.90 L657.60,1042.96 L658.60,1046.84 L659.60,1050.55 L660.60,1054.09 L661.60,1057.46 L662.60,1060.65 L663.60,1063.68 L664.60,1066.55 L665.60,1069.25 L666.60,1071.80 L667.60,1074.20 L668.60,1076.44 L669.60,1078.55 L670.60,1080.52 L671.60,1082.36 L672.60,1084.07 L673.60,1085.66 L674.60,1087.14 L675.60,1088.51 L676.60,1089.77 L677.60,1090.94 L678.60,1092.02 L679.60,1093.00 L680.60,1093.91 L681.60,1094.75 L682.60,1095.51 L683.60,1096.20 L684.60,1096.84 L685.60,1097.41 L686.60,1097.94 L687.60,1098.41 L688.60,1098.84 L689.60,1099.23 L690.60,1099.58 L691.60,1099.90 L692.60,1100.18 L693.60,1100.43 L694.60,1100.66 L695.60,1100.87 L696.60,1101.05 L697.60,1101.21 L698.60,1101.36 L699.60,1101.48 L700.60,1101.60 L701.60,1101.70 L702.60,1101.79 L703.60,1101.87 L704.60,1101.94 L705.60,1102.00 L706.60,1102.05 L707.60,1102.10 L708.60,1102.14 L709.60,1102.17 L710.60,1102.20 L711.60,1102.23 L712.60,1102.26 L713.60,1102.28 L714.60,1102.29 L715.60,1102.31 L716.60,1102.32 L717.60,1102.33 L718.60,1102.34 L719.60,1102.35 L720.60,1102.36 L721.60,1102.37 L722.60,1102.37 L723.60,1102.38 L724.60,1102.38 L725.60,1102.38 L726.60,1102.39 L727.60,1102.39 L728.60,1102.39 L729.60,1102.39 L730.60,1102.39 L731.60,1102.39 L732.60,1102.39 L733.60,1102.40 L734.60,1102.40 L735.60,1102.40 L736.60,1102.40 L737.60,1102.40 L738.60,1102.40 L739.60,1102.40 L740.60,1102.40 L741.60,1102.40 L742.60,1102.40 L743.60,1102.40 L744.60,1102.40 L745.60,1102.40 L746.60,1102.40 L747.60,1102.40 L748.60,1102.40 L749.60,1102.40 L750.60,1102.40 L751.60,1102.40 L752.60,1102.40 L753.60,1102.40 L754.60,1102.40 L755.60,1102.40 L756.60,1102.40 L757.60,1102.40 L758.60,1102.40 L759.60,1102.40 L760.60,1102.40 L761.60,1102.40 L762.60,1102.40 L763.60,1102.40 L764.60,1102.40 L765.60,1102.40 L766.60,1102.40 L767.60,1102.40 L768.60,1102.40 L769.60,1102.40 L770.60,1102.40 L771.60,1102.40 L772.60,1102.40 L773.60,1102.40 L774.60,1102.40 L775.60,1102.40 L776.60,1102.40 L777.60,1102.40 L778.60,1102.40 L779.60,1102.40 L780.60,1102.40 L781.60,1102.40 L782.60,1102.40 L783.60,1102.40 L784.60,1102.40 L785.60,1102.40 L786.60,1102.40" stroke="#474747" stroke-width="1.15"/>
<path d="M139.60,1102.40 L140.60,1102.40 L141.60,1102.40 L142.60,1102.40 L143.60,1102.40 L144.60,1102.40 L145.60,1102.40 L146.60,1102.40 L147.60,1102.40 L148.60,1102.40 L149.60,1102.40 L150.60,1102.40 L151.60,1102.40 L152.60,1102.40 L153.60,1102.40 L154.60,1102.40 L155.60,1102.40 L156.60,1102.40 L157.60,1102.40 L158.60,1102.40 L159.60,1102.40 L160.60,1102.40 L161.60,1102.40 L162.60,1102.40 L163.60,1102.40 L164.60,1102.40 L165.60,1102.40 L166.60,1102.40 L167.60,1102.40 L168.60,1102.40 L169.60,1102.40 L170.60,1102.40 L171.60,1102.40 L172.60,1102.40 L173.60,1102.40 L174.60,1102.40 L175.60,1102.40 L176.60,1102.40 L177.60,1102.40 L178.60,1102.40 L179.60,1102.40 L180.60,1102.40 L181.60,1102.40 L182.60,1102.40 L183.60,1102.40 L184.60,1102.40 L185.60,1102.40 L186.60,1102.40 L187.60,1102.40 L188.60,1102.40 L189.60,1102.40 L190.60,1102.40 L191.60,1102.40 L192.60,1102.40 L193.60,1102.40 L194.60,1102.40 L195.60,1102.40 L196.60,1102.40 L197.60,1102.40 L198.60,1102.40 L199.60,1102.40 L200.60,1102.40 L201.60,1102.40 L202.60,1102.40 L203.60,1102.40 L204.60,1102.40 L205.60,1102.40 L206.60,1102.40 L207.60,1102.40 L208.60,1102.40 L209.60,1102.40 L210.60,1102.40 L211.60,1102.40 L212.60,1102.40 L213.60,1102.40 L214.60,1102.40 L215.60,1102.40 L216.60,1102.40 L217.60,1102.40 L218.60,1102.40 L219.60,1102.40 L220.60,1102.40 L221.60,1102.40 L222.60,1102.40 L223.60,1102.40 L224.60,1102.40 L225.60,1102.40 L226.60,1102.40 L227.60,1102.40 L228.60,1102.40 L229.60,1102.40 L230.60,1102.40 L231.60,1102.40 L232.60,1102.40 L233.60,1102.40 L234.60,1102.40 L235.60,1102.40 L236.60,1102.40 L237.60,1102.40 L238.60,1102.40 L239.60,1102.40 L240.60,1102.40 L241.60,1102.40 L242.60,1102.40 L243.60,1102.40 L244.60,1102.40 L245.60,1102.40 L246.60,1102.40 L247.60,1102.40 L248.60,1102.40 L249.60,1102.40 L250.60,1102.40 L251.60,1102.40 L252.60,1102.40 L253.60,1102.40 L254.60,1102.40 L255.60,1102.40 L256.60,1102.40 L257.60,1102.40 L258.60,1102.40 L259.60,1102.40 L260.60,1102.40 L261.60,1102.40 L262.60,1102.40 L263.60,1102.40 L264.60,1102.40 L265.60,1102.40 L266.60,1102.40 L267.60,1102.40 L268.60,1102.40 L269.60,1102.40 L270.60,1102.40 L271.60,1102.40 L272.60,1102.40 L273.60,1102.40 L274.60,1102.40 L275.60,1102.40 L276.60,1102.40 L277.60,1102.40 L278.60,1102.40 L279.60,1102.40 L280.60,1102.40 L281.60,1102.40 L282.60,1102.40 L283.60,1102.40 L284.60,1102.40 L285.60,1102.40 L286.60,1102.40 L287.60,1102.40 L288.60,1102.40 L289.60,1102.40 L290.60,1102.40 L291.60,1102.40 L292.60,1102.40 L293.60,1102.40 L294.60,1102.40 L295.60,1102.40 L296.60,1102.40 L297.60,1102.40 L298.60,1102.40 L299.60,1102.40 L300.60,1102.40 L301.60,1102.40 L302.60,1102.40 L303.60,1102.40 L304.60,1102.40 L305.60,1102.40 L306.60,1102.40 L307.60,1102.40 L308.60,1102.40 L309.60,1102.40 L310.60,1102.40 L311.60,1102.40 L312.60,1102.40 L313.60,1102.40 L314.60,1102.40 L315.60,1102.40 L316.60,1102.40 L317.60,1102.40 L318.60,1102.40 L319.60,1102.40 L320.60,1102.40 L321.60,1102.40 L322.60,1102.40 L323.60,1102.40 L324.60,1102.40 L325.60,1102.40 L326.60,1102.40 L327.60,1102.40 L328.60,1102.40 L329.60,1102.40 L330.60,1102.40 L331.60,1102.40 L332.60,1102.40 L333.60,1102.40 L334.60,1102.40 L335.60,1102.40 L336.60,1102.40 L337.60,1102.40 L338.60,1102.40 L339.60,1102.40 L340.60,1102.40 L341.60,1102.40 L342.60,1102.40 L343.60,1102.40 L344.60,1102.40 L345.60,1102.40 L346.60,1102.40 L347.60,1102.40 L348.60,1102.40 L349.60,1102.40 L350.60,1102.40 L351.60,1102.40 L352.60,1102.40 L353.60,1102.40 L354.60,1102.40 L355.60,1102.40 L356.60,1102.40 L357.60,1102.40 L358.60,1102.40 L359.60,1102.40 L360.60,1102.40 L361.60,1102.40 L362.60,1102.40 L363.60,1102.40 L364.60,1102.40 L365.60,1102.40 L366.60,1102.40 L367.60,1102.40 L368.60,1102.40 L369.60,1102.40 L370.60,1102.40 L371.60,1102.40 L372.60,1102.40 L373.60,1102.40 L374.60,1102.40 L375.60,1102.40 L376.60,1102.40 L377.60,1102.40 L378.60,1102.40 L379.60,1102.40 L380.60,1102.40 L381.60,1102.40 L382.60,1102.40 L383.60,1102.40 L384.60,1102.40 L385.60,1102.40 L386.60,1102.40 L387.60,1102.40 L388.60,1102.40 L389.60,1102.40 L390.60,1102.40 L391.60,1102.40 L392.60,1102.40 L393.60,1102.40 L394.60,1102.40 L395.60,1102.40 L396.60,1102.40 L397.60,1102.40 L398.60,1102.40 L399.60,1102.40 L400.60,1102.40 L401.60,1102.40 L402.60,1102.40 L403.60,1102.40 L404.60,1102.40 L405.60,1102.40 L406.60,1102.40 L407.60,1102.40 L408.60,1102.40 L409.60,1102.40 L410.60,1102.40 L411.60,1102.40 L412.60,1102.40 L413.60,1102.40 L414.60,1102.40 L415.60,1102.40 L416.60,1102.40 L417.60,1102.40 L418.60,1102.40 L419.60,1102.40 L420.60,1102.40 L421.60,1102.40 L422.60,1102.40 L423.60,1102.40 L424.60,1102.40 L425.60,1102.40 L426.60,1102.40 L427.60,1102.40 L428.60,1102.40 L429.60,1102.40 L430.60,1102.40 L431.60,1102.40 L432.60,1102.40 L433.60,1102.40 L434.60,1102.40 L435.60,1102.40 L436.60,1102.40 L437.60,1102.40 L438.60,1102.40 L439.60,1102.40 L440.60,1102.40 L441.60,1102.40 L442.60,1102.40 L443.60,1102.40 L444.60,1102.40 L445.60,1102.40 L446.60,1102.40 L447.60,1102.40 L448.60,1102.40 L449.60,1102.40 L450.60,1102.40 L451.60,1102.40 L452.60,1102.40 L453.60,1102.40 L454.60,1102.40 L455.60,1102.40 L456.60,1102.40 L457.60,1102.40 L458.60,1102.40 L459.60,1102.40 L460.60,1102.40 L461.60,1102.40 L462.60,1102.40 L463.60,1102.40 L464.60,1102.40 L465.60,1102.40 L466.60,1102.40 L467.60,1102.40 L468.60,1102.40 L469.60,1102.40 L470.60,1102.40 L471.60,1102.40 L472.60,1102.40 L473.60,1102.40 L474.60,1102.40 L475.60,1102.40 L476.60,1102.40 L477.60,1102.40 L478.60,1102.40 L479.60,1102.40 L480.60,1102.40 L481.60,1102.40 L482.60,1102.40 L483.60,1102.40 L484.60,1102.40 L485.60,1102.40 L486.60,1102.40 L487.60,1102.40 L488.60,1102.40 L489.60,1102.40 L490.60,1102.40 L491.60,1102.40 L492.60,1102.40 L493.60,1102.40 L494.60,1102.40 L495.60,1102.40 L496.60,1102.40 L497.60,1102.40 L498.60,1102.40 L499.60,1102.40 L500.60,1102.40 L501.60,1102.40 L502.60,1102.40 L503.60,1102.40 L504.60,1102.40 L505.60,1102.40 L506.60,1102.40 L507.60,1102.40 L508.60,1102.40 L509.60,1102.40 L510.60,1102.40 L511.60,1102.40 L512.60,1102.40 L513.60,1102.40 L514.60,1102.40 L515.60,1102.40 L516.60,1102.40 L517.60,1102.40 L518.60,1102.40 L519.60,1102.40 L520.60,1102.40 L521.60,1102.40 L522.60,1102.40 L523.60,1102.40 L524.60,1102.40 L525.60,1102.40 L526.60,1102.40 L527.60,1102.40 L528.60,1102.40 L529.60,1102.40 L530.60,1102.40 L531.60,1102.40 L532.60,1102.40 L533.60,1102.40 L534.60,1102.40 L535.60,1102.40 L536.60,1102.40 L537.60,1102.40 L538.60,1102.40 L539.60,1102.40 L540.60,1102.40 L541.60,1102.40 L542.60,1102.40 L543.60,1102.40 L544.60,1102.40 L545.60,1102.40 L546.60,1102.40 L547.60,1102.40 L548.60,1102.40 L549.60,1102.40 L550.60,1102.40 L551.60,1102.40 L552.60,1102.40 L553.60,1102.40 L554.60,1102.40 L555.60,1102.40 L556.60,1102.40 L557.60,1102.40 L558.60,1102.40 L559.60,1102.40 L560.60,1102.40 L561.60,1102.40 L562.60,1102.40 L563.60,1102.40 L564.60,1102.40 L565.60,1102.40 L566.60,1102.40 L567.60,1102.40 L568.60,1102.40 L569.60,1102.40 L570.60,1102.40 L571.60,1102.40 L572.60,1102.40 L573.60,1102.40 L574.60,1102.40 L575.60,1102.40 L576.60,1102.40 L577.60,1102.40 L578.60,1102.40 L579.60,1102.40 L580.60,1102.40 L581.60,1102.40 L582.60,1102.40 L583.60,1102.40 L584.60,1102.40 L585.60,1102.40 L586.60,1102.40 L587.60,1102.40 L588.60,1102.40 L589.60,1102.40 L590.60,1102.40 L591.60,1102.40 L592.60,1102.40 L593.60,1102.40 L594.60,1102.40 L595.60,1102.40 L596.60,1102.40 L597.60,1102.40 L598.60,1102.39 L599.60,1102.39 L600.60,1102.39 L601.60,1102.38 L602.60,1102.37 L603.60,1102.36 L604.60,1102.34 L605.60,1102.32 L606.60,1102.29 L607.60,1102.25 L608.60,1102.20 L609.60,1102.13 L610.60,1102.04 L611.60,1101.92 L612.60,1101.78 L613.60,1101.60 L614.60,1101.37 L615.60,1101.09 L616.60,1100.74 L617.60,1100.32 L618.60,1099.82 L619.60,1099.23 L620.60,1098.52 L621.60,1097.70 L622.60,1096.76 L623.60,1095.68 L624.60,1094.45 L625.60,1093.09 L626.60,1091.58 L627.60,1089.92 L628.60,1088.14 L629.60,1086.23 L630.60,1084.21 L631.60,1082.12 L632.60,1079.96 L633.60,1077.79 L634.60,1075.62 L635.60,1073.51 L636.60,1071.48 L637.60,1069.59 L638.60,1067.86 L639.60,1066.35 L640.60,1065.07 L641.60,1064.07 L642.60,1063.37 L643.60,1062.98 L644.60,1062.92 L645.60,1063.21 L646.60,1063.85 L647.60,1064.84 L648.60,1066.14 L649.60,1067.71 L650.60,1069.52 L651.60,1071.52 L652.60,1073.67 L653.60,1075.92 L654.60,1078.21 L655.60,1080.51 L656.60,1082.77 L657.60,1084.96 L658.60,1087.05 L659.60,1089.01 L660.60,1090.83 L661.60,1092.50 L662.60,1094.00 L663.60,1095.34 L664.60,1096.52 L665.60,1097.55 L666.60,1098.44 L667.60,1099.19 L668.60,1099.82 L669.60,1100.35 L670.60,1100.79 L671.60,1101.14 L672.60,1101.43 L673.60,1101.65 L674.60,1101.83 L675.60,1101.97 L676.60,1102.08 L677.60,1102.17 L678.60,1102.23 L679.60,1102.28 L680.60,1102.31 L681.60,1102.34 L682.60,1102.36 L683.60,1102.37 L684.60,1102.38 L685.60,1102.39 L686.60,1102.39 L687.60,1102.39 L688.60,1102.40 L689.60,1102.40 L690.60,1102.40 L691.60,1102.40 L692.60,1102.40 L693.60,1102.40 L694.60,1102.40 L695.60,1102.40 L696.60,1102.40 L697.60,1102.40 L698.60,1102.40 L699.60,1102.40 L700.60,1102.40 L701.60,1102.40 L702.60,1102.40 L703.60,1102.40 L704.60,1102.40 L705.60,1102.40 L706.60,1102.40 L707.60,1102.40 L708.60,1102.40 L709.60,1102.40 L710.60,1102.40 L711.60,1102.40 L712.60,1102.40 L713.60,1102.40 L714.60,1102.40 L715.60,1102.40 L716.60,1102.40 L717.60,1102.40 L718.60,1102.40 L719.60,1102.40 L720.60,1102.40 L721.60,1102.40 L722.60,1102.40 L723.60,1102.40 L724.60,1102.40 L725.60,1102.40 L726.60,1102.40 L727.60,1102.40 L728.60,1102.40 L729.60,1102.40 L730.60,1102.40 L731.60,1102.40 L732.60,1102.40 L733.60,1102.40 L734.60,1102.40 L735.60,1102.40 L736.60,1102.40 L737.60,1102.40 L738.60,1102.40 L739.60,1102.40 L740.60,1102.40 L741.60,1102.40 L742.60,1102.40 L743.60,1102.40 L744.60,1102.40 L745.60,1102.40 L746.60,1102.40 L747.60,1102.40 L748.60,1102.40 L749.60,1102.40 L750.60,1102.40 L751.60,1102.40 L752.60,1102.40 L753.60,1102.40 L754.60,1102.40 L755.60,1102.40 L756.60,1102.40 L757.60,1102.40 L758.60,1102.40 L759.60,1102.40 L760.60,1102.40 L761.60,1102.40 L762.60,1102.40 L763.60,1102.40 L764.60,1102.40 L765.60,1102.40 L766.60,1102.40 L767.60,1102.40 L768.60,1102.40 L769.60,1102.40 L770.60,1102.40 L771.60,1102.40 L772.60,1102.40 L773.60,1102.40 L774.60,1102.40 L775.60,1102.40 L776.60,1102.40 L777.60,1102.40 L778.60,1102.40 L779.60,1102.40 L780.60,1102.40 L781.60,1102.40 L782.60,1102.40 L783.60,1102.40 L784.60,1102.40 L785.60,1102.40 L786.60,1102.40" stroke="#474747" stroke-width="1.15"/>
<path d="M135.90,1085.80h7.2v7.2h-7.2z M136.08,1085.98l6.84,6.84 M142.92,1085.98l-6.84,6.84M142.80,1112.40h7.2v7.2h-7.2z M142.98,1112.58l6.84,6.84 M149.82,1112.58l-6.84,6.84M150.50,1112.40h7.2v7.2h-7.2z M150.68,1112.58l6.84,6.84 M157.52,1112.58l-6.84,6.84M158.30,1098.90h7.2v7.2h-7.2z M158.48,1099.08l6.84,6.84 M165.32,1099.08l-6.84,6.84M165.70,1098.90h7.2v7.2h-7.2z M165.88,1099.08l6.84,6.84 M172.72,1099.08l-6.84,6.84M173.10,1098.90h7.2v7.2h-7.2z M173.28,1099.08l6.84,6.84 M180.12,1099.08l-6.84,6.84M181.10,1098.90h7.2v7.2h-7.2z M181.28,1099.08l6.84,6.84 M188.12,1099.08l-6.84,6.84M189.00,1098.90h7.2v7.2h-7.2z M189.18,1099.08l6.84,6.84 M196.02,1099.08l-6.84,6.84M196.50,1098.90h7.2v7.2h-7.2z M196.68,1099.08l6.84,6.84 M203.52,1099.08l-6.84,6.84M204.20,1086.00h7.2v7.2h-7.2z M204.38,1086.18l6.84,6.84 M211.22,1086.18l-6.84,6.84M211.90,1098.90h7.2v7.2h-7.2z M212.08,1099.08l6.84,6.84 M218.92,1099.08l-6.84,6.84M219.80,1098.90h7.2v7.2h-7.2z M219.98,1099.08l6.84,6.84 M226.82,1099.08l-6.84,6.84M227.30,1098.90h7.2v7.2h-7.2z M227.48,1099.08l6.84,6.84 M234.32,1099.08l-6.84,6.84M235.40,1086.00h7.2v7.2h-7.2z M235.58,1086.18l6.84,6.84 M242.42,1086.18l-6.84,6.84M243.20,1098.90h7.2v7.2h-7.2z M243.38,1099.08l6.84,6.84 M250.22,1099.08l-6.84,6.84M250.60,1098.90h7.2v7.2h-7.2z M250.78,1099.08l6.84,6.84 M257.62,1099.08l-6.84,6.84M258.00,1098.90h7.2v7.2h-7.2z M258.18,1099.08l6.84,6.84 M265.02,1099.08l-6.84,6.84M265.40,1098.90h7.2v7.2h-7.2z M265.58,1099.08l6.84,6.84 M272.42,1099.08l-6.84,6.84M272.80,1098.90h7.2v7.2h-7.2z M272.98,1099.08l6.84,6.84 M279.82,1099.08l-6.84,6.84M280.20,1098.90h7.2v7.2h-7.2z M280.38,1099.08l6.84,6.84 M287.22,1099.08l-6.84,6.84M287.60,1098.90h7.2v7.2h-7.2z M287.78,1099.08l6.84,6.84 M294.62,1099.08l-6.84,6.84M295.00,1098.90h7.2v7.2h-7.2z M295.18,1099.08l6.84,6.84 M302.02,1099.08l-6.84,6.84M302.40,1098.90h7.2v7.2h-7.2z M302.58,1099.08l6.84,6.84 M309.42,1099.08l-6.84,6.84M309.80,1098.90h7.2v7.2h-7.2z M309.98,1099.08l6.84,6.84 M316.82,1099.08l-6.84,6.84M317.20,1098.90h7.2v7.2h-7.2z M317.38,1099.08l6.84,6.84 M324.22,1099.08l-6.84,6.84M324.60,1098.90h7.2v7.2h-7.2z M324.78,1099.08l6.84,6.84 M331.62,1099.08l-6.84,6.84M332.00,1098.90h7.2v7.2h-7.2z M332.18,1099.08l6.84,6.84 M339.02,1099.08l-6.84,6.84M339.40,1098.90h7.2v7.2h-7.2z M339.58,1099.08l6.84,6.84 M346.42,1099.08l-6.84,6.84M346.80,1098.90h7.2v7.2h-7.2z M346.98,1099.08l6.84,6.84 M353.82,1099.08l-6.84,6.84M354.20,1098.90h7.2v7.2h-7.2z M354.38,1099.08l6.84,6.84 M361.22,1099.08l-6.84,6.84M361.60,1098.90h7.2v7.2h-7.2z M361.78,1099.08l6.84,6.84 M368.62,1099.08l-6.84,6.84M369.00,1098.90h7.2v7.2h-7.2z M369.18,1099.08l6.84,6.84 M376.02,1099.08l-6.84,6.84M376.40,1098.90h7.2v7.2h-7.2z M376.58,1099.08l6.84,6.84 M383.42,1099.08l-6.84,6.84M383.80,1098.90h7.2v7.2h-7.2z M383.98,1099.08l6.84,6.84 M390.82,1099.08l-6.84,6.84M391.20,1098.90h7.2v7.2h-7.2z M391.38,1099.08l6.84,6.84 M398.22,1099.08l-6.84,6.84M398.60,1098.90h7.2v7.2h-7.2z M398.78,1099.08l6.84,6.84 M405.62,1099.08l-6.84,6.84M406.00,1098.90h7.2v7.2h-7.2z M406.18,1099.08l6.84,6.84 M413.02,1099.08l-6.84,6.84M413.40,1098.90h7.2v7.2h-7.2z M413.58,1099.08l6.84,6.84 M420.42,1099.08l-6.84,6.84M420.60,1086.00h7.2v7.2h-7.2z M420.78,1086.18l6.84,6.84 M427.62,1086.18l-6.84,6.84M428.20,1086.00h7.2v7.2h-7.2z M428.38,1086.18l6.84,6.84 M435.22,1086.18l-6.84,6.84M435.80,1098.80h7.2v7.2h-7.2z M435.98,1098.98l6.84,6.84 M442.82,1098.98l-6.84,6.84M444.40,1086.10h7.2v7.2h-7.2z M444.58,1086.28l6.84,6.84 M451.42,1086.28l-6.84,6.84M451.80,1086.10h7.2v7.2h-7.2z M451.98,1086.28l6.84,6.84 M458.82,1086.28l-6.84,6.84M459.20,1086.10h7.2v7.2h-7.2z M459.38,1086.28l6.84,6.84 M466.22,1086.28l-6.84,6.84M466.40,1086.10h7.2v7.2h-7.2z M466.58,1086.28l6.84,6.84 M473.42,1086.28l-6.84,6.84M474.40,1072.50h7.2v7.2h-7.2z M474.58,1072.68l6.84,6.84 M481.42,1072.68l-6.84,6.84M482.60,1059.70h7.2v7.2h-7.2z M482.78,1059.88l6.84,6.84 M489.62,1059.88l-6.84,6.84M490.10,1059.70h7.2v7.2h-7.2z M490.28,1059.88l6.84,6.84 M497.12,1059.88l-6.84,6.84M497.60,1059.70h7.2v7.2h-7.2z M497.78,1059.88l6.84,6.84 M504.62,1059.88l-6.84,6.84M506.40,1033.60h7.2v7.2h-7.2z M506.58,1033.78l6.84,6.84 M513.42,1033.78l-6.84,6.84M512.90,1033.60h7.2v7.2h-7.2z M513.08,1033.78l6.84,6.84 M519.92,1033.78l-6.84,6.84M521.40,1020.40h7.2v7.2h-7.2z M521.58,1020.58l6.84,6.84 M528.42,1020.58l-6.84,6.84M528.40,1020.40h7.2v7.2h-7.2z M528.58,1020.58l6.84,6.84 M535.42,1020.58l-6.84,6.84M536.00,1007.50h7.2v7.2h-7.2z M536.18,1007.68l6.84,6.84 M543.02,1007.68l-6.84,6.84M544.40,994.00h7.2v7.2h-7.2z M544.58,994.18l6.84,6.84 M551.42,994.18l-6.84,6.84M551.40,994.00h7.2v7.2h-7.2z M551.58,994.18l6.84,6.84 M558.42,994.18l-6.84,6.84M559.50,954.20h7.2v7.2h-7.2z M559.68,954.38l6.84,6.84 M566.52,954.38l-6.84,6.84M567.20,941.40h7.2v7.2h-7.2z M567.38,941.58l6.84,6.84 M574.22,941.58l-6.84,6.84M574.80,915.70h7.2v7.2h-7.2z M574.98,915.88l6.84,6.84 M581.82,915.88l-6.84,6.84M582.30,889.20h7.2v7.2h-7.2z M582.48,889.38l6.84,6.84 M589.32,889.38l-6.84,6.84M590.30,849.70h7.2v7.2h-7.2z M590.48,849.88l6.84,6.84 M597.32,849.88l-6.84,6.84M597.70,797.30h7.2v7.2h-7.2z M597.88,797.48l6.84,6.84 M604.72,797.48l-6.84,6.84M606.00,770.50h7.2v7.2h-7.2z M606.18,770.68l6.84,6.84 M613.02,770.68l-6.84,6.84M613.20,757.30h7.2v7.2h-7.2z M613.38,757.48l6.84,6.84 M620.22,757.48l-6.84,6.84M621.00,810.20h7.2v7.2h-7.2z M621.18,810.38l6.84,6.84 M628.02,810.38l-6.84,6.84M628.70,849.00h7.2v7.2h-7.2z M628.88,849.18l6.84,6.84 M635.72,849.18l-6.84,6.84M636.60,875.90h7.2v7.2h-7.2z M636.78,876.08l6.84,6.84 M643.62,876.08l-6.84,6.84M644.20,928.20h7.2v7.2h-7.2z M644.38,928.38l6.84,6.84 M651.22,928.38l-6.84,6.84M652.00,1020.70h7.2v7.2h-7.2z M652.18,1020.88l6.84,6.84 M659.02,1020.88l-6.84,6.84M659.80,1059.80h7.2v7.2h-7.2z M659.98,1059.98l6.84,6.84 M666.82,1059.98l-6.84,6.84M667.90,1085.90h7.2v7.2h-7.2z M668.08,1086.08l6.84,6.84 M674.92,1086.08l-6.84,6.84M675.40,1099.20h7.2v7.2h-7.2z M675.58,1099.38l6.84,6.84 M682.42,1099.38l-6.84,6.84M682.90,1099.20h7.2v7.2h-7.2z M683.08,1099.38l6.84,6.84 M689.92,1099.38l-6.84,6.84M690.40,1099.20h7.2v7.2h-7.2z M690.58,1099.38l6.84,6.84 M697.42,1099.38l-6.84,6.84M698.40,1112.20h7.2v7.2h-7.2z M698.58,1112.38l6.84,6.84 M705.42,1112.38l-6.84,6.84M705.90,1099.20h7.2v7.2h-7.2z M706.08,1099.38l6.84,6.84 M712.92,1099.38l-6.84,6.84M713.40,1099.20h7.2v7.2h-7.2z M713.58,1099.38l6.84,6.84 M720.42,1099.38l-6.84,6.84M720.90,1099.20h7.2v7.2h-7.2z M721.08,1099.38l6.84,6.84 M727.92,1099.38l-6.84,6.84M728.40,1099.20h7.2v7.2h-7.2z M728.58,1099.38l6.84,6.84 M735.42,1099.38l-6.84,6.84M735.90,1099.20h7.2v7.2h-7.2z M736.08,1099.38l6.84,6.84 M742.92,1099.38l-6.84,6.84M743.40,1099.20h7.2v7.2h-7.2z M743.58,1099.38l6.84,6.84 M750.42,1099.38l-6.84,6.84M750.90,1099.20h7.2v7.2h-7.2z M751.08,1099.38l6.84,6.84 M757.92,1099.38l-6.84,6.84M758.40,1099.20h7.2v7.2h-7.2z M758.58,1099.38l6.84,6.84 M765.42,1099.38l-6.84,6.84M765.90,1099.20h7.2v7.2h-7.2z M766.08,1099.38l6.84,6.84 M772.92,1099.38l-6.84,6.84M773.40,1099.20h7.2v7.2h-7.2z M773.58,1099.38l6.84,6.84 M780.42,1099.38l-6.84,6.84M780.90,1099.20h7.2v7.2h-7.2z M781.08,1099.38l6.84,6.84 M787.92,1099.38l-6.84,6.84" stroke="#2e2e2e" stroke-width="1.25"/>
<path d="M139.00,1095.00 C139.67,1096.33 141.50,1100.42 143.00,1103.00 C144.50,1105.58 146.33,1109.00 148.00,1110.50 C149.67,1112.00 151.50,1112.58 153.00,1112.00 C154.50,1111.42 155.67,1108.58 157.00,1107.00 C158.33,1105.42 153.83,1103.28 161.00,1102.50 C168.17,1101.72 191.83,1102.63 200.00,1102.30 C208.17,1101.97 205.83,1100.63 210.00,1100.50 C214.17,1100.37 220.00,1101.42 225.00,1101.50 C230.00,1101.58 235.83,1100.87 240.00,1101.00 C244.17,1101.13 240.00,1102.07 250.00,1102.30 C260.00,1102.53 273.00,1102.38 300.00,1102.40 C327.00,1102.42 392.42,1102.58 412.00,1102.40 C431.58,1102.22 414.92,1102.73 417.50,1101.30 C420.08,1099.87 425.00,1094.85 427.50,1093.80 C430.00,1092.75 430.42,1094.70 432.50,1095.00 C434.58,1095.30 437.08,1096.12 440.00,1095.60 C442.92,1095.08 447.08,1093.45 450.00,1091.90 C452.92,1090.35 455.42,1087.97 457.50,1086.30 C459.58,1084.63 460.83,1082.85 462.50,1081.90 C464.17,1080.95 465.83,1081.12 467.50,1080.60 C469.17,1080.08 470.62,1079.73 472.50,1078.80 C474.38,1077.87 476.72,1076.67 478.80,1075.00 C480.88,1073.33 482.72,1070.67 485.00,1068.80 C487.28,1066.93 490.20,1065.47 492.50,1063.80 C494.80,1062.13 496.72,1060.88 498.80,1058.80 C500.88,1056.72 503.13,1054.43 505.00,1051.30 C506.87,1048.17 508.00,1042.72 510.00,1040.00 C512.00,1037.28 514.50,1037.50 517.00,1035.00 C519.50,1032.50 522.50,1027.33 525.00,1025.00 C527.50,1022.67 529.57,1023.32 532.00,1021.00 C534.43,1018.68 536.93,1014.77 539.60,1011.10 C542.27,1007.43 545.43,1001.85 548.00,999.00 C550.57,996.15 552.48,1000.70 555.00,994.00 C557.52,987.30 560.47,967.13 563.10,958.80 C565.73,950.47 568.25,950.58 570.80,944.00 C573.35,937.42 575.88,927.83 578.40,919.30 C580.92,910.77 583.32,903.80 585.90,892.80 C588.48,881.80 591.33,868.43 593.90,853.30 C596.47,838.17 599.28,813.72 601.30,802.00 C603.32,790.28 604.62,788.00 606.00,783.00 C607.38,778.00 608.60,774.75 609.60,772.00 C610.60,769.25 611.27,767.87 612.00,766.50 C612.73,765.13 613.25,763.97 614.00,763.80 C614.75,763.63 615.67,764.13 616.50,765.50 C617.33,766.87 618.20,768.58 619.00,772.00 C619.80,775.42 620.37,780.00 621.30,786.00 C622.23,792.00 622.77,797.50 624.60,808.00 C626.43,818.50 629.70,837.00 632.30,849.00 C634.90,861.00 637.62,865.50 640.20,880.00 C642.78,894.50 645.23,912.67 647.80,936.00 C650.37,959.33 653.00,999.00 655.60,1020.00 C658.20,1041.00 660.75,1050.33 663.40,1062.00 C666.05,1073.67 668.90,1083.83 671.50,1090.00 C674.10,1096.17 675.92,1097.08 679.00,1099.00 C682.08,1100.92 672.00,1101.03 690.00,1101.50 C708.00,1101.97 770.83,1101.75 787.00,1101.80" stroke="#707070" stroke-width="2.3"/>
</g>
<clipPath id="clipD"><rect x="948.60" y="670.00" width="595.74" height="410.65"/></clipPath>
<g clip-path="url(#clipD)" fill="none" stroke-linejoin="round" stroke-linecap="round">
<line x1="947.60" y1="1046.80" x2="1541.34" y2="1046.80" stroke="#aaa" stroke-width="1.3"/>
<path d="M948.60,1046.80 L949.60,1046.80 L950.60,1046.80 L951.60,1046.80 L952.60,1046.80 L953.60,1046.80 L954.60,1046.80 L955.60,1046.80 L956.60,1046.80 L957.60,1046.80 L958.60,1046.80 L959.60,1046.80 L960.60,1046.80 L961.60,1046.80 L962.60,1046.80 L963.60,1046.80 L964.60,1046.80 L965.60,1046.80 L966.60,1046.80 L967.60,1046.80 L968.60,1046.80 L969.60,1046.80 L970.60,1046.80 L971.60,1046.80 L972.60,1046.80 L973.60,1046.80 L974.60,1046.80 L975.60,1046.80 L976.60,1046.80 L977.60,1046.80 L978.60,1046.80 L979.60,1046.80 L980.60,1046.80 L981.60,1046.80 L982.60,1046.80 L983.60,1046.80 L984.60,1046.80 L985.60,1046.80 L986.60,1046.80 L987.60,1046.80 L988.60,1046.80 L989.60,1046.80 L990.60,1046.80 L991.60,1046.80 L992.60,1046.80 L993.60,1046.80 L994.60,1046.80 L995.60,1046.80 L996.60,1046.80 L997.60,1046.80 L998.60,1046.80 L999.60,1046.80 L1000.60,1046.80 L1001.60,1046.80 L1002.60,1046.80 L1003.60,1046.80 L1004.60,1046.80 L1005.60,1046.80 L1006.60,1046.80 L1007.60,1046.80 L1008.60,1046.80 L1009.60,1046.80 L1010.60,1046.80 L1011.60,1046.80 L1012.60,1046.80 L1013.60,1046.80 L1014.60,1046.80 L1015.60,1046.80 L1016.60,1046.80 L1017.60,1046.80 L1018.60,1046.80 L1019.60,1046.80 L1020.60,1046.80 L1021.60,1046.80 L1022.60,1046.80 L1023.60,1046.80 L1024.60,1046.80 L1025.60,1046.80 L1026.60,1046.80 L1027.60,1046.80 L1028.60,1046.80 L1029.60,1046.80 L1030.60,1046.80 L1031.60,1046.80 L1032.60,1046.80 L1033.60,1046.80 L1034.60,1046.80 L1035.60,1046.80 L1036.60,1046.80 L1037.60,1046.80 L1038.60,1046.80 L1039.60,1046.80 L1040.60,1046.80 L1041.60,1046.80 L1042.60,1046.80 L1043.60,1046.80 L1044.60,1046.80 L1045.60,1046.80 L1046.60,1046.80 L1047.60,1046.80 L1048.60,1046.80 L1049.60,1046.80 L1050.60,1046.80 L1051.60,1046.80 L1052.60,1046.80 L1053.60,1046.80 L1054.60,1046.80 L1055.60,1046.80 L1056.60,1046.80 L1057.60,1046.80 L1058.60,1046.80 L1059.60,1046.80 L1060.60,1046.80 L1061.60,1046.80 L1062.60,1046.80 L1063.60,1046.80 L1064.60,1046.80 L1065.60,1046.80 L1066.60,1046.80 L1067.60,1046.80 L1068.60,1046.80 L1069.60,1046.80 L1070.60,1046.80 L1071.60,1046.80 L1072.60,1046.80 L1073.60,1046.80 L1074.60,1046.80 L1075.60,1046.80 L1076.60,1046.80 L1077.60,1046.80 L1078.60,1046.80 L1079.60,1046.80 L1080.60,1046.80 L1081.60,1046.80 L1082.60,1046.80 L1083.60,1046.80 L1084.60,1046.80 L1085.60,1046.80 L1086.60,1046.80 L1087.60,1046.80 L1088.60,1046.80 L1089.60,1046.80 L1090.60,1046.80 L1091.60,1046.79 L1092.60,1046.79 L1093.60,1046.79 L1094.60,1046.79 L1095.60,1046.79 L1096.60,1046.79 L1097.60,1046.79 L1098.60,1046.79 L1099.60,1046.79 L1100.60,1046.79 L1101.60,1046.79 L1102.60,1046.79 L1103.60,1046.79 L1104.60,1046.79 L1105.60,1046.78 L1106.60,1046.78 L1107.60,1046.78 L1108.60,1046.78 L1109.60,1046.78 L1110.60,1046.78 L1111.60,1046.77 L1112.60,1046.77 L1113.60,1046.77 L1114.60,1046.77 L1115.60,1046.77 L1116.60,1046.76 L1117.60,1046.76 L1118.60,1046.76 L1119.60,1046.75 L1120.60,1046.75 L1121.60,1046.75 L1122.60,1046.74 L1123.60,1046.74 L1124.60,1046.73 L1125.60,1046.73 L1126.60,1046.72 L1127.60,1046.72 L1128.60,1046.71 L1129.60,1046.70 L1130.60,1046.70 L1131.60,1046.69 L1132.60,1046.68 L1133.60,1046.67 L1134.60,1046.67 L1135.60,1046.66 L1136.60,1046.65 L1137.60,1046.64 L1138.60,1046.62 L1139.60,1046.61 L1140.60,1046.60 L1141.60,1046.59 L1142.60,1046.57 L1143.60,1046.56 L1144.60,1046.54 L1145.60,1046.52 L1146.60,1046.51 L1147.60,1046.49 L1148.60,1046.47 L1149.60,1046.44 L1150.60,1046.42 L1151.60,1046.40 L1152.60,1046.37 L1153.60,1046.34 L1154.60,1046.32 L1155.60,1046.29 L1156.60,1046.25 L1157.60,1046.22 L1158.60,1046.19 L1159.60,1046.15 L1160.60,1046.11 L1161.60,1046.07 L1162.60,1046.02 L1163.60,1045.98 L1164.60,1045.93 L1165.60,1045.88 L1166.60,1045.83 L1167.60,1045.77 L1168.60,1045.71 L1169.60,1045.65 L1170.60,1045.59 L1171.60,1045.52 L1172.60,1045.45 L1173.60,1045.37 L1174.60,1045.30 L1175.60,1045.21 L1176.60,1045.13 L1177.60,1045.04 L1178.60,1044.95 L1179.60,1044.85 L1180.60,1044.75 L1181.60,1044.64 L1182.60,1044.53 L1183.60,1044.41 L1184.60,1044.29 L1185.60,1044.16 L1186.60,1044.03 L1187.60,1043.90 L1188.60,1043.75 L1189.60,1043.60 L1190.60,1043.45 L1191.60,1043.29 L1192.60,1043.12 L1193.60,1042.95 L1194.60,1042.77 L1195.60,1042.58 L1196.60,1042.38 L1197.60,1042.18 L1198.60,1041.97 L1199.60,1041.75 L1200.60,1041.53 L1201.60,1041.30 L1202.60,1041.06 L1203.60,1040.81 L1204.60,1040.55 L1205.60,1040.28 L1206.60,1040.01 L1207.60,1039.72 L1208.60,1039.43 L1209.60,1039.13 L1210.60,1038.81 L1211.60,1038.49 L1212.60,1038.16 L1213.60,1037.82 L1214.60,1037.47 L1215.60,1037.10 L1216.60,1036.73 L1217.60,1036.35 L1218.60,1035.96 L1219.60,1035.55 L1220.60,1035.14 L1221.60,1034.71 L1222.60,1034.27 L1223.60,1033.83 L1224.60,1033.37 L1225.60,1032.90 L1226.60,1032.42 L1227.60,1031.93 L1228.60,1031.42 L1229.60,1030.91 L1230.60,1030.39 L1231.60,1029.85 L1232.60,1029.30 L1233.60,1028.74 L1234.60,1028.18 L1235.60,1027.60 L1236.60,1027.00 L1237.60,1026.40 L1238.60,1025.79 L1239.60,1025.17 L1240.60,1024.54 L1241.60,1023.90 L1242.60,1023.24 L1243.60,1022.58 L1244.60,1021.91 L1245.60,1021.23 L1246.60,1020.54 L1247.60,1019.84 L1248.60,1019.14 L1249.60,1018.42 L1250.60,1017.70 L1251.60,1016.97 L1252.60,1016.24 L1253.60,1015.50 L1254.60,1014.75 L1255.60,1013.99 L1256.60,1013.23 L1257.60,1012.47 L1258.60,1011.70 L1259.60,1010.93 L1260.60,1010.15 L1261.60,1009.37 L1262.60,1008.59 L1263.60,1007.81 L1264.60,1007.02 L1265.60,1006.23 L1266.60,1005.45 L1267.60,1004.66 L1268.60,1003.88 L1269.60,1003.09 L1270.60,1002.31 L1271.60,1001.53 L1272.60,1000.76 L1273.60,999.99 L1274.60,999.22 L1275.60,998.46 L1276.60,997.71 L1277.60,996.96 L1278.60,996.22 L1279.60,995.49 L1280.60,994.76 L1281.60,994.05 L1282.60,993.34 L1283.60,992.65 L1284.60,991.96 L1285.60,991.29 L1286.60,990.63 L1287.60,989.99 L1288.60,989.36 L1289.60,988.74 L1290.60,988.14 L1291.60,987.55 L1292.60,986.98 L1293.60,986.43 L1294.60,985.89 L1295.60,985.37 L1296.60,984.87 L1297.60,984.39 L1298.60,983.93 L1299.60,983.49 L1300.60,983.07 L1301.60,982.67 L1302.60,982.29 L1303.60,981.94 L1304.60,981.60 L1305.60,981.29 L1306.60,981.00 L1307.60,980.73 L1308.60,980.49 L1309.60,980.27 L1310.60,980.08 L1311.60,979.91 L1312.60,979.76 L1313.60,979.64 L1314.60,979.54 L1315.60,979.47 L1316.60,979.42 L1317.60,979.40 L1318.60,979.40 L1319.60,979.42 L1320.60,979.46 L1321.60,979.52 L1322.60,979.60 L1323.60,979.69 L1324.60,979.81 L1325.60,979.94 L1326.60,980.09 L1327.60,980.26 L1328.60,980.44 L1329.60,980.65 L1330.60,980.87 L1331.60,981.11 L1332.60,981.37 L1333.60,981.64 L1334.60,981.93 L1335.60,982.24 L1336.60,982.56 L1337.60,982.90 L1338.60,983.26 L1339.60,983.63 L1340.60,984.02 L1341.60,984.42 L1342.60,984.83 L1343.60,985.26 L1344.60,985.71 L1345.60,986.17 L1346.60,986.64 L1347.60,987.12 L1348.60,987.62 L1349.60,988.13 L1350.60,988.65 L1351.60,989.18 L1352.60,989.72 L1353.60,990.28 L1354.60,990.84 L1355.60,991.42 L1356.60,992.00 L1357.60,992.59 L1358.60,993.19 L1359.60,993.80 L1360.60,994.42 L1361.60,995.04 L1362.60,995.67 L1363.60,996.31 L1364.60,996.95 L1365.60,997.60 L1366.60,998.25 L1367.60,998.91 L1368.60,999.57 L1369.60,1000.24 L1370.60,1000.90 L1371.60,1001.58 L1372.60,1002.25 L1373.60,1002.93 L1374.60,1003.61 L1375.60,1004.29 L1376.60,1004.97 L1377.60,1005.65 L1378.60,1006.33 L1379.60,1007.01 L1380.60,1007.69 L1381.60,1008.37 L1382.60,1009.05 L1383.60,1009.72 L1384.60,1010.40 L1385.60,1011.07 L1386.60,1011.74 L1387.60,1012.41 L1388.60,1013.07 L1389.60,1013.73 L1390.60,1014.39 L1391.60,1015.04 L1392.60,1015.68 L1393.60,1016.33 L1394.60,1016.96 L1395.60,1017.60 L1396.60,1018.22 L1397.60,1018.84 L1398.60,1019.46 L1399.60,1020.07 L1400.60,1020.67 L1401.60,1021.27 L1402.60,1021.86 L1403.60,1022.44 L1404.60,1023.02 L1405.60,1023.58 L1406.60,1024.15 L1407.60,1024.70 L1408.60,1025.25 L1409.60,1025.78 L1410.60,1026.31 L1411.60,1026.84 L1412.60,1027.35 L1413.60,1027.86 L1414.60,1028.36 L1415.60,1028.85 L1416.60,1029.33 L1417.60,1029.81 L1418.60,1030.27 L1419.60,1030.73 L1420.60,1031.18 L1421.60,1031.62 L1422.60,1032.05 L1423.60,1032.48 L1424.60,1032.89 L1425.60,1033.30 L1426.60,1033.70 L1427.60,1034.09 L1428.60,1034.47 L1429.60,1034.85 L1430.60,1035.22 L1431.60,1035.57 L1432.60,1035.92 L1433.60,1036.27 L1434.60,1036.60 L1435.60,1036.93 L1436.60,1037.25 L1437.60,1037.56 L1438.60,1037.86 L1439.60,1038.16 L1440.60,1038.44 L1441.60,1038.72 L1442.60,1039.00 L1443.60,1039.26 L1444.60,1039.52 L1445.60,1039.78 L1446.60,1040.02 L1447.60,1040.26 L1448.60,1040.49 L1449.60,1040.72 L1450.60,1040.94 L1451.60,1041.15 L1452.60,1041.36 L1453.60,1041.56 L1454.60,1041.75 L1455.60,1041.94 L1456.60,1042.12 L1457.60,1042.30 L1458.60,1042.47 L1459.60,1042.64 L1460.60,1042.80 L1461.60,1042.96 L1462.60,1043.11 L1463.60,1043.25 L1464.60,1043.39 L1465.60,1043.53 L1466.60,1043.66 L1467.60,1043.79 L1468.60,1043.91 L1469.60,1044.03 L1470.60,1044.15 L1471.60,1044.26 L1472.60,1044.36 L1473.60,1044.47 L1474.60,1044.56 L1475.60,1044.66 L1476.60,1044.75 L1477.60,1044.84 L1478.60,1044.93 L1479.60,1045.01 L1480.60,1045.09 L1481.60,1045.16 L1482.60,1045.24 L1483.60,1045.31 L1484.60,1045.37 L1485.60,1045.44 L1486.60,1045.50 L1487.60,1045.56 L1488.60,1045.62 L1489.60,1045.67 L1490.60,1045.72 L1491.60,1045.77 L1492.60,1045.82 L1493.60,1045.87 L1494.60,1045.91 L1495.60,1045.96 L1496.60,1046.00 L1497.60,1046.04 L1498.60,1046.07 L1499.60,1046.11 L1500.60,1046.14 L1501.60,1046.18 L1502.60,1046.21 L1503.60,1046.24 L1504.60,1046.26 L1505.60,1046.29 L1506.60,1046.32 L1507.60,1046.34 L1508.60,1046.37 L1509.60,1046.39 L1510.60,1046.41 L1511.60,1046.43 L1512.60,1046.45 L1513.60,1046.47 L1514.60,1046.49 L1515.60,1046.50 L1516.60,1046.52 L1517.60,1046.53 L1518.60,1046.55 L1519.60,1046.56 L1520.60,1046.57 L1521.60,1046.59 L1522.60,1046.60 L1523.60,1046.61 L1524.60,1046.62 L1525.60,1046.63 L1526.60,1046.64 L1527.60,1046.65 L1528.60,1046.66 L1529.60,1046.67 L1530.60,1046.67 L1531.60,1046.68 L1532.60,1046.69 L1533.60,1046.69 L1534.60,1046.70 L1535.60,1046.71 L1536.60,1046.71 L1537.60,1046.72 L1538.60,1046.72 L1539.60,1046.73 L1540.60,1046.73" stroke="#858585" stroke-width="1.0"/>
<path d="M948.60,1046.80 L949.60,1046.80 L950.60,1046.80 L951.60,1046.80 L952.60,1046.80 L953.60,1046.80 L954.60,1046.80 L955.60,1046.80 L956.60,1046.80 L957.60,1046.80 L958.60,1046.80 L959.60,1046.80 L960.60,1046.80 L961.60,1046.80 L962.60,1046.80 L963.60,1046.80 L964.60,1046.80 L965.60,1046.80 L966.60,1046.80 L967.60,1046.80 L968.60,1046.80 L969.60,1046.80 L970.60,1046.80 L971.60,1046.80 L972.60,1046.80 L973.60,1046.80 L974.60,1046.80 L975.60,1046.80 L976.60,1046.80 L977.60,1046.80 L978.60,1046.80 L979.60,1046.80 L980.60,1046.80 L981.60,1046.80 L982.60,1046.80 L983.60,1046.80 L984.60,1046.80 L985.60,1046.80 L986.60,1046.80 L987.60,1046.80 L988.60,1046.80 L989.60,1046.80 L990.60,1046.80 L991.60,1046.80 L992.60,1046.80 L993.60,1046.80 L994.60,1046.80 L995.60,1046.80 L996.60,1046.80 L997.60,1046.80 L998.60,1046.80 L999.60,1046.80 L1000.60,1046.80 L1001.60,1046.80 L1002.60,1046.80 L1003.60,1046.80 L1004.60,1046.80 L1005.60,1046.80 L1006.60,1046.80 L1007.60,1046.80 L1008.60,1046.80 L1009.60,1046.80 L1010.60,1046.80 L1011.60,1046.80 L1012.60,1046.80 L1013.60,1046.80 L1014.60,1046.80 L1015.60,1046.80 L1016.60,1046.80 L1017.60,1046.80 L1018.60,1046.80 L1019.60,1046.80 L1020.60,1046.80 L1021.60,1046.80 L1022.60,1046.80 L1023.60,1046.80 L1024.60,1046.80 L1025.60,1046.80 L1026.60,1046.80 L1027.60,1046.80 L1028.60,1046.80 L1029.60,1046.80 L1030.60,1046.80 L1031.60,1046.80 L1032.60,1046.80 L1033.60,1046.80 L1034.60,1046.80 L1035.60,1046.80 L1036.60,1046.80 L1037.60,1046.80 L1038.60,1046.80 L1039.60,1046.80 L1040.60,1046.80 L1041.60,1046.80 L1042.60,1046.80 L1043.60,1046.80 L1044.60,1046.80 L1045.60,1046.80 L1046.60,1046.80 L1047.60,1046.80 L1048.60,1046.80 L1049.60,1046.80 L1050.60,1046.80 L1051.60,1046.80 L1052.60,1046.80 L1053.60,1046.80 L1054.60,1046.80 L1055.60,1046.80 L1056.60,1046.80 L1057.60,1046.80 L1058.60,1046.80 L1059.60,1046.80 L1060.60,1046.80 L1061.60,1046.80 L1062.60,1046.80 L1063.60,1046.80 L1064.60,1046.80 L1065.60,1046.80 L1066.60,1046.80 L1067.60,1046.80 L1068.60,1046.80 L1069.60,1046.80 L1070.60,1046.80 L1071.60,1046.80 L1072.60,1046.80 L1073.60,1046.80 L1074.60,1046.80 L1075.60,1046.80 L1076.60,1046.80 L1077.60,1046.80 L1078.60,1046.80 L1079.60,1046.80 L1080.60,1046.80 L1081.60,1046.80 L1082.60,1046.80 L1083.60,1046.80 L1084.60,1046.80 L1085.60,1046.80 L1086.60,1046.80 L1087.60,1046.80 L1088.60,1046.80 L1089.60,1046.80 L1090.60,1046.80 L1091.60,1046.80 L1092.60,1046.80 L1093.60,1046.80 L1094.60,1046.80 L1095.60,1046.80 L1096.60,1046.80 L1097.60,1046.80 L1098.60,1046.80 L1099.60,1046.80 L1100.60,1046.80 L1101.60,1046.80 L1102.60,1046.80 L1103.60,1046.80 L1104.60,1046.80 L1105.60,1046.80 L1106.60,1046.80 L1107.60,1046.80 L1108.60,1046.80 L1109.60,1046.80 L1110.60,1046.80 L1111.60,1046.80 L1112.60,1046.80 L1113.60,1046.80 L1114.60,1046.80 L1115.60,1046.80 L1116.60,1046.80 L1117.60,1046.80 L1118.60,1046.80 L1119.60,1046.80 L1120.60,1046.80 L1121.60,1046.80 L1122.60,1046.80 L1123.60,1046.80 L1124.60,1046.80 L1125.60,1046.80 L1126.60,1046.80 L1127.60,1046.80 L1128.60,1046.80 L1129.60,1046.80 L1130.60,1046.80 L1131.60,1046.80 L1132.60,1046.80 L1133.60,1046.80 L1134.60,1046.80 L1135.60,1046.80 L1136.60,1046.80 L1137.60,1046.80 L1138.60,1046.80 L1139.60,1046.80 L1140.60,1046.80 L1141.60,1046.80 L1142.60,1046.80 L1143.60,1046.80 L1144.60,1046.80 L1145.60,1046.80 L1146.60,1046.80 L1147.60,1046.80 L1148.60,1046.80 L1149.60,1046.80 L1150.60,1046.80 L1151.60,1046.80 L1152.60,1046.80 L1153.60,1046.80 L1154.60,1046.80 L1155.60,1046.80 L1156.60,1046.80 L1157.60,1046.80 L1158.60,1046.80 L1159.60,1046.80 L1160.60,1046.80 L1161.60,1046.80 L1162.60,1046.80 L1163.60,1046.80 L1164.60,1046.80 L1165.60,1046.80 L1166.60,1046.80 L1167.60,1046.80 L1168.60,1046.80 L1169.60,1046.80 L1170.60,1046.80 L1171.60,1046.80 L1172.60,1046.80 L1173.60,1046.80 L1174.60,1046.80 L1175.60,1046.80 L1176.60,1046.80 L1177.60,1046.80 L1178.60,1046.80 L1179.60,1046.80 L1180.60,1046.80 L1181.60,1046.80 L1182.60,1046.80 L1183.60,1046.80 L1184.60,1046.80 L1185.60,1046.80 L1186.60,1046.80 L1187.60,1046.80 L1188.60,1046.80 L1189.60,1046.80 L1190.60,1046.80 L1191.60,1046.80 L1192.60,1046.80 L1193.60,1046.80 L1194.60,1046.80 L1195.60,1046.80 L1196.60,1046.80 L1197.60,1046.80 L1198.60,1046.80 L1199.60,1046.80 L1200.60,1046.80 L1201.60,1046.80 L1202.60,1046.80 L1203.60,1046.80 L1204.60,1046.80 L1205.60,1046.80 L1206.60,1046.80 L1207.60,1046.80 L1208.60,1046.80 L1209.60,1046.80 L1210.60,1046.80 L1211.60,1046.80 L1212.60,1046.80 L1213.60,1046.80 L1214.60,1046.80 L1215.60,1046.80 L1216.60,1046.80 L1217.60,1046.80 L1218.60,1046.80 L1219.60,1046.80 L1220.60,1046.80 L1221.60,1046.80 L1222.60,1046.80 L1223.60,1046.80 L1224.60,1046.80 L1225.60,1046.80 L1226.60,1046.80 L1227.60,1046.80 L1228.60,1046.80 L1229.60,1046.80 L1230.60,1046.80 L1231.60,1046.80 L1232.60,1046.80 L1233.60,1046.80 L1234.60,1046.80 L1235.60,1046.80 L1236.60,1046.80 L1237.60,1046.80 L1238.60,1046.80 L1239.60,1046.80 L1240.60,1046.80 L1241.60,1046.80 L1242.60,1046.80 L1243.60,1046.80 L1244.60,1046.80 L1245.60,1046.80 L1246.60,1046.80 L1247.60,1046.80 L1248.60,1046.80 L1249.60,1046.80 L1250.60,1046.80 L1251.60,1046.80 L1252.60,1046.80 L1253.60,1046.79 L1254.60,1046.79 L1255.60,1046.79 L1256.60,1046.79 L1257.60,1046.79 L1258.60,1046.79 L1259.60,1046.79 L1260.60,1046.79 L1261.60,1046.78 L1262.60,1046.78 L1263.60,1046.78 L1264.60,1046.77 L1265.60,1046.77 L1266.60,1046.76 L1267.60,1046.76 L1268.60,1046.75 L1269.60,1046.75 L1270.60,1046.74 L1271.60,1046.73 L1272.60,1046.72 L1273.60,1046.71 L1274.60,1046.69 L1275.60,1046.68 L1276.60,1046.66 L1277.60,1046.64 L1278.60,1046.62 L1279.60,1046.59 L1280.60,1046.56 L1281.60,1046.53 L1282.60,1046.50 L1283.60,1046.46 L1284.60,1046.42 L1285.60,1046.37 L1286.60,1046.31 L1287.60,1046.25 L1288.60,1046.18 L1289.60,1046.11 L1290.60,1046.02 L1291.60,1045.93 L1292.60,1045.83 L1293.60,1045.71 L1294.60,1045.59 L1295.60,1045.45 L1296.60,1045.30 L1297.60,1045.13 L1298.60,1044.95 L1299.60,1044.74 L1300.60,1044.52 L1301.60,1044.28 L1302.60,1044.02 L1303.60,1043.73 L1304.60,1043.42 L1305.60,1043.08 L1306.60,1042.72 L1307.60,1042.32 L1308.60,1041.88 L1309.60,1041.42 L1310.60,1040.91 L1311.60,1040.37 L1312.60,1039.79 L1313.60,1039.16 L1314.60,1038.48 L1315.60,1037.76 L1316.60,1036.99 L1317.60,1036.16 L1318.60,1035.28 L1319.60,1034.34 L1320.60,1033.34 L1321.60,1032.27 L1322.60,1031.15 L1323.60,1029.95 L1324.60,1028.69 L1325.60,1027.36 L1326.60,1025.95 L1327.60,1024.47 L1328.60,1022.92 L1329.60,1021.28 L1330.60,1019.57 L1331.60,1017.78 L1332.60,1015.91 L1333.60,1013.97 L1334.60,1011.94 L1335.60,1009.83 L1336.60,1007.64 L1337.60,1005.37 L1338.60,1003.03 L1339.60,1000.61 L1340.60,998.12 L1341.60,995.55 L1342.60,992.92 L1343.60,990.22 L1344.60,987.46 L1345.60,984.64 L1346.60,981.77 L1347.60,978.85 L1348.60,975.88 L1349.60,972.88 L1350.60,969.84 L1351.60,966.78 L1352.60,963.69 L1353.60,960.60 L1354.60,957.50 L1355.60,954.40 L1356.60,951.31 L1357.60,948.24 L1358.60,945.20 L1359.60,942.19 L1360.60,939.23 L1361.60,936.31 L1362.60,933.46 L1363.60,930.68 L1364.60,927.98 L1365.60,925.36 L1366.60,922.84 L1367.60,920.42 L1368.60,918.11 L1369.60,915.92 L1370.60,913.86 L1371.60,911.93 L1372.60,910.14 L1373.60,908.50 L1374.60,907.01 L1375.60,905.68 L1376.60,904.51 L1377.60,903.51 L1378.60,902.67 L1379.60,902.02 L1380.60,901.53 L1381.60,901.23 L1382.60,901.10 L1383.60,901.15 L1384.60,901.36 L1385.60,901.73 L1386.60,902.26 L1387.60,902.95 L1388.60,903.80 L1389.60,904.80 L1390.60,905.94 L1391.60,907.24 L1392.60,908.67 L1393.60,910.24 L1394.60,911.95 L1395.60,913.78 L1396.60,915.73 L1397.60,917.79 L1398.60,919.97 L1399.60,922.24 L1400.60,924.62 L1401.60,927.08 L1402.60,929.62 L1403.60,932.23 L1404.60,934.91 L1405.60,937.65 L1406.60,940.44 L1407.60,943.27 L1408.60,946.14 L1409.60,949.04 L1410.60,951.96 L1411.60,954.90 L1412.60,957.84 L1413.60,960.78 L1414.60,963.72 L1415.60,966.65 L1416.60,969.56 L1417.60,972.45 L1418.60,975.31 L1419.60,978.14 L1420.60,980.93 L1421.60,983.67 L1422.60,986.37 L1423.60,989.01 L1424.60,991.61 L1425.60,994.14 L1426.60,996.61 L1427.60,999.02 L1428.60,1001.37 L1429.60,1003.65 L1430.60,1005.86 L1431.60,1008.00 L1432.60,1010.06 L1433.60,1012.06 L1434.60,1013.99 L1435.60,1015.84 L1436.60,1017.62 L1437.60,1019.33 L1438.60,1020.96 L1439.60,1022.53 L1440.60,1024.03 L1441.60,1025.46 L1442.60,1026.82 L1443.60,1028.11 L1444.60,1029.34 L1445.60,1030.51 L1446.60,1031.62 L1447.60,1032.66 L1448.60,1033.65 L1449.60,1034.59 L1450.60,1035.47 L1451.60,1036.29 L1452.60,1037.07 L1453.60,1037.80 L1454.60,1038.49 L1455.60,1039.13 L1456.60,1039.73 L1457.60,1040.29 L1458.60,1040.81 L1459.60,1041.30 L1460.60,1041.75 L1461.60,1042.17 L1462.60,1042.56 L1463.60,1042.93 L1464.60,1043.26 L1465.60,1043.57 L1466.60,1043.85 L1467.60,1044.12 L1468.60,1044.36 L1469.60,1044.58 L1470.60,1044.79 L1471.60,1044.98 L1472.60,1045.15 L1473.60,1045.31 L1474.60,1045.45 L1475.60,1045.58 L1476.60,1045.70 L1477.60,1045.81 L1478.60,1045.91 L1479.60,1046.00 L1480.60,1046.08 L1481.60,1046.16 L1482.60,1046.22 L1483.60,1046.28 L1484.60,1046.34 L1485.60,1046.39 L1486.60,1046.43 L1487.60,1046.47 L1488.60,1046.51 L1489.60,1046.54 L1490.60,1046.57 L1491.60,1046.60 L1492.60,1046.62 L1493.60,1046.64 L1494.60,1046.66 L1495.60,1046.68 L1496.60,1046.69 L1497.60,1046.70 L1498.60,1046.72 L1499.60,1046.73 L1500.60,1046.73 L1501.60,1046.74 L1502.60,1046.75 L1503.60,1046.76 L1504.60,1046.76 L1505.60,1046.77 L1506.60,1046.77 L1507.60,1046.77 L1508.60,1046.78 L1509.60,1046.78 L1510.60,1046.78 L1511.60,1046.79 L1512.60,1046.79 L1513.60,1046.79 L1514.60,1046.79 L1515.60,1046.79 L1516.60,1046.79 L1517.60,1046.79 L1518.60,1046.79 L1519.60,1046.80 L1520.60,1046.80 L1521.60,1046.80 L1522.60,1046.80 L1523.60,1046.80 L1524.60,1046.80 L1525.60,1046.80 L1526.60,1046.80 L1527.60,1046.80 L1528.60,1046.80 L1529.60,1046.80 L1530.60,1046.80 L1531.60,1046.80 L1532.60,1046.80 L1533.60,1046.80 L1534.60,1046.80 L1535.60,1046.80 L1536.60,1046.80 L1537.60,1046.80 L1538.60,1046.80 L1539.60,1046.80 L1540.60,1046.80" stroke="#858585" stroke-width="1.0"/>
<path d="M948.60,1046.80 L949.60,1046.80 L950.60,1046.80 L951.60,1046.80 L952.60,1046.80 L953.60,1046.80 L954.60,1046.80 L955.60,1046.80 L956.60,1046.80 L957.60,1046.80 L958.60,1046.80 L959.60,1046.80 L960.60,1046.80 L961.60,1046.80 L962.60,1046.80 L963.60,1046.80 L964.60,1046.80 L965.60,1046.80 L966.60,1046.80 L967.60,1046.80 L968.60,1046.80 L969.60,1046.80 L970.60,1046.80 L971.60,1046.80 L972.60,1046.80 L973.60,1046.80 L974.60,1046.80 L975.60,1046.80 L976.60,1046.80 L977.60,1046.80 L978.60,1046.80 L979.60,1046.80 L980.60,1046.80 L981.60,1046.80 L982.60,1046.80 L983.60,1046.80 L984.60,1046.80 L985.60,1046.80 L986.60,1046.80 L987.60,1046.80 L988.60,1046.80 L989.60,1046.80 L990.60,1046.80 L991.60,1046.80 L992.60,1046.80 L993.60,1046.80 L994.60,1046.80 L995.60,1046.80 L996.60,1046.80 L997.60,1046.80 L998.60,1046.80 L999.60,1046.80 L1000.60,1046.80 L1001.60,1046.80 L1002.60,1046.80 L1003.60,1046.80 L1004.60,1046.80 L1005.60,1046.80 L1006.60,1046.80 L1007.60,1046.80 L1008.60,1046.80 L1009.60,1046.80 L1010.60,1046.80 L1011.60,1046.80 L1012.60,1046.80 L1013.60,1046.80 L1014.60,1046.80 L1015.60,1046.80 L1016.60,1046.80 L1017.60,1046.80 L1018.60,1046.80 L1019.60,1046.80 L1020.60,1046.80 L1021.60,1046.80 L1022.60,1046.80 L1023.60,1046.80 L1024.60,1046.80 L1025.60,1046.80 L1026.60,1046.80 L1027.60,1046.80 L1028.60,1046.80 L1029.60,1046.80 L1030.60,1046.80 L1031.60,1046.80 L1032.60,1046.80 L1033.60,1046.80 L1034.60,1046.80 L1035.60,1046.80 L1036.60,1046.80 L1037.60,1046.80 L1038.60,1046.80 L1039.60,1046.80 L1040.60,1046.80 L1041.60,1046.80 L1042.60,1046.80 L1043.60,1046.80 L1044.60,1046.80 L1045.60,1046.80 L1046.60,1046.80 L1047.60,1046.80 L1048.60,1046.80 L1049.60,1046.80 L1050.60,1046.80 L1051.60,1046.80 L1052.60,1046.80 L1053.60,1046.80 L1054.60,1046.80 L1055.60,1046.80 L1056.60,1046.80 L1057.60,1046.80 L1058.60,1046.80 L1059.60,1046.80 L1060.60,1046.80 L1061.60,1046.80 L1062.60,1046.80 L1063.60,1046.80 L1064.60,1046.80 L1065.60,1046.80 L1066.60,1046.80 L1067.60,1046.80 L1068.60,1046.80 L1069.60,1046.80 L1070.60,1046.80 L1071.60,1046.80 L1072.60,1046.80 L1073.60,1046.80 L1074.60,1046.80 L1075.60,1046.80 L1076.60,1046.80 L1077.60,1046.80 L1078.60,1046.80 L1079.60,1046.80 L1080.60,1046.80 L1081.60,1046.80 L1082.60,1046.80 L1083.60,1046.80 L1084.60,1046.80 L1085.60,1046.80 L1086.60,1046.80 L1087.60,1046.80 L1088.60,1046.80 L1089.60,1046.80 L1090.60,1046.80 L1091.60,1046.80 L1092.60,1046.80 L1093.60,1046.80 L1094.60,1046.80 L1095.60,1046.80 L1096.60,1046.80 L1097.60,1046.80 L1098.60,1046.80 L1099.60,1046.80 L1100.60,1046.80 L1101.60,1046.80 L1102.60,1046.80 L1103.60,1046.80 L1104.60,1046.80 L1105.60,1046.80 L1106.60,1046.80 L1107.60,1046.80 L1108.60,1046.80 L1109.60,1046.80 L1110.60,1046.80 L1111.60,1046.80 L1112.60,1046.80 L1113.60,1046.80 L1114.60,1046.80 L1115.60,1046.80 L1116.60,1046.80 L1117.60,1046.80 L1118.60,1046.80 L1119.60,1046.80 L1120.60,1046.80 L1121.60,1046.80 L1122.60,1046.80 L1123.60,1046.80 L1124.60,1046.80 L1125.60,1046.80 L1126.60,1046.80 L1127.60,1046.80 L1128.60,1046.80 L1129.60,1046.80 L1130.60,1046.80 L1131.60,1046.80 L1132.60,1046.80 L1133.60,1046.80 L1134.60,1046.80 L1135.60,1046.80 L1136.60,1046.80 L1137.60,1046.80 L1138.60,1046.80 L1139.60,1046.80 L1140.60,1046.80 L1141.60,1046.80 L1142.60,1046.80 L1143.60,1046.80 L1144.60,1046.80 L1145.60,1046.80 L1146.60,1046.80 L1147.60,1046.80 L1148.60,1046.80 L1149.60,1046.80 L1150.60,1046.80 L1151.60,1046.80 L1152.60,1046.80 L1153.60,1046.80 L1154.60,1046.80 L1155.60,1046.80 L1156.60,1046.80 L1157.60,1046.80 L1158.60,1046.80 L1159.60,1046.80 L1160.60,1046.80 L1161.60,1046.80 L1162.60,1046.80 L1163.60,1046.80 L1164.60,1046.80 L1165.60,1046.80 L1166.60,1046.80 L1167.60,1046.80 L1168.60,1046.80 L1169.60,1046.80 L1170.60,1046.80 L1171.60,1046.80 L1172.60,1046.80 L1173.60,1046.80 L1174.60,1046.80 L1175.60,1046.80 L1176.60,1046.80 L1177.60,1046.80 L1178.60,1046.80 L1179.60,1046.80 L1180.60,1046.80 L1181.60,1046.80 L1182.60,1046.80 L1183.60,1046.80 L1184.60,1046.80 L1185.60,1046.80 L1186.60,1046.80 L1187.60,1046.80 L1188.60,1046.80 L1189.60,1046.80 L1190.60,1046.80 L1191.60,1046.80 L1192.60,1046.80 L1193.60,1046.80 L1194.60,1046.80 L1195.60,1046.80 L1196.60,1046.80 L1197.60,1046.80 L1198.60,1046.80 L1199.60,1046.80 L1200.60,1046.80 L1201.60,1046.80 L1202.60,1046.80 L1203.60,1046.80 L1204.60,1046.80 L1205.60,1046.80 L1206.60,1046.80 L1207.60,1046.80 L1208.60,1046.80 L1209.60,1046.80 L1210.60,1046.80 L1211.60,1046.80 L1212.60,1046.80 L1213.60,1046.80 L1214.60,1046.80 L1215.60,1046.80 L1216.60,1046.80 L1217.60,1046.80 L1218.60,1046.80 L1219.60,1046.80 L1220.60,1046.80 L1221.60,1046.80 L1222.60,1046.80 L1223.60,1046.80 L1224.60,1046.80 L1225.60,1046.80 L1226.60,1046.80 L1227.60,1046.80 L1228.60,1046.80 L1229.60,1046.80 L1230.60,1046.80 L1231.60,1046.80 L1232.60,1046.80 L1233.60,1046.80 L1234.60,1046.80 L1235.60,1046.80 L1236.60,1046.80 L1237.60,1046.80 L1238.60,1046.80 L1239.60,1046.80 L1240.60,1046.80 L1241.60,1046.80 L1242.60,1046.80 L1243.60,1046.80 L1244.60,1046.80 L1245.60,1046.80 L1246.60,1046.80 L1247.60,1046.80 L1248.60,1046.80 L1249.60,1046.80 L1250.60,1046.80 L1251.60,1046.80 L1252.60,1046.80 L1253.60,1046.80 L1254.60,1046.80 L1255.60,1046.80 L1256.60,1046.80 L1257.60,1046.80 L1258.60,1046.80 L1259.60,1046.80 L1260.60,1046.80 L1261.60,1046.80 L1262.60,1046.80 L1263.60,1046.80 L1264.60,1046.80 L1265.60,1046.80 L1266.60,1046.80 L1267.60,1046.80 L1268.60,1046.80 L1269.60,1046.80 L1270.60,1046.80 L1271.60,1046.80 L1272.60,1046.80 L1273.60,1046.80 L1274.60,1046.80 L1275.60,1046.80 L1276.60,1046.80 L1277.60,1046.80 L1278.60,1046.80 L1279.60,1046.80 L1280.60,1046.80 L1281.60,1046.80 L1282.60,1046.80 L1283.60,1046.80 L1284.60,1046.80 L1285.60,1046.80 L1286.60,1046.80 L1287.60,1046.80 L1288.60,1046.80 L1289.60,1046.80 L1290.60,1046.80 L1291.60,1046.80 L1292.60,1046.80 L1293.60,1046.80 L1294.60,1046.80 L1295.60,1046.80 L1296.60,1046.80 L1297.60,1046.80 L1298.60,1046.80 L1299.60,1046.80 L1300.60,1046.80 L1301.60,1046.80 L1302.60,1046.80 L1303.60,1046.80 L1304.60,1046.80 L1305.60,1046.80 L1306.60,1046.80 L1307.60,1046.80 L1308.60,1046.80 L1309.60,1046.80 L1310.60,1046.80 L1311.60,1046.80 L1312.60,1046.80 L1313.60,1046.80 L1314.60,1046.80 L1315.60,1046.80 L1316.60,1046.80 L1317.60,1046.80 L1318.60,1046.80 L1319.60,1046.80 L1320.60,1046.80 L1321.60,1046.80 L1322.60,1046.80 L1323.60,1046.80 L1324.60,1046.79 L1325.60,1046.79 L1326.60,1046.79 L1327.60,1046.79 L1328.60,1046.79 L1329.60,1046.78 L1330.60,1046.78 L1331.60,1046.78 L1332.60,1046.77 L1333.60,1046.76 L1334.60,1046.75 L1335.60,1046.75 L1336.60,1046.73 L1337.60,1046.72 L1338.60,1046.70 L1339.60,1046.68 L1340.60,1046.66 L1341.60,1046.63 L1342.60,1046.60 L1343.60,1046.56 L1344.60,1046.52 L1345.60,1046.47 L1346.60,1046.40 L1347.60,1046.33 L1348.60,1046.25 L1349.60,1046.15 L1350.60,1046.04 L1351.60,1045.92 L1352.60,1045.77 L1353.60,1045.60 L1354.60,1045.41 L1355.60,1045.19 L1356.60,1044.94 L1357.60,1044.66 L1358.60,1044.33 L1359.60,1043.97 L1360.60,1043.56 L1361.60,1043.11 L1362.60,1042.59 L1363.60,1042.02 L1364.60,1041.39 L1365.60,1040.68 L1366.60,1039.90 L1367.60,1039.03 L1368.60,1038.08 L1369.60,1037.03 L1370.60,1035.89 L1371.60,1034.64 L1372.60,1033.27 L1373.60,1031.79 L1374.60,1030.19 L1375.60,1028.47 L1376.60,1026.61 L1377.60,1024.61 L1378.60,1022.48 L1379.60,1020.20 L1380.60,1017.78 L1381.60,1015.21 L1382.60,1012.50 L1383.60,1009.65 L1384.60,1006.65 L1385.60,1003.52 L1386.60,1000.25 L1387.60,996.85 L1388.60,993.33 L1389.60,989.70 L1390.60,985.97 L1391.60,982.15 L1392.60,978.25 L1393.60,974.30 L1394.60,970.29 L1395.60,966.25 L1396.60,962.21 L1397.60,958.17 L1398.60,954.16 L1399.60,950.20 L1400.60,946.30 L1401.60,942.50 L1402.60,938.82 L1403.60,935.26 L1404.60,931.87 L1405.60,928.65 L1406.60,925.64 L1407.60,922.84 L1408.60,920.27 L1409.60,917.96 L1410.60,915.92 L1411.60,914.17 L1412.60,912.71 L1413.60,911.56 L1414.60,910.72 L1415.60,910.20 L1416.60,910.00 L1417.60,910.15 L1418.60,910.65 L1419.60,911.50 L1420.60,912.71 L1421.60,914.25 L1422.60,916.12 L1423.60,918.30 L1424.60,920.78 L1425.60,923.53 L1426.60,926.54 L1427.60,929.79 L1428.60,933.24 L1429.60,936.89 L1430.60,940.69 L1431.60,944.63 L1432.60,948.69 L1433.60,952.83 L1434.60,957.03 L1435.60,961.27 L1436.60,965.53 L1437.60,969.77 L1438.60,973.99 L1439.60,978.15 L1440.60,982.25 L1441.60,986.26 L1442.60,990.17 L1443.60,993.97 L1444.60,997.65 L1445.60,1001.18 L1446.60,1004.58 L1447.60,1007.82 L1448.60,1010.91 L1449.60,1013.84 L1450.60,1016.61 L1451.60,1019.22 L1452.60,1021.68 L1453.60,1023.97 L1454.60,1026.11 L1455.60,1028.10 L1456.60,1029.94 L1457.60,1031.64 L1458.60,1033.20 L1459.60,1034.64 L1460.60,1035.95 L1461.60,1037.14 L1462.60,1038.23 L1463.60,1039.21 L1464.60,1040.10 L1465.60,1040.90 L1466.60,1041.62 L1467.60,1042.27 L1468.60,1042.84 L1469.60,1043.35 L1470.60,1043.80 L1471.60,1044.20 L1472.60,1044.55 L1473.60,1044.86 L1474.60,1045.13 L1475.60,1045.37 L1476.60,1045.58 L1477.60,1045.76 L1478.60,1045.91 L1479.60,1046.05 L1480.60,1046.16 L1481.60,1046.26 L1482.60,1046.35 L1483.60,1046.42 L1484.60,1046.48 L1485.60,1046.53 L1486.60,1046.58 L1487.60,1046.62 L1488.60,1046.65 L1489.60,1046.67 L1490.60,1046.70 L1491.60,1046.71 L1492.60,1046.73 L1493.60,1046.74 L1494.60,1046.75 L1495.60,1046.76 L1496.60,1046.77 L1497.60,1046.77 L1498.60,1046.78 L1499.60,1046.78 L1500.60,1046.79 L1501.60,1046.79 L1502.60,1046.79 L1503.60,1046.79 L1504.60,1046.79 L1505.60,1046.80 L1506.60,1046.80 L1507.60,1046.80 L1508.60,1046.80 L1509.60,1046.80 L1510.60,1046.80 L1511.60,1046.80 L1512.60,1046.80 L1513.60,1046.80 L1514.60,1046.80 L1515.60,1046.80 L1516.60,1046.80 L1517.60,1046.80 L1518.60,1046.80 L1519.60,1046.80 L1520.60,1046.80 L1521.60,1046.80 L1522.60,1046.80 L1523.60,1046.80 L1524.60,1046.80 L1525.60,1046.80 L1526.60,1046.80 L1527.60,1046.80 L1528.60,1046.80 L1529.60,1046.80 L1530.60,1046.80 L1531.60,1046.80 L1532.60,1046.80 L1533.60,1046.80 L1534.60,1046.80 L1535.60,1046.80 L1536.60,1046.80 L1537.60,1046.80 L1538.60,1046.80 L1539.60,1046.80 L1540.60,1046.80" stroke="#858585" stroke-width="1.0"/>
<path d="M948.15,1037.05h7.1v7.1h-7.1z M951.70,1037.05v7.1 M948.15,1040.60h7.1M953.65,1062.55h7.1v7.1h-7.1z M957.20,1062.55v7.1 M953.65,1066.10h7.1M960.45,1062.55h7.1v7.1h-7.1z M964.00,1062.55v7.1 M960.45,1066.10h7.1M969.25,1048.95h7.1v7.1h-7.1z M972.80,1048.95v7.1 M969.25,1052.50h7.1M976.25,1037.05h7.1v7.1h-7.1z M979.80,1037.05v7.1 M976.25,1040.60h7.1M983.25,1050.35h7.1v7.1h-7.1z M986.80,1050.35v7.1 M983.25,1053.90h7.1M989.45,1050.35h7.1v7.1h-7.1z M993.00,1050.35v7.1 M989.45,1053.90h7.1M997.05,1037.05h7.1v7.1h-7.1z M1000.60,1037.05v7.1 M997.05,1040.60h7.1M1005.05,1050.15h7.1v7.1h-7.1z M1008.60,1050.15v7.1 M1005.05,1053.70h7.1M1011.85,1050.15h7.1v7.1h-7.1z M1015.40,1050.15v7.1 M1011.85,1053.70h7.1M1018.65,1050.15h7.1v7.1h-7.1z M1022.20,1050.15v7.1 M1018.65,1053.70h7.1M1025.45,1050.15h7.1v7.1h-7.1z M1029.00,1050.15v7.1 M1025.45,1053.70h7.1M1032.25,1050.15h7.1v7.1h-7.1z M1035.80,1050.15v7.1 M1032.25,1053.70h7.1M1039.05,1050.15h7.1v7.1h-7.1z M1042.60,1050.15v7.1 M1039.05,1053.70h7.1M1045.85,1050.15h7.1v7.1h-7.1z M1049.40,1050.15v7.1 M1045.85,1053.70h7.1M1052.65,1050.15h7.1v7.1h-7.1z M1056.20,1050.15v7.1 M1052.65,1053.70h7.1M1059.65,1037.05h7.1v7.1h-7.1z M1063.20,1037.05v7.1 M1059.65,1040.60h7.1M1066.65,1037.05h7.1v7.1h-7.1z M1070.20,1037.05v7.1 M1066.65,1040.60h7.1M1074.45,1049.65h7.1v7.1h-7.1z M1078.00,1049.65v7.1 M1074.45,1053.20h7.1M1081.45,1049.65h7.1v7.1h-7.1z M1085.00,1049.65v7.1 M1081.45,1053.20h7.1M1088.45,1049.65h7.1v7.1h-7.1z M1092.00,1049.65v7.1 M1088.45,1053.20h7.1M1095.45,1049.65h7.1v7.1h-7.1z M1099.00,1049.65v7.1 M1095.45,1053.20h7.1M1102.45,1049.65h7.1v7.1h-7.1z M1106.00,1049.65v7.1 M1102.45,1053.20h7.1M1109.45,1049.65h7.1v7.1h-7.1z M1113.00,1049.65v7.1 M1109.45,1053.20h7.1M1116.45,1049.65h7.1v7.1h-7.1z M1120.00,1049.65v7.1 M1116.45,1053.20h7.1M1123.45,1049.65h7.1v7.1h-7.1z M1127.00,1049.65v7.1 M1123.45,1053.20h7.1M1130.65,1035.85h7.1v7.1h-7.1z M1134.20,1035.85v7.1 M1130.65,1039.40h7.1M1137.95,1049.15h7.1v7.1h-7.1z M1141.50,1049.15v7.1 M1137.95,1052.70h7.1M1144.95,1049.15h7.1v7.1h-7.1z M1148.50,1049.15v7.1 M1144.95,1052.70h7.1M1151.95,1049.15h7.1v7.1h-7.1z M1155.50,1049.15v7.1 M1151.95,1052.70h7.1M1158.95,1049.15h7.1v7.1h-7.1z M1162.50,1049.15v7.1 M1158.95,1052.70h7.1M1165.95,1049.15h7.1v7.1h-7.1z M1169.50,1049.15v7.1 M1165.95,1052.70h7.1M1172.95,1049.15h7.1v7.1h-7.1z M1176.50,1049.15v7.1 M1172.95,1052.70h7.1M1179.95,1049.15h7.1v7.1h-7.1z M1183.50,1049.15v7.1 M1179.95,1052.70h7.1M1186.95,1049.15h7.1v7.1h-7.1z M1190.50,1049.15v7.1 M1186.95,1052.70h7.1M1193.85,1035.85h7.1v7.1h-7.1z M1197.40,1035.85v7.1 M1193.85,1039.40h7.1M1200.85,1049.15h7.1v7.1h-7.1z M1204.40,1049.15v7.1 M1200.85,1052.70h7.1M1208.05,1035.85h7.1v7.1h-7.1z M1211.60,1035.85v7.1 M1208.05,1039.40h7.1M1214.85,1049.15h7.1v7.1h-7.1z M1218.40,1049.15v7.1 M1214.85,1052.70h7.1M1221.75,1035.85h7.1v7.1h-7.1z M1225.30,1035.85v7.1 M1221.75,1039.40h7.1M1228.95,1035.85h7.1v7.1h-7.1z M1232.50,1035.85v7.1 M1228.95,1039.40h7.1M1235.95,1022.65h7.1v7.1h-7.1z M1239.50,1022.65v7.1 M1235.95,1026.20h7.1M1242.95,1022.65h7.1v7.1h-7.1z M1246.50,1022.65v7.1 M1242.95,1026.20h7.1M1249.95,1022.65h7.1v7.1h-7.1z M1253.50,1022.65v7.1 M1249.95,1026.20h7.1M1257.45,1009.55h7.1v7.1h-7.1z M1261.00,1009.55v7.1 M1257.45,1013.10h7.1M1264.45,1009.55h7.1v7.1h-7.1z M1268.00,1009.55v7.1 M1264.45,1013.10h7.1M1271.45,1009.55h7.1v7.1h-7.1z M1275.00,1009.55v7.1 M1271.45,1013.10h7.1M1278.45,1009.55h7.1v7.1h-7.1z M1282.00,1009.55v7.1 M1278.45,1013.10h7.1M1285.35,996.65h7.1v7.1h-7.1z M1288.90,996.65v7.1 M1285.35,1000.20h7.1M1292.25,983.05h7.1v7.1h-7.1z M1295.80,983.05v7.1 M1292.25,986.60h7.1M1298.65,982.85h7.1v7.1h-7.1z M1302.20,982.85v7.1 M1298.65,986.40h7.1M1305.05,982.85h7.1v7.1h-7.1z M1308.60,982.85v7.1 M1305.05,986.40h7.1M1313.35,970.05h7.1v7.1h-7.1z M1316.90,970.05v7.1 M1313.35,973.60h7.1M1320.05,956.95h7.1v7.1h-7.1z M1323.60,956.95v7.1 M1320.05,960.50h7.1M1326.75,956.95h7.1v7.1h-7.1z M1330.30,956.95v7.1 M1326.75,960.50h7.1M1334.55,930.65h7.1v7.1h-7.1z M1338.10,930.65v7.1 M1334.55,934.20h7.1M1341.45,930.65h7.1v7.1h-7.1z M1345.00,930.65v7.1 M1341.45,934.20h7.1M1348.45,905.05h7.1v7.1h-7.1z M1352.00,905.05v7.1 M1348.45,908.60h7.1M1355.65,891.15h7.1v7.1h-7.1z M1359.20,891.15v7.1 M1355.65,894.70h7.1M1362.85,877.85h7.1v7.1h-7.1z M1366.40,877.85v7.1 M1362.85,881.40h7.1M1369.75,865.45h7.1v7.1h-7.1z M1373.30,865.45v7.1 M1369.75,869.00h7.1M1376.45,838.65h7.1v7.1h-7.1z M1380.00,838.65v7.1 M1376.45,842.20h7.1M1383.65,825.85h7.1v7.1h-7.1z M1387.20,825.85v7.1 M1383.65,829.40h7.1M1390.05,812.85h7.1v7.1h-7.1z M1393.60,812.85v7.1 M1390.05,816.40h7.1M1397.25,812.85h7.1v7.1h-7.1z M1400.80,812.85v7.1 M1397.25,816.40h7.1M1403.95,812.85h7.1v7.1h-7.1z M1407.50,812.85v7.1 M1403.95,816.40h7.1M1411.15,825.85h7.1v7.1h-7.1z M1414.70,825.85v7.1 M1411.15,829.40h7.1M1418.35,839.25h7.1v7.1h-7.1z M1421.90,839.25v7.1 M1418.35,842.80h7.1M1425.65,878.35h7.1v7.1h-7.1z M1429.20,878.35v7.1 M1425.65,881.90h7.1M1433.15,930.45h7.1v7.1h-7.1z M1436.70,930.45v7.1 M1433.15,934.00h7.1M1440.05,982.55h7.1v7.1h-7.1z M1443.60,982.55v7.1 M1440.05,986.10h7.1M1446.65,1021.35h7.1v7.1h-7.1z M1450.20,1021.35v7.1 M1446.65,1024.90h7.1M1453.75,1047.25h7.1v7.1h-7.1z M1457.30,1047.25v7.1 M1453.75,1050.80h7.1M1460.75,1047.25h7.1v7.1h-7.1z M1464.30,1047.25v7.1 M1460.75,1050.80h7.1M1467.75,1047.25h7.1v7.1h-7.1z M1471.30,1047.25v7.1 M1467.75,1050.80h7.1M1474.75,1047.25h7.1v7.1h-7.1z M1478.30,1047.25v7.1 M1474.75,1050.80h7.1M1481.75,1047.25h7.1v7.1h-7.1z M1485.30,1047.25v7.1 M1481.75,1050.80h7.1M1488.75,1047.25h7.1v7.1h-7.1z M1492.30,1047.25v7.1 M1488.75,1050.80h7.1M1495.75,1047.25h7.1v7.1h-7.1z M1499.30,1047.25v7.1 M1495.75,1050.80h7.1M1502.75,1047.25h7.1v7.1h-7.1z M1506.30,1047.25v7.1 M1502.75,1050.80h7.1M1509.75,1047.25h7.1v7.1h-7.1z M1513.30,1047.25v7.1 M1509.75,1050.80h7.1M1516.75,1047.25h7.1v7.1h-7.1z M1520.30,1047.25v7.1 M1516.75,1050.80h7.1M1524.05,1034.05h7.1v7.1h-7.1z M1527.60,1034.05v7.1 M1524.05,1037.60h7.1M1531.05,1047.25h7.1v7.1h-7.1z M1534.60,1047.25v7.1 M1531.05,1050.80h7.1" stroke="#444" stroke-width="0.9"/>
<path d="M951.70,1049.50 C952.08,1050.08 953.12,1051.67 954.00,1053.00 C954.88,1054.33 956.00,1056.17 957.00,1057.50 C958.00,1058.83 959.12,1060.20 960.00,1061.00 C960.88,1061.80 961.47,1062.38 962.30,1062.30 C963.13,1062.22 964.05,1061.38 965.00,1060.50 C965.95,1059.62 966.92,1058.33 968.00,1057.00 C969.08,1055.67 968.67,1053.33 971.50,1052.50 C974.33,1051.67 980.33,1052.33 985.00,1052.00 C989.67,1051.67 995.95,1051.32 999.50,1050.50 C1003.05,1049.68 1004.05,1047.23 1006.30,1047.10 C1008.55,1046.97 1010.72,1049.72 1013.00,1049.70 C1015.28,1049.68 1017.67,1047.07 1020.00,1047.00 C1022.33,1046.93 1024.50,1048.63 1027.00,1049.30 C1029.50,1049.97 1029.50,1050.50 1035.00,1051.00 C1040.50,1051.50 1054.83,1052.47 1060.00,1052.30 C1065.17,1052.13 1064.00,1050.42 1066.00,1050.00 C1068.00,1049.58 1070.00,1049.47 1072.00,1049.80 C1074.00,1050.13 1068.33,1051.57 1078.00,1052.00 C1087.67,1052.43 1111.33,1052.32 1130.00,1052.40 C1148.67,1052.48 1179.00,1053.07 1190.00,1052.50 C1201.00,1051.93 1193.83,1050.58 1196.00,1049.00 C1198.17,1047.42 1200.67,1044.25 1203.00,1043.00 C1205.33,1041.75 1206.83,1041.83 1210.00,1041.50 C1213.17,1041.17 1218.33,1041.28 1222.00,1041.00 C1225.67,1040.72 1229.00,1041.47 1232.00,1039.80 C1235.00,1038.13 1237.33,1033.47 1240.00,1031.00 C1242.67,1028.53 1245.33,1026.83 1248.00,1025.00 C1250.67,1023.17 1253.50,1022.17 1256.00,1020.00 C1258.50,1017.83 1259.83,1013.50 1263.00,1012.00 C1266.17,1010.50 1271.83,1011.17 1275.00,1011.00 C1278.17,1010.83 1279.68,1012.58 1282.00,1011.00 C1284.32,1009.42 1286.60,1005.33 1288.90,1001.50 C1291.20,997.67 1293.12,990.75 1295.80,988.00 C1298.48,985.25 1302.63,985.83 1305.00,985.00 C1307.37,984.17 1308.02,985.07 1310.00,983.00 C1311.98,980.93 1314.63,976.02 1316.90,972.60 C1319.17,969.18 1321.37,965.35 1323.60,962.50 C1325.83,959.65 1327.88,959.88 1330.30,955.50 C1332.72,951.12 1335.65,940.62 1338.10,936.20 C1340.55,931.78 1342.68,933.27 1345.00,929.00 C1347.32,924.73 1349.63,916.32 1352.00,910.60 C1354.37,904.88 1356.80,899.57 1359.20,894.70 C1361.60,889.83 1364.05,886.18 1366.40,881.40 C1368.75,876.62 1371.03,872.03 1373.30,866.00 C1375.57,859.97 1377.68,851.47 1380.00,845.20 C1382.32,838.93 1384.93,832.87 1387.20,828.40 C1389.47,823.93 1391.33,820.57 1393.60,818.40 C1395.87,816.23 1398.90,816.38 1400.80,815.40 C1402.70,814.42 1403.47,812.48 1405.00,812.50 C1406.53,812.52 1408.38,813.02 1410.00,815.50 C1411.62,817.98 1412.72,822.35 1414.70,827.40 C1416.68,832.45 1419.48,836.38 1421.90,845.80 C1424.32,855.22 1426.73,869.20 1429.20,883.90 C1431.67,898.60 1434.30,917.30 1436.70,934.00 C1439.10,950.70 1441.35,969.28 1443.60,984.10 C1445.85,998.92 1448.30,1013.08 1450.20,1022.90 C1452.10,1032.72 1453.37,1038.57 1455.00,1043.00 C1456.63,1047.43 1454.17,1048.28 1460.00,1049.50 C1465.83,1050.72 1476.50,1050.17 1490.00,1050.30 C1503.50,1050.43 1532.50,1050.30 1541.00,1050.30" stroke="#707070" stroke-width="2.3"/>
</g>
<path d="M269.55,19.05h6.5v6.5h-6.5z M272.80,19.05v6.5 M269.55,22.30h6.5" fill="none" stroke="#3a3a3a" stroke-width="1.05"/>
<path d="M1101.25,44.75h6.5v6.5h-6.5z M1104.50,44.75v6.5 M1101.25,48.00h6.5" fill="none" stroke="#3a3a3a" stroke-width="1.05"/>
<circle cx="1104.4" cy="86.8" r="4.0" fill="none" stroke="#444" stroke-width="1.1"/>
<path d="M299.60,738.00h6.8v6.8h-6.8z M299.77,738.17l6.46,6.46 M306.23,738.17l-6.46,6.46" fill="none" stroke="#2e2e2e" stroke-width="1.3"/>
<path d="M1094.95,681.15h6.5v6.5h-6.5z M1098.20,681.15v6.5 M1094.95,684.40h6.5" fill="none" stroke="#3a3a3a" stroke-width="1.05"/>
<line x1="0.00" y1="1.00" x2="1601.00" y2="1.00" stroke="#2b2b2b" stroke-width="2.0"/>
<line x1="2.00" y1="0.00" x2="2.00" y2="1260.00" stroke="#2b2b2b" stroke-width="2.0"/>
<line x1="1597.00" y1="0.00" x2="1597.00" y2="1260.00" stroke="#2b2b2b" stroke-width="2.0"/>
<line x1="0.00" y1="1258.00" x2="1601.00" y2="1258.00" stroke="#2b2b2b" stroke-width="2.0"/>
<line x1="818.00" y1="0.00" x2="818.00" y2="1260.00" stroke="#2b2b2b" stroke-width="1.8"/>
<line x1="0.00" y1="669.40" x2="1601.00" y2="669.40" stroke="#2b2b2b" stroke-width="1.8"/>
<line x1="120.20" y1="0.00" x2="120.20" y2="415.75" stroke="#2b2b2b" stroke-width="1.9"/>
<line x1="115.70" y1="414.85" x2="734.79" y2="414.85" stroke="#2b2b2b" stroke-width="1.9"/>
<line x1="120.20" y1="414.85" x2="120.20" y2="423.15" stroke="#2b2b2b" stroke-width="1.7"/>
<line x1="142.12" y1="414.85" x2="142.12" y2="419.45" stroke="#2b2b2b" stroke-width="1.7"/>
<line x1="164.03" y1="414.85" x2="164.03" y2="419.45" stroke="#2b2b2b" stroke-width="1.7"/>
<line x1="185.95" y1="414.85" x2="185.95" y2="419.45" stroke="#2b2b2b" stroke-width="1.7"/>
<line x1="207.87" y1="414.85" x2="207.87" y2="423.15" stroke="#2b2b2b" stroke-width="1.7"/>
<line x1="229.79" y1="414.85" x2="229.79" y2="419.45" stroke="#2b2b2b" stroke-width="1.7"/>
<line x1="251.70" y1="414.85" x2="251.70" y2="419.45" stroke="#2b2b2b" stroke-width="1.7"/>
<line x1="273.62" y1="414.85" x2="273.62" y2="419.45" stroke="#2b2b2b" stroke-width="1.7"/>
<line x1="295.54" y1="414.85" x2="295.54" y2="423.15" stroke="#2b2b2b" stroke-width="1.7"/>
<line x1="317.46" y1="414.85" x2="317.46" y2="419.45" stroke="#2b2b2b" stroke-width="1.7"/>
<line x1="339.38" y1="414.85" x2="339.38" y2="419.45" stroke="#2b2b2b" stroke-width="1.7"/>
<line x1="361.29" y1="414.85" x2="361.29" y2="419.45" stroke="#2b2b2b" stroke-width="1.7"/>
<line x1="383.21" y1="414.85" x2="383.21" y2="423.15" stroke="#2b2b2b" stroke-width="1.7"/>
<line x1="405.13" y1="414.85" x2="405.13" y2="419.45" stroke="#2b2b2b" stroke-width="1.7"/>
<line x1="427.05" y1="414.85" x2="427.05" y2="419.45" stroke="#2b2b2b" stroke-width="1.7"/>
<line x1="448.96" y1="414.85" x2="448.96" y2="419.45" stroke="#2b2b2b" stroke-width="1.7"/>
<line x1="470.88" y1="414.85" x2="470.88" y2="423.15" stroke="#2b2b2b" stroke-width="1.7"/>
<line x1="492.80" y1="414.85" x2="492.80" y2="419.45" stroke="#2b2b2b" stroke-width="1.7"/>
<line x1="514.72" y1="414.85" x2="514.72" y2="419.45" stroke="#2b2b2b" stroke-width="1.7"/>
<line x1="536.63" y1="414.85" x2="536.63" y2="419.45" stroke="#2b2b2b" stroke-width="1.7"/>
<line x1="558.55" y1="414.85" x2="558.55" y2="423.15" stroke="#2b2b2b" stroke-width="1.7"/>
<line x1="580.47" y1="414.85" x2="580.47" y2="419.45" stroke="#2b2b2b" stroke-width="1.7"/>
<line x1="602.38" y1="414.85" x2="602.38" y2="419.45" stroke="#2b2b2b" stroke-width="1.7"/>
<line x1="624.30" y1="414.85" x2="624.30" y2="419.45" stroke="#2b2b2b" stroke-width="1.7"/>
<line x1="646.22" y1="414.85" x2="646.22" y2="423.15" stroke="#2b2b2b" stroke-width="1.7"/>
<line x1="668.14" y1="414.85" x2="668.14" y2="419.45" stroke="#2b2b2b" stroke-width="1.7"/>
<line x1="690.06" y1="414.85" x2="690.06" y2="419.45" stroke="#2b2b2b" stroke-width="1.7"/>
<line x1="711.97" y1="414.85" x2="711.97" y2="419.45" stroke="#2b2b2b" stroke-width="1.7"/>
<line x1="733.89" y1="414.85" x2="733.89" y2="423.15" stroke="#2b2b2b" stroke-width="1.7"/>
<line x1="115.60" y1="414.85" x2="120.20" y2="414.85" stroke="#2b2b2b" stroke-width="1.7"/>
<line x1="111.70" y1="380.00" x2="120.20" y2="380.00" stroke="#2b2b2b" stroke-width="1.7"/>
<line x1="115.60" y1="345.15" x2="120.20" y2="345.15" stroke="#2b2b2b" stroke-width="1.7"/>
<line x1="111.70" y1="310.30" x2="120.20" y2="310.30" stroke="#2b2b2b" stroke-width="1.7"/>
<line x1="115.60" y1="275.45" x2="120.20" y2="275.45" stroke="#2b2b2b" stroke-width="1.7"/>
<line x1="111.70" y1="240.60" x2="120.20" y2="240.60" stroke="#2b2b2b" stroke-width="1.7"/>
<line x1="115.60" y1="205.75" x2="120.20" y2="205.75" stroke="#2b2b2b" stroke-width="1.7"/>
<line x1="111.70" y1="170.90" x2="120.20" y2="170.90" stroke="#2b2b2b" stroke-width="1.7"/>
<line x1="115.60" y1="136.05" x2="120.20" y2="136.05" stroke="#2b2b2b" stroke-width="1.7"/>
<line x1="111.70" y1="101.20" x2="120.20" y2="101.20" stroke="#2b2b2b" stroke-width="1.7"/>
<line x1="115.60" y1="66.35" x2="120.20" y2="66.35" stroke="#2b2b2b" stroke-width="1.7"/>
<line x1="111.70" y1="31.50" x2="120.20" y2="31.50" stroke="#2b2b2b" stroke-width="1.7"/>
<text x="120.20" y="443.65" font-family="'Liberation Sans',Arial,sans-serif" font-size="19.5" text-anchor="middle" fill="#262626" >100</text>
<text x="207.87" y="443.65" font-family="'Liberation Sans',Arial,sans-serif" font-size="19.5" text-anchor="middle" fill="#262626" >200</text>
<text x="295.54" y="443.65" font-family="'Liberation Sans',Arial,sans-serif" font-size="19.5" text-anchor="middle" fill="#262626" >300</text>
<text x="383.21" y="443.65" font-family="'Liberation Sans',Arial,sans-serif" font-size="19.5" text-anchor="middle" fill="#262626" >400</text>
<text x="470.88" y="443.65" font-family="'Liberation Sans',Arial,sans-serif" font-size="19.5" text-anchor="middle" fill="#262626" >500</text>
<text x="558.55" y="443.65" font-family="'Liberation Sans',Arial,sans-serif" font-size="19.5" text-anchor="middle" fill="#262626" >600</text>
<text x="646.22" y="443.65" font-family="'Liberation Sans',Arial,sans-serif" font-size="19.5" text-anchor="middle" fill="#262626" >700</text>
<text x="733.89" y="443.65" font-family="'Liberation Sans',Arial,sans-serif" font-size="19.5" text-anchor="middle" fill="#262626" >800</text>
<text x="106.70" y="385.80" font-family="'Liberation Sans',Arial,sans-serif" font-size="19.5" text-anchor="end" fill="#262626" >0.00</text>
<text x="106.70" y="316.10" font-family="'Liberation Sans',Arial,sans-serif" font-size="19.5" text-anchor="end" fill="#262626" >0.05</text>
<text x="106.70" y="246.40" font-family="'Liberation Sans',Arial,sans-serif" font-size="19.5" text-anchor="end" fill="#262626" >0.10</text>
<text x="106.70" y="176.70" font-family="'Liberation Sans',Arial,sans-serif" font-size="19.5" text-anchor="end" fill="#262626" >0.15</text>
<text x="106.70" y="107.00" font-family="'Liberation Sans',Arial,sans-serif" font-size="19.5" text-anchor="end" fill="#262626" >0.20</text>
<text x="106.70" y="37.30" font-family="'Liberation Sans',Arial,sans-serif" font-size="19.5" text-anchor="end" fill="#262626" >0.25</text>
<line x1="950.30" y1="22.30" x2="950.30" y2="456.72" stroke="#2b2b2b" stroke-width="1.9"/>
<line x1="945.80" y1="455.82" x2="1562.30" y2="455.82" stroke="#2b2b2b" stroke-width="1.9"/>
<line x1="950.30" y1="455.82" x2="950.30" y2="464.12" stroke="#2b2b2b" stroke-width="1.7"/>
<line x1="972.12" y1="455.82" x2="972.12" y2="460.43" stroke="#2b2b2b" stroke-width="1.7"/>
<line x1="993.95" y1="455.82" x2="993.95" y2="460.43" stroke="#2b2b2b" stroke-width="1.7"/>
<line x1="1015.77" y1="455.82" x2="1015.77" y2="460.43" stroke="#2b2b2b" stroke-width="1.7"/>
<line x1="1037.60" y1="455.82" x2="1037.60" y2="464.12" stroke="#2b2b2b" stroke-width="1.7"/>
<line x1="1059.42" y1="455.82" x2="1059.42" y2="460.43" stroke="#2b2b2b" stroke-width="1.7"/>
<line x1="1081.25" y1="455.82" x2="1081.25" y2="460.43" stroke="#2b2b2b" stroke-width="1.7"/>
<line x1="1103.08" y1="455.82" x2="1103.08" y2="460.43" stroke="#2b2b2b" stroke-width="1.7"/>
<line x1="1124.90" y1="455.82" x2="1124.90" y2="464.12" stroke="#2b2b2b" stroke-width="1.7"/>
<line x1="1146.72" y1="455.82" x2="1146.72" y2="460.43" stroke="#2b2b2b" stroke-width="1.7"/>
<line x1="1168.55" y1="455.82" x2="1168.55" y2="460.43" stroke="#2b2b2b" stroke-width="1.7"/>
<line x1="1190.38" y1="455.82" x2="1190.38" y2="460.43" stroke="#2b2b2b" stroke-width="1.7"/>
<line x1="1212.20" y1="455.82" x2="1212.20" y2="464.12" stroke="#2b2b2b" stroke-width="1.7"/>
<line x1="1234.03" y1="455.82" x2="1234.03" y2="460.43" stroke="#2b2b2b" stroke-width="1.7"/>
<line x1="1255.85" y1="455.82" x2="1255.85" y2="460.43" stroke="#2b2b2b" stroke-width="1.7"/>
<line x1="1277.67" y1="455.82" x2="1277.67" y2="460.43" stroke="#2b2b2b" stroke-width="1.7"/>
<line x1="1299.50" y1="455.82" x2="1299.50" y2="464.12" stroke="#2b2b2b" stroke-width="1.7"/>
<line x1="1321.32" y1="455.82" x2="1321.32" y2="460.43" stroke="#2b2b2b" stroke-width="1.7"/>
<line x1="1343.15" y1="455.82" x2="1343.15" y2="460.43" stroke="#2b2b2b" stroke-width="1.7"/>
<line x1="1364.97" y1="455.82" x2="1364.97" y2="460.43" stroke="#2b2b2b" stroke-width="1.7"/>
<line x1="1386.80" y1="455.82" x2="1386.80" y2="464.12" stroke="#2b2b2b" stroke-width="1.7"/>
<line x1="1408.62" y1="455.82" x2="1408.62" y2="460.43" stroke="#2b2b2b" stroke-width="1.7"/>
<line x1="1430.45" y1="455.82" x2="1430.45" y2="460.43" stroke="#2b2b2b" stroke-width="1.7"/>
<line x1="1452.28" y1="455.82" x2="1452.28" y2="460.43" stroke="#2b2b2b" stroke-width="1.7"/>
<line x1="1474.10" y1="455.82" x2="1474.10" y2="464.12" stroke="#2b2b2b" stroke-width="1.7"/>
<line x1="1495.92" y1="455.82" x2="1495.92" y2="460.43" stroke="#2b2b2b" stroke-width="1.7"/>
<line x1="1517.75" y1="455.82" x2="1517.75" y2="460.43" stroke="#2b2b2b" stroke-width="1.7"/>
<line x1="1539.57" y1="455.82" x2="1539.57" y2="460.43" stroke="#2b2b2b" stroke-width="1.7"/>
<line x1="1561.40" y1="455.82" x2="1561.40" y2="464.12" stroke="#2b2b2b" stroke-width="1.7"/>
<line x1="945.70" y1="455.82" x2="950.30" y2="455.82" stroke="#2b2b2b" stroke-width="1.7"/>
<line x1="941.80" y1="419.70" x2="950.30" y2="419.70" stroke="#2b2b2b" stroke-width="1.7"/>
<line x1="945.70" y1="383.57" x2="950.30" y2="383.57" stroke="#2b2b2b" stroke-width="1.7"/>
<line x1="941.80" y1="347.45" x2="950.30" y2="347.45" stroke="#2b2b2b" stroke-width="1.7"/>
<line x1="945.70" y1="311.32" x2="950.30" y2="311.32" stroke="#2b2b2b" stroke-width="1.7"/>
<line x1="941.80" y1="275.20" x2="950.30" y2="275.20" stroke="#2b2b2b" stroke-width="1.7"/>
<line x1="945.70" y1="239.07" x2="950.30" y2="239.07" stroke="#2b2b2b" stroke-width="1.7"/>
<line x1="941.80" y1="202.95" x2="950.30" y2="202.95" stroke="#2b2b2b" stroke-width="1.7"/>
<line x1="945.70" y1="166.83" x2="950.30" y2="166.83" stroke="#2b2b2b" stroke-width="1.7"/>
<line x1="941.80" y1="130.70" x2="950.30" y2="130.70" stroke="#2b2b2b" stroke-width="1.7"/>
<line x1="945.70" y1="94.57" x2="950.30" y2="94.57" stroke="#2b2b2b" stroke-width="1.7"/>
<line x1="941.80" y1="58.45" x2="950.30" y2="58.45" stroke="#2b2b2b" stroke-width="1.7"/>
<line x1="945.70" y1="22.32" x2="950.30" y2="22.32" stroke="#2b2b2b" stroke-width="1.7"/>
<text x="950.30" y="485.22" font-family="'Liberation Sans',Arial,sans-serif" font-size="19.5" text-anchor="middle" fill="#262626" >100</text>
<text x="1037.60" y="485.22" font-family="'Liberation Sans',Arial,sans-serif" font-size="19.5" text-anchor="middle" fill="#262626" >200</text>
<text x="1124.90" y="485.22" font-family="'Liberation Sans',Arial,sans-serif" font-size="19.5" text-anchor="middle" fill="#262626" >300</text>
<text x="1212.20" y="485.22" font-family="'Liberation Sans',Arial,sans-serif" font-size="19.5" text-anchor="middle" fill="#262626" >400</text>
<text x="1299.50" y="485.22" font-family="'Liberation Sans',Arial,sans-serif" font-size="19.5" text-anchor="middle" fill="#262626" >500</text>
<text x="1386.80" y="485.22" font-family="'Liberation Sans',Arial,sans-serif" font-size="19.5" text-anchor="middle" fill="#262626" >600</text>
<text x="1474.10" y="485.22" font-family="'Liberation Sans',Arial,sans-serif" font-size="19.5" text-anchor="middle" fill="#262626" >700</text>
<text x="1561.40" y="485.22" font-family="'Liberation Sans',Arial,sans-serif" font-size="19.5" text-anchor="middle" fill="#262626" >800</text>
<text x="936.80" y="425.50" font-family="'Liberation Sans',Arial,sans-serif" font-size="19.5" text-anchor="end" fill="#262626" >0.00</text>
<text x="936.80" y="353.25" font-family="'Liberation Sans',Arial,sans-serif" font-size="19.5" text-anchor="end" fill="#262626" >0.05</text>
<text x="936.80" y="281.00" font-family="'Liberation Sans',Arial,sans-serif" font-size="19.5" text-anchor="end" fill="#262626" >0.10</text>
<text x="936.80" y="208.75" font-family="'Liberation Sans',Arial,sans-serif" font-size="19.5" text-anchor="end" fill="#262626" >0.15</text>
<text x="936.80" y="136.50" font-family="'Liberation Sans',Arial,sans-serif" font-size="19.5" text-anchor="end" fill="#262626" >0.20</text>
<text x="936.80" y="64.25" font-family="'Liberation Sans',Arial,sans-serif" font-size="19.5" text-anchor="end" fill="#262626" >0.25</text>
<line x1="138.60" y1="717.60" x2="138.60" y2="1138.28" stroke="#2b2b2b" stroke-width="1.9"/>
<line x1="134.10" y1="1137.38" x2="788.40" y2="1137.38" stroke="#2b2b2b" stroke-width="1.9"/>
<line x1="138.60" y1="1137.38" x2="138.60" y2="1145.67" stroke="#2b2b2b" stroke-width="1.7"/>
<line x1="161.78" y1="1137.38" x2="161.78" y2="1141.97" stroke="#2b2b2b" stroke-width="1.7"/>
<line x1="184.95" y1="1137.38" x2="184.95" y2="1141.97" stroke="#2b2b2b" stroke-width="1.7"/>
<line x1="208.12" y1="1137.38" x2="208.12" y2="1141.97" stroke="#2b2b2b" stroke-width="1.7"/>
<line x1="231.30" y1="1137.38" x2="231.30" y2="1145.67" stroke="#2b2b2b" stroke-width="1.7"/>
<line x1="254.47" y1="1137.38" x2="254.47" y2="1141.97" stroke="#2b2b2b" stroke-width="1.7"/>
<line x1="277.65" y1="1137.38" x2="277.65" y2="1141.97" stroke="#2b2b2b" stroke-width="1.7"/>
<line x1="300.82" y1="1137.38" x2="300.82" y2="1141.97" stroke="#2b2b2b" stroke-width="1.7"/>
<line x1="324.00" y1="1137.38" x2="324.00" y2="1145.67" stroke="#2b2b2b" stroke-width="1.7"/>
<line x1="347.18" y1="1137.38" x2="347.18" y2="1141.97" stroke="#2b2b2b" stroke-width="1.7"/>
<line x1="370.35" y1="1137.38" x2="370.35" y2="1141.97" stroke="#2b2b2b" stroke-width="1.7"/>
<line x1="393.52" y1="1137.38" x2="393.52" y2="1141.97" stroke="#2b2b2b" stroke-width="1.7"/>
<line x1="416.70" y1="1137.38" x2="416.70" y2="1145.67" stroke="#2b2b2b" stroke-width="1.7"/>
<line x1="439.88" y1="1137.38" x2="439.88" y2="1141.97" stroke="#2b2b2b" stroke-width="1.7"/>
<line x1="463.05" y1="1137.38" x2="463.05" y2="1141.97" stroke="#2b2b2b" stroke-width="1.7"/>
<line x1="486.23" y1="1137.38" x2="486.23" y2="1141.97" stroke="#2b2b2b" stroke-width="1.7"/>
<line x1="509.40" y1="1137.38" x2="509.40" y2="1145.67" stroke="#2b2b2b" stroke-width="1.7"/>
<line x1="532.58" y1="1137.38" x2="532.58" y2="1141.97" stroke="#2b2b2b" stroke-width="1.7"/>
<line x1="555.75" y1="1137.38" x2="555.75" y2="1141.97" stroke="#2b2b2b" stroke-width="1.7"/>
<line x1="578.93" y1="1137.38" x2="578.93" y2="1141.97" stroke="#2b2b2b" stroke-width="1.7"/>
<line x1="602.10" y1="1137.38" x2="602.10" y2="1145.67" stroke="#2b2b2b" stroke-width="1.7"/>
<line x1="625.27" y1="1137.38" x2="625.27" y2="1141.97" stroke="#2b2b2b" stroke-width="1.7"/>
<line x1="648.45" y1="1137.38" x2="648.45" y2="1141.97" stroke="#2b2b2b" stroke-width="1.7"/>
<line x1="671.62" y1="1137.38" x2="671.62" y2="1141.97" stroke="#2b2b2b" stroke-width="1.7"/>
<line x1="694.80" y1="1137.38" x2="694.80" y2="1145.67" stroke="#2b2b2b" stroke-width="1.7"/>
<line x1="717.98" y1="1137.38" x2="717.98" y2="1141.97" stroke="#2b2b2b" stroke-width="1.7"/>
<line x1="741.15" y1="1137.38" x2="741.15" y2="1141.97" stroke="#2b2b2b" stroke-width="1.7"/>
<line x1="764.33" y1="1137.38" x2="764.33" y2="1141.97" stroke="#2b2b2b" stroke-width="1.7"/>
<line x1="787.50" y1="1137.38" x2="787.50" y2="1145.67" stroke="#2b2b2b" stroke-width="1.7"/>
<line x1="134.00" y1="1137.38" x2="138.60" y2="1137.38" stroke="#2b2b2b" stroke-width="1.7"/>
<line x1="130.10" y1="1102.40" x2="138.60" y2="1102.40" stroke="#2b2b2b" stroke-width="1.7"/>
<line x1="134.00" y1="1067.43" x2="138.60" y2="1067.43" stroke="#2b2b2b" stroke-width="1.7"/>
<line x1="130.10" y1="1032.45" x2="138.60" y2="1032.45" stroke="#2b2b2b" stroke-width="1.7"/>
<line x1="134.00" y1="997.48" x2="138.60" y2="997.48" stroke="#2b2b2b" stroke-width="1.7"/>
<line x1="130.10" y1="962.50" x2="138.60" y2="962.50" stroke="#2b2b2b" stroke-width="1.7"/>
<line x1="134.00" y1="927.53" x2="138.60" y2="927.53" stroke="#2b2b2b" stroke-width="1.7"/>
<line x1="130.10" y1="892.55" x2="138.60" y2="892.55" stroke="#2b2b2b" stroke-width="1.7"/>
<line x1="134.00" y1="857.58" x2="138.60" y2="857.58" stroke="#2b2b2b" stroke-width="1.7"/>
<line x1="130.10" y1="822.60" x2="138.60" y2="822.60" stroke="#2b2b2b" stroke-width="1.7"/>
<line x1="134.00" y1="787.62" x2="138.60" y2="787.62" stroke="#2b2b2b" stroke-width="1.7"/>
<line x1="130.10" y1="752.65" x2="138.60" y2="752.65" stroke="#2b2b2b" stroke-width="1.7"/>
<line x1="134.00" y1="717.68" x2="138.60" y2="717.68" stroke="#2b2b2b" stroke-width="1.7"/>
<text x="138.60" y="1167.88" font-family="'Liberation Sans',Arial,sans-serif" font-size="20.8" text-anchor="middle" fill="#262626" >100</text>
<text x="231.30" y="1167.88" font-family="'Liberation Sans',Arial,sans-serif" font-size="20.8" text-anchor="middle" fill="#262626" >200</text>
<text x="324.00" y="1167.88" font-family="'Liberation Sans',Arial,sans-serif" font-size="20.8" text-anchor="middle" fill="#262626" >300</text>
<text x="416.70" y="1167.88" font-family="'Liberation Sans',Arial,sans-serif" font-size="20.8" text-anchor="middle" fill="#262626" >400</text>
<text x="509.40" y="1167.88" font-family="'Liberation Sans',Arial,sans-serif" font-size="20.8" text-anchor="middle" fill="#262626" >500</text>
<text x="602.10" y="1167.88" font-family="'Liberation Sans',Arial,sans-serif" font-size="20.8" text-anchor="middle" fill="#262626" >600</text>
<text x="694.80" y="1167.88" font-family="'Liberation Sans',Arial,sans-serif" font-size="20.8" text-anchor="middle" fill="#262626" >700</text>
<text x="787.50" y="1167.88" font-family="'Liberation Sans',Arial,sans-serif" font-size="20.8" text-anchor="middle" fill="#262626" >800</text>
<text x="125.10" y="1108.59" font-family="'Liberation Sans',Arial,sans-serif" font-size="20.8" text-anchor="end" fill="#262626" >0.00</text>
<text x="125.10" y="1038.64" font-family="'Liberation Sans',Arial,sans-serif" font-size="20.8" text-anchor="end" fill="#262626" >0.05</text>
<text x="125.10" y="968.69" font-family="'Liberation Sans',Arial,sans-serif" font-size="20.8" text-anchor="end" fill="#262626" >0.10</text>
<text x="125.10" y="898.74" font-family="'Liberation Sans',Arial,sans-serif" font-size="20.8" text-anchor="end" fill="#262626" >0.15</text>
<text x="125.10" y="828.79" font-family="'Liberation Sans',Arial,sans-serif" font-size="20.8" text-anchor="end" fill="#262626" >0.20</text>
<text x="125.10" y="758.84" font-family="'Liberation Sans',Arial,sans-serif" font-size="20.8" text-anchor="end" fill="#262626" >0.25</text>
<line x1="947.60" y1="670.00" x2="947.60" y2="1082.55" stroke="#2b2b2b" stroke-width="1.9"/>
<line x1="943.10" y1="1081.65" x2="1542.24" y2="1081.65" stroke="#2b2b2b" stroke-width="1.9"/>
<line x1="947.60" y1="1081.65" x2="947.60" y2="1089.95" stroke="#2b2b2b" stroke-width="1.7"/>
<line x1="968.81" y1="1081.65" x2="968.81" y2="1086.25" stroke="#2b2b2b" stroke-width="1.7"/>
<line x1="990.01" y1="1081.65" x2="990.01" y2="1086.25" stroke="#2b2b2b" stroke-width="1.7"/>
<line x1="1011.22" y1="1081.65" x2="1011.22" y2="1086.25" stroke="#2b2b2b" stroke-width="1.7"/>
<line x1="1032.42" y1="1081.65" x2="1032.42" y2="1089.95" stroke="#2b2b2b" stroke-width="1.7"/>
<line x1="1053.62" y1="1081.65" x2="1053.62" y2="1086.25" stroke="#2b2b2b" stroke-width="1.7"/>
<line x1="1074.83" y1="1081.65" x2="1074.83" y2="1086.25" stroke="#2b2b2b" stroke-width="1.7"/>
<line x1="1096.04" y1="1081.65" x2="1096.04" y2="1086.25" stroke="#2b2b2b" stroke-width="1.7"/>
<line x1="1117.24" y1="1081.65" x2="1117.24" y2="1089.95" stroke="#2b2b2b" stroke-width="1.7"/>
<line x1="1138.44" y1="1081.65" x2="1138.44" y2="1086.25" stroke="#2b2b2b" stroke-width="1.7"/>
<line x1="1159.65" y1="1081.65" x2="1159.65" y2="1086.25" stroke="#2b2b2b" stroke-width="1.7"/>
<line x1="1180.86" y1="1081.65" x2="1180.86" y2="1086.25" stroke="#2b2b2b" stroke-width="1.7"/>
<line x1="1202.06" y1="1081.65" x2="1202.06" y2="1089.95" stroke="#2b2b2b" stroke-width="1.7"/>
<line x1="1223.26" y1="1081.65" x2="1223.26" y2="1086.25" stroke="#2b2b2b" stroke-width="1.7"/>
<line x1="1244.47" y1="1081.65" x2="1244.47" y2="1086.25" stroke="#2b2b2b" stroke-width="1.7"/>
<line x1="1265.67" y1="1081.65" x2="1265.67" y2="1086.25" stroke="#2b2b2b" stroke-width="1.7"/>
<line x1="1286.88" y1="1081.65" x2="1286.88" y2="1089.95" stroke="#2b2b2b" stroke-width="1.7"/>
<line x1="1308.09" y1="1081.65" x2="1308.09" y2="1086.25" stroke="#2b2b2b" stroke-width="1.7"/>
<line x1="1329.29" y1="1081.65" x2="1329.29" y2="1086.25" stroke="#2b2b2b" stroke-width="1.7"/>
<line x1="1350.49" y1="1081.65" x2="1350.49" y2="1086.25" stroke="#2b2b2b" stroke-width="1.7"/>
<line x1="1371.70" y1="1081.65" x2="1371.70" y2="1089.95" stroke="#2b2b2b" stroke-width="1.7"/>
<line x1="1392.90" y1="1081.65" x2="1392.90" y2="1086.25" stroke="#2b2b2b" stroke-width="1.7"/>
<line x1="1414.11" y1="1081.65" x2="1414.11" y2="1086.25" stroke="#2b2b2b" stroke-width="1.7"/>
<line x1="1435.32" y1="1081.65" x2="1435.32" y2="1086.25" stroke="#2b2b2b" stroke-width="1.7"/>
<line x1="1456.52" y1="1081.65" x2="1456.52" y2="1089.95" stroke="#2b2b2b" stroke-width="1.7"/>
<line x1="1477.72" y1="1081.65" x2="1477.72" y2="1086.25" stroke="#2b2b2b" stroke-width="1.7"/>
<line x1="1498.93" y1="1081.65" x2="1498.93" y2="1086.25" stroke="#2b2b2b" stroke-width="1.7"/>
<line x1="1520.13" y1="1081.65" x2="1520.13" y2="1086.25" stroke="#2b2b2b" stroke-width="1.7"/>
<line x1="1541.34" y1="1081.65" x2="1541.34" y2="1089.95" stroke="#2b2b2b" stroke-width="1.7"/>
<line x1="943.00" y1="1081.65" x2="947.60" y2="1081.65" stroke="#2b2b2b" stroke-width="1.7"/>
<line x1="939.10" y1="1046.80" x2="947.60" y2="1046.80" stroke="#2b2b2b" stroke-width="1.7"/>
<line x1="943.00" y1="1011.95" x2="947.60" y2="1011.95" stroke="#2b2b2b" stroke-width="1.7"/>
<line x1="939.10" y1="977.10" x2="947.60" y2="977.10" stroke="#2b2b2b" stroke-width="1.7"/>
<line x1="943.00" y1="942.25" x2="947.60" y2="942.25" stroke="#2b2b2b" stroke-width="1.7"/>
<line x1="939.10" y1="907.40" x2="947.60" y2="907.40" stroke="#2b2b2b" stroke-width="1.7"/>
<line x1="943.00" y1="872.55" x2="947.60" y2="872.55" stroke="#2b2b2b" stroke-width="1.7"/>
<line x1="939.10" y1="837.70" x2="947.60" y2="837.70" stroke="#2b2b2b" stroke-width="1.7"/>
<line x1="943.00" y1="802.85" x2="947.60" y2="802.85" stroke="#2b2b2b" stroke-width="1.7"/>
<line x1="939.10" y1="768.00" x2="947.60" y2="768.00" stroke="#2b2b2b" stroke-width="1.7"/>
<line x1="943.00" y1="733.15" x2="947.60" y2="733.15" stroke="#2b2b2b" stroke-width="1.7"/>
<line x1="939.10" y1="698.30" x2="947.60" y2="698.30" stroke="#2b2b2b" stroke-width="1.7"/>
<text x="947.60" y="1110.45" font-family="'Liberation Sans',Arial,sans-serif" font-size="19.5" text-anchor="middle" fill="#262626" >100</text>
<text x="1032.42" y="1110.45" font-family="'Liberation Sans',Arial,sans-serif" font-size="19.5" text-anchor="middle" fill="#262626" >200</text>
<text x="1117.24" y="1110.45" font-family="'Liberation Sans',Arial,sans-serif" font-size="19.5" text-anchor="middle" fill="#262626" >300</text>
<text x="1202.06" y="1110.45" font-family="'Liberation Sans',Arial,sans-serif" font-size="19.5" text-anchor="middle" fill="#262626" >400</text>
<text x="1286.88" y="1110.45" font-family="'Liberation Sans',Arial,sans-serif" font-size="19.5" text-anchor="middle" fill="#262626" >500</text>
<text x="1371.70" y="1110.45" font-family="'Liberation Sans',Arial,sans-serif" font-size="19.5" text-anchor="middle" fill="#262626" >600</text>
<text x="1456.52" y="1110.45" font-family="'Liberation Sans',Arial,sans-serif" font-size="19.5" text-anchor="middle" fill="#262626" >700</text>
<text x="1541.34" y="1110.45" font-family="'Liberation Sans',Arial,sans-serif" font-size="19.5" text-anchor="middle" fill="#262626" >800</text>
<text x="934.10" y="1052.60" font-family="'Liberation Sans',Arial,sans-serif" font-size="19.5" text-anchor="end" fill="#262626" >0.00</text>
<text x="934.10" y="982.90" font-family="'Liberation Sans',Arial,sans-serif" font-size="19.5" text-anchor="end" fill="#262626" >0.05</text>
<text x="934.10" y="913.20" font-family="'Liberation Sans',Arial,sans-serif" font-size="19.5" text-anchor="end" fill="#262626" >0.10</text>
<text x="934.10" y="843.50" font-family="'Liberation Sans',Arial,sans-serif" font-size="19.5" text-anchor="end" fill="#262626" >0.15</text>
<text x="934.10" y="773.80" font-family="'Liberation Sans',Arial,sans-serif" font-size="19.5" text-anchor="end" fill="#262626" >0.20</text>
<text x="934.10" y="704.10" font-family="'Liberation Sans',Arial,sans-serif" font-size="19.5" text-anchor="end" fill="#262626" >0.25</text>
<rect x="128.20" y="15.40" width="86.70" height="111.00" fill="none" stroke="#2b2b2b" stroke-width="2.2"/>
<text x="154.00" y="63.90" font-family="'Liberation Sans',Arial,sans-serif" font-size="32.5" text-anchor="start" fill="#262626" textLength="20.2" lengthAdjust="spacingAndGlyphs">A</text>
<rect x="970.70" y="32.50" width="86.30" height="110.30" fill="none" stroke="#2b2b2b" stroke-width="2.2"/>
<text x="996.80" y="80.00" font-family="'Liberation Sans',Arial,sans-serif" font-size="30.5" text-anchor="start" fill="#262626" textLength="18.6" lengthAdjust="spacingAndGlyphs">B</text>
<rect x="154.60" y="703.90" width="85.60" height="109.30" fill="none" stroke="#2b2b2b" stroke-width="2.2"/>
<text x="179.20" y="751.80" font-family="'Liberation Sans',Arial,sans-serif" font-size="31" text-anchor="start" fill="#262626" textLength="19.6" lengthAdjust="spacingAndGlyphs">C</text>
<rect x="973.90" y="674.80" width="85.70" height="109.50" fill="none" stroke="#2b2b2b" stroke-width="2.2"/>
<text x="999.50" y="722.50" font-family="'Liberation Sans',Arial,sans-serif" font-size="31" text-anchor="start" fill="#262626" >D</text>
<text transform="translate(34.50,358.00) rotate(-90)" x="0" y="0" font-family="'Liberation Sans',Arial,sans-serif" font-size="23.6" fill="#262626" textLength="312.0" lengthAdjust="spacingAndGlyphs">CO/CO<tspan font-size="15.6" dy="9.4">2</tspan><tspan dy="-9.4"> concentration, vol.%</tspan></text>
<text transform="translate(870.00,394.30) rotate(-90)" x="0" y="0" font-family="'Liberation Sans',Arial,sans-serif" font-size="23.6" fill="#262626" textLength="315.7" lengthAdjust="spacingAndGlyphs">CO/CO<tspan font-size="15.6" dy="9.4">2</tspan><tspan dy="-9.4"> concentration, vol.%</tspan></text>
<text transform="translate(48.20,1085.30) rotate(-90)" x="0" y="0" font-family="'Liberation Sans',Arial,sans-serif" font-size="24.8" fill="#262626" textLength="329.0" lengthAdjust="spacingAndGlyphs">CO/CO<tspan font-size="16.4" dy="9.9">2</tspan><tspan dy="-9.9"> concentration, vol.%</tspan></text>
<text transform="translate(866.60,1022.90) rotate(-90)" x="0" y="0" font-family="'Liberation Sans',Arial,sans-serif" font-size="23.6" fill="#262626" textLength="308.6" lengthAdjust="spacingAndGlyphs">CO/CO<tspan font-size="15.6" dy="9.4">2</tspan><tspan dy="-9.4"> concentration, vol.%</tspan></text>
<text x="334.50" y="487.00" font-family="'Liberation Sans',Arial,sans-serif" font-size="24.2" fill="#262626" textLength="179.5" lengthAdjust="spacingAndGlyphs">Temperature, <tspan font-size="14.5" dy="-13.6">0</tspan><tspan dy="13.6">C</tspan></text>
<text x="1162.20" y="530.50" font-family="'Liberation Sans',Arial,sans-serif" font-size="24.2" fill="#262626" textLength="183.5" lengthAdjust="spacingAndGlyphs">Temperature, <tspan font-size="14.5" dy="-13.6">0</tspan><tspan dy="13.6">C</tspan></text>
<text x="363.40" y="1211.80" font-family="'Liberation Sans',Arial,sans-serif" font-size="25.8" fill="#262626" textLength="194.0" lengthAdjust="spacingAndGlyphs">Temperature, <tspan font-size="15.5" dy="-14.4">0</tspan><tspan dy="14.4">C</tspan></text>
<text x="1152.30" y="1152.50" font-family="'Liberation Sans',Arial,sans-serif" font-size="24.2" fill="#262626" textLength="177.8" lengthAdjust="spacingAndGlyphs">Temperature, <tspan font-size="14.5" dy="-13.6">0</tspan><tspan dy="13.6">C</tspan></text>
<text y="165.00" font-family="'Liberation Serif','Times New Roman',serif" font-size="24.5" fill="#262626"><tspan x="201.00">I</tspan><tspan x="245.50">540</tspan><tspan font-size="15.7" dy="-11.8">0</tspan><tspan dy="11.8">C</tspan><tspan x="340.50">43%</tspan></text>
<text y="201.90" font-family="'Liberation Serif','Times New Roman',serif" font-size="24.5" fill="#262626"><tspan x="199.00">II</tspan><tspan x="245.50">595</tspan><tspan font-size="15.7" dy="-11.8">0</tspan><tspan dy="11.8">C</tspan><tspan x="341.00">50%</tspan></text>
<text y="240.60" font-family="'Liberation Serif','Times New Roman',serif" font-size="24.5" fill="#262626"><tspan x="197.00">III</tspan><tspan x="245.30">630</tspan><tspan font-size="15.7" dy="-11.8">0</tspan><tspan dy="11.8">C</tspan><tspan x="341.00">7%</tspan></text>
<text y="196.20" font-family="'Liberation Serif','Times New Roman',serif" font-size="24.4" fill="#262626"><tspan x="1031.00">I</tspan><tspan x="1076.50">515</tspan><tspan font-size="15.6" dy="-11.7">0</tspan><tspan dy="11.7">C</tspan><tspan x="1174.00">26%</tspan></text>
<text y="234.30" font-family="'Liberation Serif','Times New Roman',serif" font-size="24.4" fill="#262626"><tspan x="1029.20">II</tspan><tspan x="1076.50">620</tspan><tspan font-size="15.6" dy="-11.7">0</tspan><tspan dy="11.7">C</tspan><tspan x="1174.00">68%</tspan></text>
<text y="274.90" font-family="'Liberation Serif','Times New Roman',serif" font-size="24.4" fill="#262626"><tspan x="1027.00">III</tspan><tspan x="1076.50">700</tspan><tspan font-size="15.6" dy="-11.7">0</tspan><tspan dy="11.7">C</tspan><tspan x="1174.00">6%</tspan></text>
<text y="317.2" font-family="'Liberation Serif',serif" font-size="24.4" fill="#262626"><tspan x="1136.2">CO</tspan><tspan font-size="16.6" dy="9">2</tspan><tspan x="1191.2" dy="-9">91%</tspan></text>
<text y="356.2" font-family="'Liberation Serif',serif" font-size="24.4" fill="#262626"><tspan x="1136.2">CO</tspan><tspan x="1190.0">8%</tspan></text>
<text y="888.30" font-family="'Liberation Serif','Times New Roman',serif" font-size="25.8" fill="#262626"><tspan x="216.30">I</tspan><tspan x="264.60">545</tspan><tspan font-size="16.5" dy="-12.4">0</tspan><tspan dy="12.4">C</tspan><tspan x="367.40">44%</tspan></text>
<text y="926.10" font-family="'Liberation Serif','Times New Roman',serif" font-size="25.8" fill="#262626"><tspan x="214.20">II</tspan><tspan x="263.80">600</tspan><tspan font-size="16.5" dy="-12.4">0</tspan><tspan dy="12.4">C</tspan><tspan x="368.00">52%</tspan></text>
<text y="964.60" font-family="'Liberation Serif','Times New Roman',serif" font-size="25.8" fill="#262626"><tspan x="212.00">III</tspan><tspan x="263.80">635</tspan><tspan font-size="16.5" dy="-12.4">0</tspan><tspan dy="12.4">C</tspan><tspan x="367.40">4%</tspan></text>
<text y="833.20" font-family="'Liberation Serif','Times New Roman',serif" font-size="24.3" fill="#262626"><tspan x="1028.30">I</tspan><tspan x="1071.80">530</tspan><tspan font-size="15.6" dy="-11.7">0</tspan><tspan dy="11.7">C</tspan><tspan x="1166.20">34%</tspan></text>
<text y="870.70" font-family="'Liberation Serif','Times New Roman',serif" font-size="24.3" fill="#262626"><tspan x="1025.70">II</tspan><tspan x="1071.80">605</tspan><tspan font-size="15.6" dy="-11.7">0</tspan><tspan dy="11.7">C</tspan><tspan x="1166.20">42%</tspan></text>
<text y="909.20" font-family="'Liberation Serif','Times New Roman',serif" font-size="24.3" fill="#262626"><tspan x="1024.30">III</tspan><tspan x="1071.80">645</tspan><tspan font-size="15.6" dy="-11.7">0</tspan><tspan dy="11.7">C</tspan><tspan x="1166.20">24%</tspan></text>
<text x="505.50" y="163.80" font-family="'Liberation Serif','Times New Roman',serif" font-size="24" text-anchor="middle" fill="#262626" >I</text>
<line x1="505.30" y1="177.80" x2="505.30" y2="240.50" stroke="#444" stroke-width="1.6"/>
<text x="560.70" y="32.00" font-family="'Liberation Serif','Times New Roman',serif" font-size="24" text-anchor="middle" fill="#262626" >II</text>
<line x1="560.80" y1="44.60" x2="560.80" y2="84.00" stroke="#444" stroke-width="1.6"/>
<text x="598.80" y="136.40" font-family="'Liberation Serif','Times New Roman',serif" font-size="24" text-anchor="middle" fill="#262626" >III</text>
<line x1="599.80" y1="155.00" x2="599.80" y2="277.00" stroke="#444" stroke-width="1.6"/>
<text x="1322.00" y="221.50" font-family="'Liberation Serif','Times New Roman',serif" font-size="24" text-anchor="middle" fill="#262626" >I</text>
<line x1="1320.80" y1="235.90" x2="1320.80" y2="298.40" stroke="#444" stroke-width="1.6"/>
<text x="1410.90" y="25.70" font-family="'Liberation Serif','Times New Roman',serif" font-size="24" text-anchor="middle" fill="#262626" >II</text>
<line x1="1409.80" y1="38.00" x2="1409.80" y2="67.90" stroke="#444" stroke-width="1.6"/>
<text x="1477.00" y="212.00" font-family="'Liberation Serif','Times New Roman',serif" font-size="24" text-anchor="middle" fill="#262626" >III</text>
<line x1="1477.10" y1="226.20" x2="1477.10" y2="290.50" stroke="#444" stroke-width="1.6"/>
<text x="557.20" y="892.20" font-family="'Liberation Serif','Times New Roman',serif" font-size="25.5" text-anchor="middle" fill="#262626" >I</text>
<line x1="555.40" y1="904.20" x2="555.40" y2="965.90" stroke="#444" stroke-width="1.6"/>
<text x="609.90" y="702.50" font-family="'Liberation Serif','Times New Roman',serif" font-size="25.5" text-anchor="middle" fill="#262626" >II</text>
<line x1="610.20" y1="713.20" x2="610.20" y2="751.80" stroke="#444" stroke-width="1.6"/>
<text x="650.50" y="865.60" font-family="'Liberation Serif','Times New Roman',serif" font-size="25.5" text-anchor="middle" fill="#262626" >III</text>
<line x1="651.40" y1="883.30" x2="651.40" y2="1004.30" stroke="#444" stroke-width="1.6"/>
<text x="1320.70" y="861.40" font-family="'Liberation Serif','Times New Roman',serif" font-size="24" text-anchor="middle" fill="#262626" >I</text>
<line x1="1319.70" y1="874.40" x2="1319.70" y2="936.40" stroke="#444" stroke-width="1.6"/>
<text x="1378.60" y="745.60" font-family="'Liberation Serif','Times New Roman',serif" font-size="24" text-anchor="middle" fill="#262626" >II</text>
<line x1="1378.60" y1="757.80" x2="1378.60" y2="885.60" stroke="#444" stroke-width="1.6"/>
<text x="1413.30" y="747.50" font-family="'Liberation Serif','Times New Roman',serif" font-size="24" text-anchor="middle" fill="#262626" >III</text>
<line x1="1413.90" y1="767.00" x2="1413.90" y2="887.20" stroke="#444" stroke-width="1.6"/>
<text x="306.80" y="31.00" font-family="'Liberation Sans',Arial,sans-serif" font-size="23" fill="#262626">CO<tspan font-size="14.3" dy="7.6">2</tspan></text>
<text x="1139.40" y="56.40" font-family="'Liberation Sans',Arial,sans-serif" font-size="23.8" fill="#262626">CO<tspan font-size="14.8" dy="10.0">2</tspan></text>
<text x="1139.40" y="94.40" font-family="'Liberation Sans',Arial,sans-serif" font-size="23.5" text-anchor="start" fill="#262626" >CO</text>
<text x="339.80" y="750.80" font-family="'Liberation Sans',Arial,sans-serif" font-size="26.6" fill="#262626">CO<tspan font-size="16.5" dy="8.8">2</tspan></text>
<text x="1125.50" y="693.10" font-family="'Liberation Sans',Arial,sans-serif" font-size="23" fill="#262626">CO<tspan font-size="14.3" dy="7.6">2</tspan></text>
</svg></body></html>
